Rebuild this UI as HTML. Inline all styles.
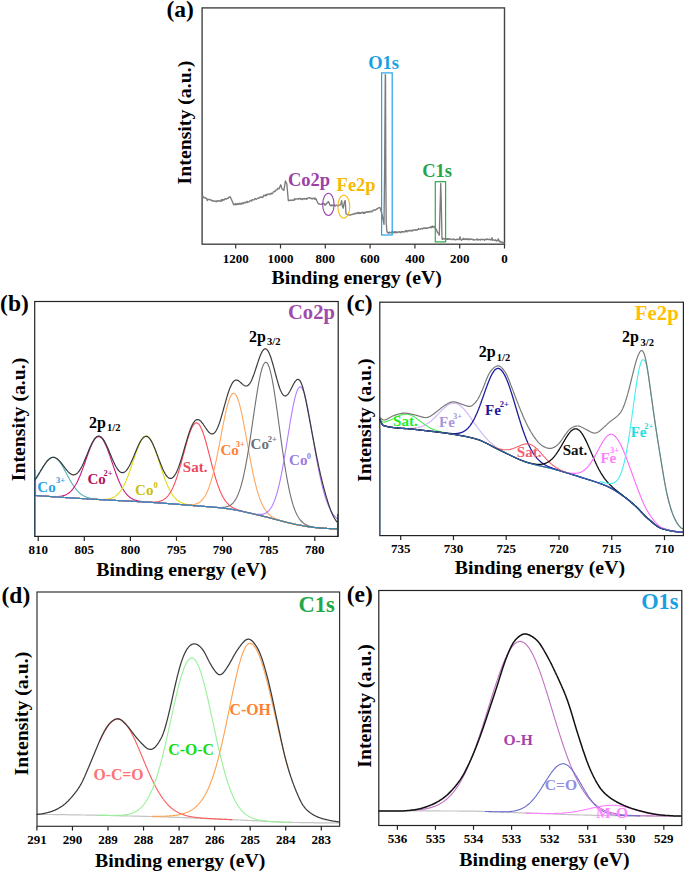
<!DOCTYPE html>
<html><head><meta charset="utf-8"><style>
html,body{margin:0;padding:0;background:#fff;}
body{width:685px;height:873px;overflow:hidden;}
svg{display:block;font-family:"Liberation Serif", serif;font-weight:bold;}
</style></head><body>
<svg width="685" height="873" viewBox="0 0 685 873">
<text x="166.4" y="16.8" font-size="23.5" fill="#000" >(a)</text>
<rect x="202.1" y="7.9" width="302.4" height="236.29999999999998" fill="none" stroke="#444" stroke-width="1.4"/>
<line x1="235.70" y1="244.2" x2="235.70" y2="248.5" stroke="#333" stroke-width="1.2"/>
<text x="235.70" y="262.6" font-size="13" text-anchor="middle">1200</text>
<line x1="280.50" y1="244.2" x2="280.50" y2="248.5" stroke="#333" stroke-width="1.2"/>
<text x="280.50" y="262.6" font-size="13" text-anchor="middle">1000</text>
<line x1="325.30" y1="244.2" x2="325.30" y2="248.5" stroke="#333" stroke-width="1.2"/>
<text x="325.30" y="262.6" font-size="13" text-anchor="middle">800</text>
<line x1="370.10" y1="244.2" x2="370.10" y2="248.5" stroke="#333" stroke-width="1.2"/>
<text x="370.10" y="262.6" font-size="13" text-anchor="middle">600</text>
<line x1="414.90" y1="244.2" x2="414.90" y2="248.5" stroke="#333" stroke-width="1.2"/>
<text x="414.90" y="262.6" font-size="13" text-anchor="middle">400</text>
<line x1="459.70" y1="244.2" x2="459.70" y2="248.5" stroke="#333" stroke-width="1.2"/>
<text x="459.70" y="262.6" font-size="13" text-anchor="middle">200</text>
<line x1="504.50" y1="244.2" x2="504.50" y2="248.5" stroke="#333" stroke-width="1.2"/>
<text x="504.50" y="262.6" font-size="13" text-anchor="middle">0</text>
<text transform="translate(191.4,184.4) rotate(-90)" font-size="19.8" fill="#000">Intensity (a.u.)</text>
<text x="271.5" y="283.5" font-size="19.8" fill="#000" >Binding energy (eV)</text>
<polyline fill="none" stroke="#7c7c7c" stroke-width="1.35" stroke-linejoin="round" stroke-linecap="round" points="202.5,197.8 203.0,196.2 203.6,197.7 204.1,197.5 204.6,197.8 205.2,198.1 205.7,197.7 206.2,198.6 206.8,198.6 207.3,200.5 207.8,199.4 208.3,199.3 208.9,199.5 209.4,199.5 209.9,199.5 210.4,199.9 210.9,200.3 211.5,200.2 212.0,200.8 212.5,200.5 213.0,200.7 213.6,201.4 214.1,201.2 214.6,200.9 215.1,201.0 215.6,201.3 216.2,201.8 216.7,200.9 217.2,200.9 217.7,201.3 218.2,200.5 218.8,200.8 219.3,201.2 219.8,201.0 220.3,200.8 220.9,201.0 221.4,199.6 221.9,201.1 222.4,200.1 223.0,199.5 223.5,200.1 224.0,200.0 224.5,199.3 225.1,198.8 225.6,199.0 226.1,198.7 226.6,199.1 227.2,198.5 227.7,198.1 228.2,198.2 228.8,197.5 229.3,197.0 229.9,197.4 230.4,197.0 230.9,198.3 231.5,199.6 232.0,200.8 232.5,202.1 233.1,203.4 233.6,204.9 234.1,204.6 234.6,204.3 235.2,204.6 235.7,203.5 236.2,204.7 236.7,204.6 237.2,203.6 237.8,204.3 238.3,203.8 238.8,204.4 239.3,203.3 239.9,203.6 240.4,204.2 240.9,204.4 241.4,202.9 241.9,203.4 242.4,203.6 242.9,203.0 243.4,203.7 244.0,202.5 244.5,202.9 245.0,202.2 245.5,203.0 246.0,202.3 246.5,202.0 247.0,201.3 247.5,202.5 248.0,202.0 248.6,201.8 249.1,201.8 249.6,201.3 250.1,200.8 250.6,200.5 251.1,200.4 251.6,201.1 252.1,199.7 252.6,199.9 253.1,199.8 253.7,199.9 254.2,199.8 254.7,198.9 255.2,198.5 255.7,199.0 256.2,199.3 256.7,199.0 257.2,198.6 257.7,198.2 258.2,198.2 258.8,197.8 259.3,198.1 259.8,197.2 260.3,197.4 260.8,197.1 261.3,197.2 261.8,196.9 262.3,197.6 262.8,197.0 263.3,196.8 263.8,195.2 264.4,195.7 264.9,195.4 265.4,195.7 265.9,194.4 266.4,195.6 266.9,195.3 267.4,194.2 267.9,194.1 268.4,194.0 268.9,194.1 269.4,194.2 269.9,194.6 270.5,193.5 271.0,193.7 271.5,193.2 272.0,193.7 272.5,193.1 273.0,193.1 273.5,191.8 274.0,191.7 274.5,191.1 275.0,191.6 275.5,190.9 276.0,190.1 276.6,189.7 277.1,189.7 277.6,188.8 278.1,188.3 278.6,188.5 279.1,188.9 279.6,187.4 280.1,186.2 280.7,184.8 281.2,186.2 281.8,188.4 282.3,189.1 282.9,189.3 283.4,190.0 283.9,190.4 284.4,187.3 284.9,184.1 285.4,181.0 285.9,182.3 286.4,182.8 286.9,184.6 287.6,192.6 288.3,200.5 288.8,200.7 289.3,200.2 289.8,200.3 290.3,200.1 290.9,200.2 291.4,200.6 291.9,200.0 292.4,200.0 292.9,200.3 293.4,200.2 293.9,200.4 294.5,198.7 295.0,199.6 295.5,198.9 296.0,199.0 296.6,199.0 297.1,198.9 297.6,198.9 298.2,198.6 298.7,199.2 299.2,198.5 299.7,198.5 300.3,198.9 300.8,198.4 301.3,199.5 301.8,199.1 302.4,199.6 302.9,198.7 303.4,198.6 303.9,198.8 304.5,199.1 305.0,198.6 305.5,198.9 306.0,198.6 306.5,199.2 307.0,198.2 307.5,198.8 308.0,198.1 308.5,197.9 309.0,197.9 309.5,197.6 310.0,198.1 310.5,198.5 311.0,198.2 311.6,198.5 312.1,199.0 312.6,198.5 313.1,198.6 313.6,198.5 314.1,198.0 314.6,199.1 315.2,198.1 315.7,199.2 316.2,199.0 316.8,201.0 317.4,202.0 318.0,203.3 318.6,203.9 319.1,203.7 319.7,204.1 320.2,204.3 320.8,204.4 321.3,204.3 321.9,203.9 322.4,204.1 323.0,203.2 323.5,203.8 324.1,203.6 324.6,204.8 325.2,205.1 325.8,204.0 326.3,204.2 326.8,203.5 327.3,202.5 327.8,202.5 328.3,201.5 328.9,202.3 329.6,204.2 330.2,205.5 330.8,205.6 331.3,205.0 331.9,205.7 332.4,205.7 332.9,204.9 333.5,205.0 334.1,205.3 334.6,205.2 335.2,206.1 335.8,205.6 336.3,205.1 336.9,205.3 337.4,205.4 338.0,206.3 338.5,205.1 339.1,205.1 339.6,205.1 340.2,204.8 340.9,203.8 341.6,200.7 342.4,206.2 343.2,208.2 344.1,203.3 344.6,201.4 345.2,200.6 345.7,209.3 346.0,213.6 346.7,214.2 347.4,214.3 348.0,214.4 348.5,214.9 349.1,215.0 349.6,214.9 350.2,215.0 350.7,214.8 351.3,214.5 351.8,214.7 352.3,214.4 352.9,214.0 353.4,214.2 353.9,214.2 354.4,213.7 355.0,213.3 355.5,213.5 356.0,213.9 356.5,213.0 357.0,213.0 357.5,213.0 358.0,213.5 358.5,212.3 359.0,213.2 359.5,213.5 360.0,212.7 360.5,213.5 361.0,213.1 361.5,212.6 362.0,212.9 362.5,212.1 363.0,212.5 363.5,213.4 364.0,212.2 364.5,213.3 365.0,212.5 365.5,212.8 366.0,212.4 366.5,211.5 367.0,212.1 367.5,212.3 368.0,211.7 368.5,211.6 369.0,212.2 369.5,211.8 370.0,211.3 370.5,211.5 371.0,211.9 371.5,211.2 372.0,211.5 372.5,211.5 373.0,210.7 373.5,210.0 374.0,209.8 374.5,210.1 375.1,210.2 375.6,209.7 376.1,209.6 376.6,209.0 377.1,209.1 377.6,208.6 378.1,208.4 378.6,207.8 379.1,207.5 379.6,207.7 380.1,207.7 380.7,210.0 381.4,212.2 382.0,214.5 382.5,216.9 383.0,219.4 383.5,221.9 384.0,224.3 384.6,172.0 385.3,74.6 385.5,75.0 385.8,172.0 386.2,223.0 386.9,231.6 387.4,232.4 387.9,232.1 388.4,233.4 389.0,232.7 389.5,232.2 390.0,232.8 390.5,232.6 391.0,232.2 391.5,232.9 392.0,232.1 392.5,231.1 393.0,232.6 393.5,232.0 394.0,232.9 394.5,232.0 395.0,231.7 395.5,232.8 396.0,231.7 396.5,232.2 397.0,232.7 397.5,232.1 398.0,232.0 398.5,232.0 399.0,232.3 399.5,231.6 400.0,232.1 400.5,232.1 401.0,232.8 401.5,231.7 402.0,231.4 402.5,232.0 403.0,231.6 403.5,231.8 404.0,231.7 404.5,232.1 405.0,231.3 405.5,231.5 406.0,230.4 406.5,231.0 407.0,231.9 407.5,230.9 408.0,230.8 408.5,230.5 409.0,231.1 409.5,230.9 410.0,230.3 410.5,230.9 411.0,230.7 411.5,230.8 412.0,230.1 412.5,231.0 413.0,230.4 413.5,230.1 414.0,229.8 414.5,229.9 415.0,230.2 415.5,229.7 416.0,230.1 416.5,229.8 417.0,230.1 417.5,229.8 418.0,229.3 418.5,228.5 419.0,229.3 419.5,229.4 420.0,229.1 420.5,229.1 421.0,228.6 421.5,228.6 422.1,228.3 422.6,229.1 423.1,228.5 423.6,228.2 424.1,227.7 424.6,228.1 425.1,228.6 425.7,228.2 426.2,227.6 426.7,228.4 427.2,228.3 427.7,228.0 428.2,227.8 428.7,227.9 429.3,227.5 429.8,227.5 430.3,226.8 430.8,227.6 431.3,227.0 431.8,227.7 432.3,226.0 432.9,227.0 433.4,227.0 433.9,226.4 434.4,226.6 434.9,227.6 435.4,228.5 436.0,228.9 436.5,230.0 437.0,231.4 437.6,232.6 438.1,233.1 438.7,234.2 439.3,235.2 439.8,217.6 440.3,200.0 440.7,183.4 441.2,200.0 442.0,239.0 442.5,239.3 443.0,238.5 443.5,238.4 444.0,239.0 444.5,238.6 445.0,238.8 445.5,239.1 446.0,239.3 446.5,238.7 447.0,239.5 447.5,238.5 448.0,239.4 448.5,238.6 449.0,238.7 449.5,239.5 450.0,239.1 450.5,239.0 451.0,239.1 451.5,239.5 452.0,239.3 452.5,239.3 453.0,239.7 453.5,239.0 454.0,239.1 454.5,239.1 455.0,239.8 455.5,239.7 456.0,239.8 456.5,239.3 457.0,239.2 457.5,239.6 458.0,239.1 458.5,239.6 459.0,239.6 459.5,239.0 460.1,236.8 460.7,239.3 461.2,240.0 461.7,240.3 462.2,239.3 462.7,239.3 463.2,238.4 463.7,239.4 464.2,239.3 464.7,238.9 465.2,239.6 465.7,238.7 466.3,239.3 466.8,239.4 467.3,238.8 467.8,239.7 468.3,239.8 468.8,238.8 469.3,238.8 469.8,239.6 470.3,239.4 470.8,238.9 471.3,239.3 471.8,239.3 472.3,239.3 472.8,239.7 473.3,239.5 473.8,240.1 474.3,239.9 474.8,239.7 475.3,239.8 475.8,239.9 476.4,239.7 476.9,238.9 477.4,239.8 477.9,239.4 478.4,240.1 478.9,239.5 479.4,239.6 479.9,239.6 480.4,240.1 480.9,239.5 481.4,239.3 481.9,239.6 482.4,239.3 482.9,239.5 483.4,239.4 483.9,239.6 484.4,240.2 484.9,239.3 485.4,239.5 485.9,239.4 486.5,239.7 487.0,239.0 487.5,239.2 488.0,239.5 488.5,239.7 489.0,239.5 489.5,239.3 490.0,239.1 490.5,239.7 491.0,240.1 491.5,239.6 492.0,237.6 492.5,240.2 493.0,239.7 493.5,240.0 494.0,240.0 494.5,240.3 495.0,240.2 495.5,239.8 496.0,240.8 496.5,241.0 497.0,240.3 497.5,240.6 498.0,240.6 498.2,238.8 499.0,240.4 499.5,241.8 500.0,241.2 500.5,242.1 501.0,241.8 501.5,241.8 502.0,242.1 502.5,242.8 503.0,242.3 503.5,242.6 504.0,243.0" />
<rect x="381.6" y="72.9" width="10.6" height="162.1" fill="none" stroke="#1fa4e6" stroke-width="1.2"/>
<rect x="435.3" y="181.7" width="10.3" height="60.2" fill="none" stroke="#2eaa4c" stroke-width="1.2"/>
<ellipse cx="328.4" cy="204.4" rx="5.7" ry="11.1" fill="none" stroke="#9b3fb0" stroke-width="1.1"/>
<ellipse cx="343.8" cy="206.6" rx="6.0" ry="11.4" fill="none" stroke="#f5bc10" stroke-width="1.1"/>
<text x="288.0" y="186" font-size="18.5" fill="#9d3fa9" >Co2p</text>
<text x="336.6" y="190.5" font-size="18.5" fill="#f8b800" >Fe2p</text>
<text x="368.2" y="68.8" font-size="18.5" fill="#1a9fe3" >O1s</text>
<text x="422.2" y="176.5" font-size="18.5" fill="#23a548" >C1s</text>
<text x="0.1" y="311.1" font-size="23.5" fill="#000" >(b)</text>
<polyline fill="none" stroke="#4fb3b8" stroke-width="1.1" stroke-linejoin="round" stroke-linecap="round" points="34.7,481.0 35.2,480.3 35.7,479.5 36.2,478.7 36.7,477.9 37.2,477.1 37.7,476.3 38.2,475.4 38.7,474.6 39.2,473.7 39.7,472.8 40.2,472.0 40.7,471.1 41.2,470.2 41.7,469.4 42.2,468.5 42.7,467.7 43.2,466.8 43.7,466.0 44.2,465.2 44.7,464.5 45.2,463.7 45.7,463.0 46.2,462.3 46.7,461.7 47.2,461.1 47.7,460.5 48.2,459.9 48.7,459.5 49.2,459.0 49.7,458.6 50.2,458.3 50.7,458.0 51.2,457.7 51.7,457.6 52.2,457.4 52.7,457.4 53.2,457.3 53.7,457.4 54.2,457.5 54.7,457.6 55.2,457.8 55.7,458.1 56.2,458.4 56.7,458.8 57.2,459.2 57.7,459.7 58.2,460.2 58.7,460.8 59.2,461.4 59.7,462.0 60.2,462.7 60.7,463.5 61.2,464.2 61.7,465.0 62.2,465.8 62.7,466.7 63.2,467.5 63.7,468.4 64.2,469.3 64.7,470.2 65.2,471.2 65.7,472.1 66.2,473.0 66.7,474.0 67.2,474.9 67.7,475.9 68.2,476.8 68.7,477.7 69.2,478.6 69.7,479.5 70.2,480.4 70.7,481.3 71.2,482.1 71.7,482.9 72.2,483.8 72.7,484.6 73.2,485.3 73.7,486.1 74.2,486.8 74.7,487.5 75.2,488.2 75.7,488.8 76.2,489.4 76.7,490.0 77.2,490.6 77.7,491.1 78.2,491.7 78.7,492.1 79.2,492.6 79.7,493.1 80.2,493.5 80.7,493.9 81.2,494.3 81.7,494.6 82.2,495.0 82.7,495.3 83.2,495.6 83.7,495.9 84.2,496.1 84.7,496.4 85.2,496.6 85.7,496.8 86.2,497.0 86.7,497.2 87.2,497.4 87.7,497.6 88.2,497.7 88.7,497.9 89.2,498.0 89.7,498.1 90.2,498.2 90.7,498.4 91.2,498.5 91.7,498.6 92.2,498.6 92.7,498.7 93.2,498.8 93.7,498.9 94.2,498.9 94.7,499.0 95.2,499.1 95.7,499.1 96.2,499.2 96.7,499.2 97.2,499.3 97.7,499.3 98.2,499.4 98.7,499.4 99.2,499.5 99.7,499.5 100.2,499.5 100.7,499.6 101.2,499.6 101.7,499.6 102.2,499.7 102.7,499.7 103.2,499.7 103.7,499.8 104.2,499.8 104.7,499.8 105.2,499.9 105.7,499.9 106.2,499.9 106.7,500.0 107.2,500.0 107.7,500.0 108.2,500.0 108.7,500.1 109.2,500.1 109.7,500.1 110.2,500.2 110.7,500.2 111.2,500.2 111.7,500.2 112.2,500.3 112.7,500.3 113.2,500.3 113.7,500.3 114.2,500.4 114.7,500.4 115.2,500.4 115.7,500.4 116.2,500.5 116.7,500.5 117.2,500.5 117.7,500.5 118.2,500.6 118.7,500.6 119.2,500.6 119.7,500.6 120.2,500.7 120.7,500.7 121.2,500.7 121.7,500.7 122.2,500.8 122.7,500.8 123.2,500.8 123.7,500.8 124.2,500.9 124.7,500.9 125.2,500.9 125.7,500.9 126.2,501.0 126.7,501.0 127.2,501.0 127.7,501.0 128.2,501.1 128.7,501.1 129.2,501.1 129.7,501.2 130.2,501.2 130.7,501.2 131.2,501.2 131.7,501.3 132.2,501.3 132.7,501.3 133.2,501.3 133.7,501.4 134.2,501.4 134.7,501.4 135.2,501.4 135.7,501.5 136.2,501.5 136.7,501.5 137.2,501.6 137.7,501.6 138.2,501.6 138.7,501.6 139.2,501.7 139.7,501.7 140.2,501.7 140.7,501.7 141.2,501.8 141.7,501.8 142.2,501.8 142.7,501.9 143.2,501.9 143.7,501.9 144.2,501.9 144.7,502.0 145.2,502.0 145.7,502.0 146.2,502.1 146.7,502.1 147.2,502.1 147.7,502.2 148.2,502.2 148.7,502.2 149.2,502.2 149.7,502.3 150.2,502.3 150.7,502.3 151.2,502.4 151.7,502.4 152.2,502.4 152.7,502.5 153.2,502.5 153.7,502.5 154.2,502.6 154.7,502.6 155.2,502.6 155.7,502.7 156.2,502.7 156.7,502.7 157.2,502.8 157.7,502.8 158.2,502.8 158.7,502.9 159.2,502.9 159.7,502.9 160.2,503.0 160.7,503.0 161.2,503.1 161.7,503.1 162.2,503.1 162.7,503.2 163.2,503.2 163.7,503.2 164.2,503.3 164.7,503.3 165.2,503.3 165.7,503.4 166.2,503.4 166.7,503.5 167.2,503.5 167.7,503.5 168.2,503.6 168.7,503.6 169.2,503.6 169.7,503.7 170.2,503.7 170.7,503.8 171.2,503.8 171.7,503.8 172.2,503.9 172.7,503.9 173.2,504.0 173.7,504.0 174.2,504.0 174.7,504.1 175.2,504.1 175.7,504.1 176.2,504.2 176.7,504.2 177.2,504.3 177.7,504.3 178.2,504.3 178.7,504.4 179.2,504.4 179.7,504.5 180.2,504.5 180.7,504.5 181.2,504.6 181.7,504.6 182.2,504.7 182.7,504.7 183.2,504.7 183.7,504.8 184.2,504.8 184.7,504.9 185.2,504.9 185.7,504.9 186.2,505.0 186.7,505.0 187.2,505.1 187.7,505.1 188.2,505.2 188.7,505.2 189.2,505.2 189.7,505.3 190.2,505.3 190.7,505.4 191.2,505.4 191.7,505.4 192.2,505.5 192.7,505.5 193.2,505.6 193.7,505.6 194.2,505.6 194.7,505.7 195.2,505.7 195.7,505.8 196.2,505.8 196.7,505.8 197.2,505.9 197.7,505.9 198.2,505.9 198.7,506.0 199.2,506.0 199.7,506.1 200.2,506.1 200.7,506.1 201.2,506.2 201.7,506.2 202.2,506.3 202.7,506.3 203.2,506.3 203.7,506.4 204.2,506.4 204.7,506.5 205.2,506.5 205.7,506.5 206.2,506.6 206.7,506.6 207.2,506.7 207.7,506.7 208.2,506.7 208.7,506.8 209.2,506.8 209.7,506.9 210.2,506.9 210.7,506.9 211.2,507.0 211.7,507.0 212.2,507.1 212.7,507.1 213.2,507.2 213.7,507.2 214.2,507.3 214.7,507.3 215.2,507.4 215.7,507.4 216.2,507.4 216.7,507.5 217.2,507.5 217.7,507.6 218.2,507.6 218.7,507.7 219.2,507.7 219.7,507.8 220.2,507.8 220.7,507.9 221.2,508.0 221.7,508.0 222.2,508.1 222.7,508.1 223.2,508.2 223.7,508.2 224.2,508.3 224.7,508.4 225.2,508.4 225.7,508.5 226.2,508.5 226.7,508.6 227.2,508.7 227.7,508.7 228.2,508.8 228.7,508.9 229.2,508.9 229.7,509.0 230.2,509.1 230.7,509.2 231.2,509.2 231.7,509.3 232.2,509.4 232.7,509.5 233.2,509.6 233.7,509.7 234.2,509.8 234.7,509.8 235.2,509.9 235.7,510.0 236.2,510.1 236.7,510.2 237.2,510.3 237.7,510.4 238.2,510.5 238.7,510.6 239.2,510.7 239.7,510.8 240.2,510.9 240.7,511.0 241.2,511.1 241.7,511.2 242.2,511.4 242.7,511.5 243.2,511.6 243.7,511.7 244.2,511.8 244.7,511.9 245.2,512.0 245.7,512.1 246.2,512.3 246.7,512.4 247.2,512.5 247.7,512.6 248.2,512.7 248.7,512.8 249.2,512.9 249.7,513.1 250.2,513.2 250.7,513.3 251.2,513.4 251.7,513.5 252.2,513.7 252.7,513.8 253.2,513.9 253.7,514.0 254.2,514.1 254.7,514.2 255.2,514.4 255.7,514.5 256.2,514.6 256.7,514.7 257.2,514.8 257.7,515.0 258.2,515.1 258.7,515.2 259.2,515.3 259.7,515.4 260.2,515.5 260.7,515.6 261.2,515.8 261.7,515.9 262.2,516.0 262.7,516.1 263.2,516.2 263.7,516.3 264.2,516.5 264.7,516.6 265.2,516.7 265.7,516.8 266.2,516.9 266.7,517.1 267.2,517.2 267.7,517.3 268.2,517.5 268.7,517.6 269.2,517.7 269.7,517.8 270.2,518.0 270.7,518.1 271.2,518.2 271.7,518.4 272.2,518.5 272.7,518.6 273.2,518.8 273.7,518.9 274.2,519.0 274.7,519.2 275.2,519.3 275.7,519.4 276.2,519.6 276.7,519.7 277.2,519.8 277.7,520.0 278.2,520.1 278.7,520.2 279.2,520.4 279.7,520.5 280.2,520.6 280.7,520.8 281.2,520.9 281.7,521.0 282.2,521.2 282.7,521.3 283.2,521.4 283.7,521.6 284.2,521.7 284.7,521.8 285.2,522.0 285.7,522.1 286.2,522.2 286.7,522.3 287.2,522.5 287.7,522.6 288.2,522.7 288.7,522.8 289.2,523.0 289.7,523.1 290.2,523.2 290.7,523.3 291.2,523.4 291.7,523.5 292.2,523.6 292.7,523.8 293.2,523.9 293.7,524.0 294.2,524.1 294.7,524.2 295.2,524.3 295.7,524.4 296.2,524.5 296.7,524.6 297.2,524.7 297.7,524.8 298.2,524.9 298.7,525.0 299.2,525.1 299.7,525.2 300.2,525.3 300.7,525.4 301.2,525.4 301.7,525.5 302.2,525.6 302.7,525.7 303.2,525.8 303.7,525.9 304.2,526.0 304.7,526.1 305.2,526.2 305.7,526.3 306.2,526.4 306.7,526.4 307.2,526.5 307.7,526.6 308.2,526.7 308.7,526.8 309.2,526.8 309.7,526.9 310.2,527.0 310.7,527.1 311.2,527.1 311.7,527.2 312.2,527.3 312.7,527.3 313.2,527.4 313.7,527.4 314.2,527.5 314.7,527.5 315.2,527.6 315.7,527.6 316.2,527.7 316.7,527.7 317.2,527.7 317.7,527.8 318.2,527.8 318.7,527.9 319.2,527.9 319.7,527.9 320.2,528.0 320.7,528.0 321.2,528.1 321.7,528.1 322.2,528.1 322.7,528.2 323.2,528.2 323.7,528.2 324.2,528.3 324.7,528.3 325.2,528.3 325.7,528.4 326.2,528.4 326.7,528.4 327.2,528.5 327.7,528.5 328.2,528.5 328.7,528.5 329.2,528.6 329.7,528.6 330.2,528.6 330.7,528.6 331.2,528.7 331.7,528.7 332.2,528.7 332.7,528.7 333.2,528.7 333.7,528.7 334.2,528.8 334.7,528.8 335.2,528.8 335.7,528.8 336.2,528.8 336.7,528.8 337.2,528.8" />
<polyline fill="none" stroke="#c8157e" stroke-width="1.1" stroke-linejoin="round" stroke-linecap="round" points="34.7,495.4 35.2,495.4 35.7,495.5 36.2,495.5 36.7,495.5 37.2,495.6 37.7,495.6 38.2,495.7 38.7,495.7 39.2,495.7 39.7,495.8 40.2,495.8 40.7,495.8 41.2,495.9 41.7,495.9 42.2,496.0 42.7,496.0 43.2,496.0 43.7,496.1 44.2,496.1 44.7,496.1 45.2,496.2 45.7,496.2 46.2,496.2 46.7,496.3 47.2,496.3 47.7,496.3 48.2,496.4 48.7,496.4 49.2,496.4 49.7,496.4 50.2,496.5 50.7,496.5 51.2,496.5 51.7,496.5 52.2,496.6 52.7,496.6 53.2,496.6 53.7,496.6 54.2,496.6 54.7,496.6 55.2,496.6 55.7,496.6 56.2,496.6 56.7,496.6 57.2,496.6 57.7,496.6 58.2,496.5 58.7,496.5 59.2,496.5 59.7,496.4 60.2,496.4 60.7,496.3 61.2,496.2 61.7,496.1 62.2,496.0 62.7,495.9 63.2,495.8 63.7,495.6 64.2,495.5 64.7,495.3 65.2,495.1 65.7,494.9 66.2,494.7 66.7,494.4 67.2,494.1 67.7,493.8 68.2,493.5 68.7,493.1 69.2,492.8 69.7,492.3 70.2,491.9 70.7,491.4 71.2,490.9 71.7,490.4 72.2,489.8 72.7,489.2 73.2,488.5 73.7,487.8 74.2,487.1 74.7,486.3 75.2,485.5 75.7,484.7 76.2,483.8 76.7,482.9 77.2,481.9 77.7,480.9 78.2,479.8 78.7,478.7 79.2,477.6 79.7,476.4 80.2,475.2 80.7,474.0 81.2,472.7 81.7,471.4 82.2,470.1 82.7,468.8 83.2,467.4 83.7,466.0 84.2,464.6 84.7,463.2 85.2,461.8 85.7,460.4 86.2,459.0 86.7,457.5 87.2,456.1 87.7,454.7 88.2,453.4 88.7,452.0 89.2,450.7 89.7,449.4 90.2,448.1 90.7,446.9 91.2,445.8 91.7,444.7 92.2,443.6 92.7,442.6 93.2,441.7 93.7,440.8 94.2,440.0 94.7,439.3 95.2,438.6 95.7,438.1 96.2,437.6 96.7,437.2 97.2,436.9 97.7,436.7 98.2,436.6 98.7,436.5 99.2,436.6 99.7,436.7 100.2,437.0 100.7,437.3 101.2,437.7 101.7,438.2 102.2,438.8 102.7,439.5 103.2,440.2 103.7,441.0 104.2,441.9 104.7,442.9 105.2,443.9 105.7,445.0 106.2,446.1 106.7,447.4 107.2,448.6 107.7,449.9 108.2,451.2 108.7,452.6 109.2,454.0 109.7,455.4 110.2,456.9 110.7,458.3 111.2,459.8 111.7,461.3 112.2,462.7 112.7,464.2 113.2,465.7 113.7,467.1 114.2,468.6 114.7,470.0 115.2,471.4 115.7,472.8 116.2,474.2 116.7,475.5 117.2,476.8 117.7,478.1 118.2,479.3 118.7,480.5 119.2,481.7 119.7,482.8 120.2,483.9 120.7,484.9 121.2,485.9 121.7,486.9 122.2,487.8 122.7,488.7 123.2,489.5 123.7,490.3 124.2,491.1 124.7,491.8 125.2,492.5 125.7,493.1 126.2,493.8 126.7,494.3 127.2,494.9 127.7,495.4 128.2,495.9 128.7,496.3 129.2,496.7 129.7,497.1 130.2,497.5 130.7,497.9 131.2,498.2 131.7,498.5 132.2,498.8 132.7,499.0 133.2,499.3 133.7,499.5 134.2,499.7 134.7,499.9 135.2,500.1 135.7,500.2 136.2,500.4 136.7,500.5 137.2,500.7 137.7,500.8 138.2,500.9 138.7,501.0 139.2,501.1 139.7,501.2 140.2,501.3 140.7,501.3 141.2,501.4 141.7,501.5 142.2,501.6 142.7,501.6 143.2,501.7 143.7,501.7 144.2,501.8 144.7,501.8 145.2,501.9 145.7,501.9 146.2,502.0 146.7,502.0 147.2,502.1 147.7,502.1 148.2,502.1 148.7,502.2 149.2,502.2 149.7,502.2 150.2,502.3 150.7,502.3 151.2,502.4 151.7,502.4 152.2,502.4 152.7,502.5 153.2,502.5 153.7,502.5 154.2,502.6 154.7,502.6 155.2,502.6 155.7,502.7 156.2,502.7 156.7,502.7 157.2,502.8 157.7,502.8 158.2,502.8 158.7,502.9 159.2,502.9 159.7,502.9 160.2,503.0 160.7,503.0 161.2,503.1 161.7,503.1 162.2,503.1 162.7,503.2 163.2,503.2 163.7,503.2 164.2,503.3 164.7,503.3 165.2,503.3 165.7,503.4 166.2,503.4 166.7,503.5 167.2,503.5 167.7,503.5 168.2,503.6 168.7,503.6 169.2,503.6 169.7,503.7 170.2,503.7 170.7,503.8 171.2,503.8 171.7,503.8 172.2,503.9 172.7,503.9 173.2,504.0 173.7,504.0 174.2,504.0 174.7,504.1 175.2,504.1 175.7,504.1 176.2,504.2 176.7,504.2 177.2,504.3 177.7,504.3 178.2,504.3 178.7,504.4 179.2,504.4 179.7,504.5 180.2,504.5 180.7,504.5 181.2,504.6 181.7,504.6 182.2,504.7 182.7,504.7 183.2,504.7 183.7,504.8 184.2,504.8 184.7,504.9 185.2,504.9 185.7,504.9 186.2,505.0 186.7,505.0 187.2,505.1 187.7,505.1 188.2,505.2 188.7,505.2 189.2,505.2 189.7,505.3 190.2,505.3 190.7,505.4 191.2,505.4 191.7,505.4 192.2,505.5 192.7,505.5 193.2,505.6 193.7,505.6 194.2,505.6 194.7,505.7 195.2,505.7 195.7,505.8 196.2,505.8 196.7,505.8 197.2,505.9 197.7,505.9 198.2,505.9 198.7,506.0 199.2,506.0 199.7,506.1 200.2,506.1 200.7,506.1 201.2,506.2 201.7,506.2 202.2,506.3 202.7,506.3 203.2,506.3 203.7,506.4 204.2,506.4 204.7,506.5 205.2,506.5 205.7,506.5 206.2,506.6 206.7,506.6 207.2,506.7 207.7,506.7 208.2,506.7 208.7,506.8 209.2,506.8 209.7,506.9 210.2,506.9 210.7,506.9 211.2,507.0 211.7,507.0 212.2,507.1 212.7,507.1 213.2,507.2 213.7,507.2 214.2,507.3 214.7,507.3 215.2,507.4 215.7,507.4 216.2,507.4 216.7,507.5 217.2,507.5 217.7,507.6 218.2,507.6 218.7,507.7 219.2,507.7 219.7,507.8 220.2,507.8 220.7,507.9 221.2,508.0 221.7,508.0 222.2,508.1 222.7,508.1 223.2,508.2 223.7,508.2 224.2,508.3 224.7,508.4 225.2,508.4 225.7,508.5 226.2,508.5 226.7,508.6 227.2,508.7 227.7,508.7 228.2,508.8 228.7,508.9 229.2,508.9 229.7,509.0 230.2,509.1 230.7,509.2 231.2,509.2 231.7,509.3 232.2,509.4 232.7,509.5 233.2,509.6 233.7,509.7 234.2,509.8 234.7,509.8 235.2,509.9 235.7,510.0 236.2,510.1 236.7,510.2 237.2,510.3 237.7,510.4 238.2,510.5 238.7,510.6 239.2,510.7 239.7,510.8 240.2,510.9 240.7,511.0 241.2,511.1 241.7,511.2 242.2,511.4 242.7,511.5 243.2,511.6 243.7,511.7 244.2,511.8 244.7,511.9 245.2,512.0 245.7,512.1 246.2,512.3 246.7,512.4 247.2,512.5 247.7,512.6 248.2,512.7 248.7,512.8 249.2,512.9 249.7,513.1 250.2,513.2 250.7,513.3 251.2,513.4 251.7,513.5 252.2,513.7 252.7,513.8 253.2,513.9 253.7,514.0 254.2,514.1 254.7,514.2 255.2,514.4 255.7,514.5 256.2,514.6 256.7,514.7 257.2,514.8 257.7,515.0 258.2,515.1 258.7,515.2 259.2,515.3 259.7,515.4 260.2,515.5 260.7,515.6 261.2,515.8 261.7,515.9 262.2,516.0 262.7,516.1 263.2,516.2 263.7,516.3 264.2,516.5 264.7,516.6 265.2,516.7 265.7,516.8 266.2,516.9 266.7,517.1 267.2,517.2 267.7,517.3 268.2,517.5 268.7,517.6 269.2,517.7 269.7,517.8 270.2,518.0 270.7,518.1 271.2,518.2 271.7,518.4 272.2,518.5 272.7,518.6 273.2,518.8 273.7,518.9 274.2,519.0 274.7,519.2 275.2,519.3 275.7,519.4 276.2,519.6 276.7,519.7 277.2,519.8 277.7,520.0 278.2,520.1 278.7,520.2 279.2,520.4 279.7,520.5 280.2,520.6 280.7,520.8 281.2,520.9 281.7,521.0 282.2,521.2 282.7,521.3 283.2,521.4 283.7,521.6 284.2,521.7 284.7,521.8 285.2,522.0 285.7,522.1 286.2,522.2 286.7,522.3 287.2,522.5 287.7,522.6 288.2,522.7 288.7,522.8 289.2,523.0 289.7,523.1 290.2,523.2 290.7,523.3 291.2,523.4 291.7,523.5 292.2,523.6 292.7,523.8 293.2,523.9 293.7,524.0 294.2,524.1 294.7,524.2 295.2,524.3 295.7,524.4 296.2,524.5 296.7,524.6 297.2,524.7 297.7,524.8 298.2,524.9 298.7,525.0 299.2,525.1 299.7,525.2 300.2,525.3 300.7,525.4 301.2,525.4 301.7,525.5 302.2,525.6 302.7,525.7 303.2,525.8 303.7,525.9 304.2,526.0 304.7,526.1 305.2,526.2 305.7,526.3 306.2,526.4 306.7,526.4 307.2,526.5 307.7,526.6 308.2,526.7 308.7,526.8 309.2,526.8 309.7,526.9 310.2,527.0 310.7,527.1 311.2,527.1 311.7,527.2 312.2,527.3 312.7,527.3 313.2,527.4 313.7,527.4 314.2,527.5 314.7,527.5 315.2,527.6 315.7,527.6 316.2,527.7 316.7,527.7 317.2,527.7 317.7,527.8 318.2,527.8 318.7,527.9 319.2,527.9 319.7,527.9 320.2,528.0 320.7,528.0 321.2,528.1 321.7,528.1 322.2,528.1 322.7,528.2 323.2,528.2 323.7,528.2 324.2,528.3 324.7,528.3 325.2,528.3 325.7,528.4 326.2,528.4 326.7,528.4 327.2,528.5 327.7,528.5 328.2,528.5 328.7,528.5 329.2,528.6 329.7,528.6 330.2,528.6 330.7,528.6 331.2,528.7 331.7,528.7 332.2,528.7 332.7,528.7 333.2,528.7 333.7,528.7 334.2,528.8 334.7,528.8 335.2,528.8 335.7,528.8 336.2,528.8 336.7,528.8 337.2,528.8" />
<polyline fill="none" stroke="#dede10" stroke-width="1.1" stroke-linejoin="round" stroke-linecap="round" points="34.7,495.4 35.2,495.4 35.7,495.5 36.2,495.5 36.7,495.6 37.2,495.6 37.7,495.6 38.2,495.7 38.7,495.7 39.2,495.7 39.7,495.8 40.2,495.8 40.7,495.8 41.2,495.9 41.7,495.9 42.2,496.0 42.7,496.0 43.2,496.0 43.7,496.1 44.2,496.1 44.7,496.1 45.2,496.2 45.7,496.2 46.2,496.2 46.7,496.3 47.2,496.3 47.7,496.4 48.2,496.4 48.7,496.4 49.2,496.5 49.7,496.5 50.2,496.5 50.7,496.6 51.2,496.6 51.7,496.6 52.2,496.7 52.7,496.7 53.2,496.7 53.7,496.8 54.2,496.8 54.7,496.8 55.2,496.9 55.7,496.9 56.2,496.9 56.7,497.0 57.2,497.0 57.7,497.0 58.2,497.1 58.7,497.1 59.2,497.1 59.7,497.2 60.2,497.2 60.7,497.2 61.2,497.3 61.7,497.3 62.2,497.3 62.7,497.4 63.2,497.4 63.7,497.4 64.2,497.5 64.7,497.5 65.2,497.5 65.7,497.6 66.2,497.6 66.7,497.6 67.2,497.7 67.7,497.7 68.2,497.7 68.7,497.8 69.2,497.8 69.7,497.8 70.2,497.8 70.7,497.9 71.2,497.9 71.7,497.9 72.2,498.0 72.7,498.0 73.2,498.0 73.7,498.1 74.2,498.1 74.7,498.1 75.2,498.2 75.7,498.2 76.2,498.2 76.7,498.2 77.2,498.3 77.7,498.3 78.2,498.3 78.7,498.4 79.2,498.4 79.7,498.4 80.2,498.5 80.7,498.5 81.2,498.5 81.7,498.5 82.2,498.6 82.7,498.6 83.2,498.6 83.7,498.7 84.2,498.7 84.7,498.7 85.2,498.7 85.7,498.8 86.2,498.8 86.7,498.8 87.2,498.9 87.7,498.9 88.2,498.9 88.7,498.9 89.2,499.0 89.7,499.0 90.2,499.0 90.7,499.1 91.2,499.1 91.7,499.1 92.2,499.1 92.7,499.2 93.2,499.2 93.7,499.2 94.2,499.2 94.7,499.3 95.2,499.3 95.7,499.3 96.2,499.3 96.7,499.4 97.2,499.4 97.7,499.4 98.2,499.4 98.7,499.4 99.2,499.4 99.7,499.5 100.2,499.5 100.7,499.5 101.2,499.5 101.7,499.5 102.2,499.5 102.7,499.5 103.2,499.5 103.7,499.5 104.2,499.4 104.7,499.4 105.2,499.4 105.7,499.3 106.2,499.3 106.7,499.3 107.2,499.2 107.7,499.1 108.2,499.0 108.7,499.0 109.2,498.9 109.7,498.7 110.2,498.6 110.7,498.5 111.2,498.3 111.7,498.1 112.2,498.0 112.7,497.7 113.2,497.5 113.7,497.3 114.2,497.0 114.7,496.7 115.2,496.4 115.7,496.0 116.2,495.6 116.7,495.2 117.2,494.8 117.7,494.3 118.2,493.8 118.7,493.3 119.2,492.7 119.7,492.1 120.2,491.4 120.7,490.7 121.2,490.0 121.7,489.2 122.2,488.4 122.7,487.6 123.2,486.7 123.7,485.7 124.2,484.7 124.7,483.7 125.2,482.7 125.7,481.5 126.2,480.4 126.7,479.2 127.2,478.0 127.7,476.7 128.2,475.4 128.7,474.1 129.2,472.7 129.7,471.3 130.2,469.9 130.7,468.5 131.2,467.0 131.7,465.6 132.2,464.1 132.7,462.6 133.2,461.1 133.7,459.6 134.2,458.1 134.7,456.7 135.2,455.2 135.7,453.7 136.2,452.3 136.7,450.9 137.2,449.6 137.7,448.3 138.2,447.0 138.7,445.8 139.2,444.6 139.7,443.5 140.2,442.4 140.7,441.5 141.2,440.5 141.7,439.7 142.2,439.0 142.7,438.3 143.2,437.7 143.7,437.2 144.2,436.8 144.7,436.5 145.2,436.2 145.7,436.1 146.2,436.1 146.7,436.1 147.2,436.3 147.7,436.5 148.2,436.9 148.7,437.3 149.2,437.8 149.7,438.4 150.2,439.1 150.7,439.9 151.2,440.8 151.7,441.7 152.2,442.7 152.7,443.8 153.2,445.0 153.7,446.2 154.2,447.4 154.7,448.8 155.2,450.1 155.7,451.5 156.2,453.0 156.7,454.4 157.2,455.9 157.7,457.4 158.2,459.0 158.7,460.5 159.2,462.1 159.7,463.6 160.2,465.2 160.7,466.7 161.2,468.3 161.7,469.8 162.2,471.3 162.7,472.8 163.2,474.2 163.7,475.7 164.2,477.1 164.7,478.5 165.2,479.8 165.7,481.1 166.2,482.4 166.7,483.6 167.2,484.8 167.7,485.9 168.2,487.0 168.7,488.1 169.2,489.1 169.7,490.1 170.2,491.0 170.7,491.9 171.2,492.8 171.7,493.6 172.2,494.3 172.7,495.1 173.2,495.8 173.7,496.4 174.2,497.0 174.7,497.6 175.2,498.2 175.7,498.7 176.2,499.2 176.7,499.6 177.2,500.1 177.7,500.5 178.2,500.8 178.7,501.2 179.2,501.5 179.7,501.8 180.2,502.1 180.7,502.4 181.2,502.6 181.7,502.8 182.2,503.1 182.7,503.3 183.2,503.4 183.7,503.6 184.2,503.8 184.7,503.9 185.2,504.1 185.7,504.2 186.2,504.3 186.7,504.4 187.2,504.5 187.7,504.6 188.2,504.7 188.7,504.8 189.2,504.9 189.7,505.0 190.2,505.1 190.7,505.1 191.2,505.2 191.7,505.3 192.2,505.3 192.7,505.4 193.2,505.4 193.7,505.5 194.2,505.5 194.7,505.6 195.2,505.6 195.7,505.7 196.2,505.7 196.7,505.8 197.2,505.8 197.7,505.9 198.2,505.9 198.7,506.0 199.2,506.0 199.7,506.0 200.2,506.1 200.7,506.1 201.2,506.2 201.7,506.2 202.2,506.2 202.7,506.3 203.2,506.3 203.7,506.4 204.2,506.4 204.7,506.4 205.2,506.5 205.7,506.5 206.2,506.6 206.7,506.6 207.2,506.7 207.7,506.7 208.2,506.7 208.7,506.8 209.2,506.8 209.7,506.9 210.2,506.9 210.7,506.9 211.2,507.0 211.7,507.0 212.2,507.1 212.7,507.1 213.2,507.2 213.7,507.2 214.2,507.3 214.7,507.3 215.2,507.4 215.7,507.4 216.2,507.4 216.7,507.5 217.2,507.5 217.7,507.6 218.2,507.6 218.7,507.7 219.2,507.7 219.7,507.8 220.2,507.8 220.7,507.9 221.2,508.0 221.7,508.0 222.2,508.1 222.7,508.1 223.2,508.2 223.7,508.2 224.2,508.3 224.7,508.4 225.2,508.4 225.7,508.5 226.2,508.5 226.7,508.6 227.2,508.7 227.7,508.7 228.2,508.8 228.7,508.9 229.2,508.9 229.7,509.0 230.2,509.1 230.7,509.2 231.2,509.2 231.7,509.3 232.2,509.4 232.7,509.5 233.2,509.6 233.7,509.7 234.2,509.8 234.7,509.8 235.2,509.9 235.7,510.0 236.2,510.1 236.7,510.2 237.2,510.3 237.7,510.4 238.2,510.5 238.7,510.6 239.2,510.7 239.7,510.8 240.2,510.9 240.7,511.0 241.2,511.1 241.7,511.2 242.2,511.4 242.7,511.5 243.2,511.6 243.7,511.7 244.2,511.8 244.7,511.9 245.2,512.0 245.7,512.1 246.2,512.3 246.7,512.4 247.2,512.5 247.7,512.6 248.2,512.7 248.7,512.8 249.2,512.9 249.7,513.1 250.2,513.2 250.7,513.3 251.2,513.4 251.7,513.5 252.2,513.7 252.7,513.8 253.2,513.9 253.7,514.0 254.2,514.1 254.7,514.2 255.2,514.4 255.7,514.5 256.2,514.6 256.7,514.7 257.2,514.8 257.7,515.0 258.2,515.1 258.7,515.2 259.2,515.3 259.7,515.4 260.2,515.5 260.7,515.6 261.2,515.8 261.7,515.9 262.2,516.0 262.7,516.1 263.2,516.2 263.7,516.3 264.2,516.5 264.7,516.6 265.2,516.7 265.7,516.8 266.2,516.9 266.7,517.1 267.2,517.2 267.7,517.3 268.2,517.5 268.7,517.6 269.2,517.7 269.7,517.8 270.2,518.0 270.7,518.1 271.2,518.2 271.7,518.4 272.2,518.5 272.7,518.6 273.2,518.8 273.7,518.9 274.2,519.0 274.7,519.2 275.2,519.3 275.7,519.4 276.2,519.6 276.7,519.7 277.2,519.8 277.7,520.0 278.2,520.1 278.7,520.2 279.2,520.4 279.7,520.5 280.2,520.6 280.7,520.8 281.2,520.9 281.7,521.0 282.2,521.2 282.7,521.3 283.2,521.4 283.7,521.6 284.2,521.7 284.7,521.8 285.2,522.0 285.7,522.1 286.2,522.2 286.7,522.3 287.2,522.5 287.7,522.6 288.2,522.7 288.7,522.8 289.2,523.0 289.7,523.1 290.2,523.2 290.7,523.3 291.2,523.4 291.7,523.5 292.2,523.6 292.7,523.8 293.2,523.9 293.7,524.0 294.2,524.1 294.7,524.2 295.2,524.3 295.7,524.4 296.2,524.5 296.7,524.6 297.2,524.7 297.7,524.8 298.2,524.9 298.7,525.0 299.2,525.1 299.7,525.2 300.2,525.3 300.7,525.4 301.2,525.4 301.7,525.5 302.2,525.6 302.7,525.7 303.2,525.8 303.7,525.9 304.2,526.0 304.7,526.1 305.2,526.2 305.7,526.3 306.2,526.4 306.7,526.4 307.2,526.5 307.7,526.6 308.2,526.7 308.7,526.8 309.2,526.8 309.7,526.9 310.2,527.0 310.7,527.1 311.2,527.1 311.7,527.2 312.2,527.3 312.7,527.3 313.2,527.4 313.7,527.4 314.2,527.5 314.7,527.5 315.2,527.6 315.7,527.6 316.2,527.7 316.7,527.7 317.2,527.7 317.7,527.8 318.2,527.8 318.7,527.9 319.2,527.9 319.7,527.9 320.2,528.0 320.7,528.0 321.2,528.1 321.7,528.1 322.2,528.1 322.7,528.2 323.2,528.2 323.7,528.2 324.2,528.3 324.7,528.3 325.2,528.3 325.7,528.4 326.2,528.4 326.7,528.4 327.2,528.5 327.7,528.5 328.2,528.5 328.7,528.5 329.2,528.6 329.7,528.6 330.2,528.6 330.7,528.6 331.2,528.7 331.7,528.7 332.2,528.7 332.7,528.7 333.2,528.7 333.7,528.7 334.2,528.8 334.7,528.8 335.2,528.8 335.7,528.8 336.2,528.8 336.7,528.8 337.2,528.8" />
<polyline fill="none" stroke="#ff4a5a" stroke-width="1.1" stroke-linejoin="round" stroke-linecap="round" points="34.7,495.4 35.2,495.4 35.7,495.5 36.2,495.5 36.7,495.6 37.2,495.6 37.7,495.6 38.2,495.7 38.7,495.7 39.2,495.7 39.7,495.8 40.2,495.8 40.7,495.8 41.2,495.9 41.7,495.9 42.2,496.0 42.7,496.0 43.2,496.0 43.7,496.1 44.2,496.1 44.7,496.1 45.2,496.2 45.7,496.2 46.2,496.2 46.7,496.3 47.2,496.3 47.7,496.4 48.2,496.4 48.7,496.4 49.2,496.5 49.7,496.5 50.2,496.5 50.7,496.6 51.2,496.6 51.7,496.6 52.2,496.7 52.7,496.7 53.2,496.7 53.7,496.8 54.2,496.8 54.7,496.8 55.2,496.9 55.7,496.9 56.2,496.9 56.7,497.0 57.2,497.0 57.7,497.0 58.2,497.1 58.7,497.1 59.2,497.1 59.7,497.2 60.2,497.2 60.7,497.2 61.2,497.3 61.7,497.3 62.2,497.3 62.7,497.4 63.2,497.4 63.7,497.4 64.2,497.5 64.7,497.5 65.2,497.5 65.7,497.6 66.2,497.6 66.7,497.6 67.2,497.7 67.7,497.7 68.2,497.7 68.7,497.8 69.2,497.8 69.7,497.8 70.2,497.8 70.7,497.9 71.2,497.9 71.7,497.9 72.2,498.0 72.7,498.0 73.2,498.0 73.7,498.1 74.2,498.1 74.7,498.1 75.2,498.2 75.7,498.2 76.2,498.2 76.7,498.2 77.2,498.3 77.7,498.3 78.2,498.3 78.7,498.4 79.2,498.4 79.7,498.4 80.2,498.5 80.7,498.5 81.2,498.5 81.7,498.5 82.2,498.6 82.7,498.6 83.2,498.6 83.7,498.7 84.2,498.7 84.7,498.7 85.2,498.7 85.7,498.8 86.2,498.8 86.7,498.8 87.2,498.9 87.7,498.9 88.2,498.9 88.7,499.0 89.2,499.0 89.7,499.0 90.2,499.0 90.7,499.1 91.2,499.1 91.7,499.1 92.2,499.2 92.7,499.2 93.2,499.2 93.7,499.2 94.2,499.3 94.7,499.3 95.2,499.3 95.7,499.4 96.2,499.4 96.7,499.4 97.2,499.4 97.7,499.5 98.2,499.5 98.7,499.5 99.2,499.6 99.7,499.6 100.2,499.6 100.7,499.6 101.2,499.7 101.7,499.7 102.2,499.7 102.7,499.8 103.2,499.8 103.7,499.8 104.2,499.8 104.7,499.9 105.2,499.9 105.7,499.9 106.2,499.9 106.7,500.0 107.2,500.0 107.7,500.0 108.2,500.0 108.7,500.1 109.2,500.1 109.7,500.1 110.2,500.2 110.7,500.2 111.2,500.2 111.7,500.2 112.2,500.3 112.7,500.3 113.2,500.3 113.7,500.3 114.2,500.4 114.7,500.4 115.2,500.4 115.7,500.4 116.2,500.5 116.7,500.5 117.2,500.5 117.7,500.5 118.2,500.6 118.7,500.6 119.2,500.6 119.7,500.6 120.2,500.7 120.7,500.7 121.2,500.7 121.7,500.7 122.2,500.8 122.7,500.8 123.2,500.8 123.7,500.8 124.2,500.9 124.7,500.9 125.2,500.9 125.7,500.9 126.2,501.0 126.7,501.0 127.2,501.0 127.7,501.0 128.2,501.1 128.7,501.1 129.2,501.1 129.7,501.2 130.2,501.2 130.7,501.2 131.2,501.2 131.7,501.3 132.2,501.3 132.7,501.3 133.2,501.3 133.7,501.4 134.2,501.4 134.7,501.4 135.2,501.4 135.7,501.5 136.2,501.5 136.7,501.5 137.2,501.5 137.7,501.6 138.2,501.6 138.7,501.6 139.2,501.7 139.7,501.7 140.2,501.7 140.7,501.7 141.2,501.8 141.7,501.8 142.2,501.8 142.7,501.8 143.2,501.9 143.7,501.9 144.2,501.9 144.7,501.9 145.2,502.0 145.7,502.0 146.2,502.0 146.7,502.0 147.2,502.1 147.7,502.1 148.2,502.1 148.7,502.1 149.2,502.1 149.7,502.1 150.2,502.1 150.7,502.2 151.2,502.2 151.7,502.2 152.2,502.2 152.7,502.2 153.2,502.1 153.7,502.1 154.2,502.1 154.7,502.1 155.2,502.0 155.7,502.0 156.2,502.0 156.7,501.9 157.2,501.8 157.7,501.8 158.2,501.7 158.7,501.6 159.2,501.4 159.7,501.3 160.2,501.2 160.7,501.0 161.2,500.8 161.7,500.6 162.2,500.4 162.7,500.2 163.2,499.9 163.7,499.6 164.2,499.3 164.7,498.9 165.2,498.5 165.7,498.1 166.2,497.7 166.7,497.2 167.2,496.6 167.7,496.1 168.2,495.5 168.7,494.8 169.2,494.1 169.7,493.4 170.2,492.6 170.7,491.8 171.2,490.9 171.7,490.0 172.2,489.0 172.7,488.0 173.2,486.9 173.7,485.7 174.2,484.5 174.7,483.3 175.2,482.0 175.7,480.6 176.2,479.2 176.7,477.8 177.2,476.3 177.7,474.7 178.2,473.1 178.7,471.5 179.2,469.8 179.7,468.1 180.2,466.4 180.7,464.6 181.2,462.8 181.7,460.9 182.2,459.1 182.7,457.2 183.2,455.4 183.7,453.5 184.2,451.6 184.7,449.8 185.2,447.9 185.7,446.1 186.2,444.3 186.7,442.5 187.2,440.8 187.7,439.1 188.2,437.5 188.7,436.0 189.2,434.4 189.7,433.0 190.2,431.7 190.7,430.4 191.2,429.2 191.7,428.1 192.2,427.1 192.7,426.2 193.2,425.4 193.7,424.7 194.2,424.1 194.7,423.6 195.2,423.3 195.7,423.0 196.2,422.9 196.7,422.9 197.2,423.1 197.7,423.3 198.2,423.7 198.7,424.1 199.2,424.7 199.7,425.4 200.2,426.2 200.7,427.2 201.2,428.2 201.7,429.3 202.2,430.5 202.7,431.8 203.2,433.2 203.7,434.7 204.2,436.2 204.7,437.8 205.2,439.5 205.7,441.2 206.2,443.0 206.7,444.8 207.2,446.7 207.7,448.6 208.2,450.5 208.7,452.4 209.2,454.4 209.7,456.3 210.2,458.3 210.7,460.2 211.2,462.2 211.7,464.1 212.2,466.0 212.7,467.9 213.2,469.7 213.7,471.6 214.2,473.3 214.7,475.1 215.2,476.8 215.7,478.5 216.2,480.1 216.7,481.7 217.2,483.2 217.7,484.6 218.2,486.1 218.7,487.4 219.2,488.8 219.7,490.0 220.2,491.2 220.7,492.4 221.2,493.5 221.7,494.5 222.2,495.6 222.7,496.5 223.2,497.4 223.7,498.3 224.2,499.1 224.7,499.9 225.2,500.6 225.7,501.3 226.2,501.9 226.7,502.5 227.2,503.1 227.7,503.6 228.2,504.1 228.7,504.6 229.2,505.1 229.7,505.5 230.2,505.9 230.7,506.3 231.2,506.6 231.7,507.0 232.2,507.3 232.7,507.6 233.2,507.8 233.7,508.1 234.2,508.4 234.7,508.6 235.2,508.8 235.7,509.0 236.2,509.2 236.7,509.4 237.2,509.6 237.7,509.8 238.2,510.0 238.7,510.1 239.2,510.3 239.7,510.4 240.2,510.6 240.7,510.7 241.2,510.9 241.7,511.0 242.2,511.2 242.7,511.3 243.2,511.4 243.7,511.5 244.2,511.7 244.7,511.8 245.2,511.9 245.7,512.1 246.2,512.2 246.7,512.3 247.2,512.4 247.7,512.6 248.2,512.7 248.7,512.8 249.2,512.9 249.7,513.0 250.2,513.2 250.7,513.3 251.2,513.4 251.7,513.5 252.2,513.6 252.7,513.8 253.2,513.9 253.7,514.0 254.2,514.1 254.7,514.2 255.2,514.4 255.7,514.5 256.2,514.6 256.7,514.7 257.2,514.8 257.7,515.0 258.2,515.1 258.7,515.2 259.2,515.3 259.7,515.4 260.2,515.5 260.7,515.6 261.2,515.8 261.7,515.9 262.2,516.0 262.7,516.1 263.2,516.2 263.7,516.3 264.2,516.5 264.7,516.6 265.2,516.7 265.7,516.8 266.2,516.9 266.7,517.1 267.2,517.2 267.7,517.3 268.2,517.5 268.7,517.6 269.2,517.7 269.7,517.8 270.2,518.0 270.7,518.1 271.2,518.2 271.7,518.4 272.2,518.5 272.7,518.6 273.2,518.8 273.7,518.9 274.2,519.0 274.7,519.2 275.2,519.3 275.7,519.4 276.2,519.6 276.7,519.7 277.2,519.8 277.7,520.0 278.2,520.1 278.7,520.2 279.2,520.4 279.7,520.5 280.2,520.6 280.7,520.8 281.2,520.9 281.7,521.0 282.2,521.2 282.7,521.3 283.2,521.4 283.7,521.6 284.2,521.7 284.7,521.8 285.2,522.0 285.7,522.1 286.2,522.2 286.7,522.3 287.2,522.5 287.7,522.6 288.2,522.7 288.7,522.8 289.2,523.0 289.7,523.1 290.2,523.2 290.7,523.3 291.2,523.4 291.7,523.5 292.2,523.6 292.7,523.8 293.2,523.9 293.7,524.0 294.2,524.1 294.7,524.2 295.2,524.3 295.7,524.4 296.2,524.5 296.7,524.6 297.2,524.7 297.7,524.8 298.2,524.9 298.7,525.0 299.2,525.1 299.7,525.2 300.2,525.3 300.7,525.4 301.2,525.4 301.7,525.5 302.2,525.6 302.7,525.7 303.2,525.8 303.7,525.9 304.2,526.0 304.7,526.1 305.2,526.2 305.7,526.3 306.2,526.4 306.7,526.4 307.2,526.5 307.7,526.6 308.2,526.7 308.7,526.8 309.2,526.8 309.7,526.9 310.2,527.0 310.7,527.1 311.2,527.1 311.7,527.2 312.2,527.3 312.7,527.3 313.2,527.4 313.7,527.4 314.2,527.5 314.7,527.5 315.2,527.6 315.7,527.6 316.2,527.7 316.7,527.7 317.2,527.7 317.7,527.8 318.2,527.8 318.7,527.9 319.2,527.9 319.7,527.9 320.2,528.0 320.7,528.0 321.2,528.1 321.7,528.1 322.2,528.1 322.7,528.2 323.2,528.2 323.7,528.2 324.2,528.3 324.7,528.3 325.2,528.3 325.7,528.4 326.2,528.4 326.7,528.4 327.2,528.5 327.7,528.5 328.2,528.5 328.7,528.5 329.2,528.6 329.7,528.6 330.2,528.6 330.7,528.6 331.2,528.7 331.7,528.7 332.2,528.7 332.7,528.7 333.2,528.7 333.7,528.7 334.2,528.8 334.7,528.8 335.2,528.8 335.7,528.8 336.2,528.8 336.7,528.8 337.2,528.8" />
<polyline fill="none" stroke="#ffa55c" stroke-width="1.1" stroke-linejoin="round" stroke-linecap="round" points="34.7,495.4 35.2,495.4 35.7,495.5 36.2,495.5 36.7,495.6 37.2,495.6 37.7,495.6 38.2,495.7 38.7,495.7 39.2,495.7 39.7,495.8 40.2,495.8 40.7,495.8 41.2,495.9 41.7,495.9 42.2,496.0 42.7,496.0 43.2,496.0 43.7,496.1 44.2,496.1 44.7,496.1 45.2,496.2 45.7,496.2 46.2,496.2 46.7,496.3 47.2,496.3 47.7,496.4 48.2,496.4 48.7,496.4 49.2,496.5 49.7,496.5 50.2,496.5 50.7,496.6 51.2,496.6 51.7,496.6 52.2,496.7 52.7,496.7 53.2,496.7 53.7,496.8 54.2,496.8 54.7,496.8 55.2,496.9 55.7,496.9 56.2,496.9 56.7,497.0 57.2,497.0 57.7,497.0 58.2,497.1 58.7,497.1 59.2,497.1 59.7,497.2 60.2,497.2 60.7,497.2 61.2,497.3 61.7,497.3 62.2,497.3 62.7,497.4 63.2,497.4 63.7,497.4 64.2,497.5 64.7,497.5 65.2,497.5 65.7,497.6 66.2,497.6 66.7,497.6 67.2,497.7 67.7,497.7 68.2,497.7 68.7,497.8 69.2,497.8 69.7,497.8 70.2,497.8 70.7,497.9 71.2,497.9 71.7,497.9 72.2,498.0 72.7,498.0 73.2,498.0 73.7,498.1 74.2,498.1 74.7,498.1 75.2,498.2 75.7,498.2 76.2,498.2 76.7,498.2 77.2,498.3 77.7,498.3 78.2,498.3 78.7,498.4 79.2,498.4 79.7,498.4 80.2,498.5 80.7,498.5 81.2,498.5 81.7,498.5 82.2,498.6 82.7,498.6 83.2,498.6 83.7,498.7 84.2,498.7 84.7,498.7 85.2,498.7 85.7,498.8 86.2,498.8 86.7,498.8 87.2,498.9 87.7,498.9 88.2,498.9 88.7,499.0 89.2,499.0 89.7,499.0 90.2,499.0 90.7,499.1 91.2,499.1 91.7,499.1 92.2,499.2 92.7,499.2 93.2,499.2 93.7,499.2 94.2,499.3 94.7,499.3 95.2,499.3 95.7,499.4 96.2,499.4 96.7,499.4 97.2,499.4 97.7,499.5 98.2,499.5 98.7,499.5 99.2,499.6 99.7,499.6 100.2,499.6 100.7,499.6 101.2,499.7 101.7,499.7 102.2,499.7 102.7,499.8 103.2,499.8 103.7,499.8 104.2,499.8 104.7,499.9 105.2,499.9 105.7,499.9 106.2,499.9 106.7,500.0 107.2,500.0 107.7,500.0 108.2,500.0 108.7,500.1 109.2,500.1 109.7,500.1 110.2,500.2 110.7,500.2 111.2,500.2 111.7,500.2 112.2,500.3 112.7,500.3 113.2,500.3 113.7,500.3 114.2,500.4 114.7,500.4 115.2,500.4 115.7,500.4 116.2,500.5 116.7,500.5 117.2,500.5 117.7,500.5 118.2,500.6 118.7,500.6 119.2,500.6 119.7,500.6 120.2,500.7 120.7,500.7 121.2,500.7 121.7,500.7 122.2,500.8 122.7,500.8 123.2,500.8 123.7,500.8 124.2,500.9 124.7,500.9 125.2,500.9 125.7,500.9 126.2,501.0 126.7,501.0 127.2,501.0 127.7,501.0 128.2,501.1 128.7,501.1 129.2,501.1 129.7,501.2 130.2,501.2 130.7,501.2 131.2,501.2 131.7,501.3 132.2,501.3 132.7,501.3 133.2,501.3 133.7,501.4 134.2,501.4 134.7,501.4 135.2,501.4 135.7,501.5 136.2,501.5 136.7,501.5 137.2,501.6 137.7,501.6 138.2,501.6 138.7,501.6 139.2,501.7 139.7,501.7 140.2,501.7 140.7,501.7 141.2,501.8 141.7,501.8 142.2,501.8 142.7,501.9 143.2,501.9 143.7,501.9 144.2,501.9 144.7,502.0 145.2,502.0 145.7,502.0 146.2,502.1 146.7,502.1 147.2,502.1 147.7,502.2 148.2,502.2 148.7,502.2 149.2,502.2 149.7,502.3 150.2,502.3 150.7,502.3 151.2,502.4 151.7,502.4 152.2,502.4 152.7,502.5 153.2,502.5 153.7,502.5 154.2,502.6 154.7,502.6 155.2,502.6 155.7,502.7 156.2,502.7 156.7,502.7 157.2,502.8 157.7,502.8 158.2,502.8 158.7,502.9 159.2,502.9 159.7,502.9 160.2,503.0 160.7,503.0 161.2,503.1 161.7,503.1 162.2,503.1 162.7,503.2 163.2,503.2 163.7,503.2 164.2,503.3 164.7,503.3 165.2,503.3 165.7,503.4 166.2,503.4 166.7,503.5 167.2,503.5 167.7,503.5 168.2,503.6 168.7,503.6 169.2,503.6 169.7,503.7 170.2,503.7 170.7,503.8 171.2,503.8 171.7,503.8 172.2,503.9 172.7,503.9 173.2,503.9 173.7,504.0 174.2,504.0 174.7,504.1 175.2,504.1 175.7,504.1 176.2,504.2 176.7,504.2 177.2,504.3 177.7,504.3 178.2,504.3 178.7,504.4 179.2,504.4 179.7,504.4 180.2,504.5 180.7,504.5 181.2,504.5 181.7,504.6 182.2,504.6 182.7,504.6 183.2,504.7 183.7,504.7 184.2,504.7 184.7,504.8 185.2,504.8 185.7,504.8 186.2,504.8 186.7,504.8 187.2,504.9 187.7,504.9 188.2,504.9 188.7,504.9 189.2,504.9 189.7,504.9 190.2,504.8 190.7,504.8 191.2,504.8 191.7,504.8 192.2,504.7 192.7,504.6 193.2,504.6 193.7,504.5 194.2,504.4 194.7,504.3 195.2,504.2 195.7,504.0 196.2,503.9 196.7,503.7 197.2,503.5 197.7,503.3 198.2,503.0 198.7,502.7 199.2,502.4 199.7,502.1 200.2,501.7 200.7,501.3 201.2,500.9 201.7,500.4 202.2,499.8 202.7,499.3 203.2,498.7 203.7,498.0 204.2,497.3 204.7,496.5 205.2,495.7 205.7,494.8 206.2,493.9 206.7,492.8 207.2,491.8 207.7,490.6 208.2,489.4 208.7,488.1 209.2,486.8 209.7,485.4 210.2,483.9 210.7,482.3 211.2,480.7 211.7,479.0 212.2,477.2 212.7,475.3 213.2,473.4 213.7,471.3 214.2,469.3 214.7,467.1 215.2,464.9 215.7,462.6 216.2,460.3 216.7,457.9 217.2,455.5 217.7,453.0 218.2,450.5 218.7,447.9 219.2,445.3 219.7,442.7 220.2,440.1 220.7,437.5 221.2,434.9 221.7,432.2 222.2,429.6 222.7,427.1 223.2,424.5 223.7,422.0 224.2,419.6 224.7,417.2 225.2,414.8 225.7,412.6 226.2,410.4 226.7,408.4 227.2,406.4 227.7,404.5 228.2,402.8 228.7,401.2 229.2,399.7 229.7,398.4 230.2,397.2 230.7,396.2 231.2,395.3 231.7,394.5 232.2,394.0 232.7,393.6 233.2,393.3 233.7,393.3 234.2,393.4 234.7,393.7 235.2,394.1 235.7,394.7 236.2,395.5 236.7,396.4 237.2,397.5 237.7,398.8 238.2,400.2 238.7,401.7 239.2,403.4 239.7,405.2 240.2,407.1 240.7,409.2 241.2,411.3 241.7,413.6 242.2,415.9 242.7,418.4 243.2,420.9 243.7,423.5 244.2,426.1 244.7,428.8 245.2,431.5 245.7,434.2 246.2,437.0 246.7,439.8 247.2,442.6 247.7,445.4 248.2,448.2 248.7,451.0 249.2,453.7 249.7,456.4 250.2,459.1 250.7,461.7 251.2,464.3 251.7,466.9 252.2,469.4 252.7,471.8 253.2,474.2 253.7,476.4 254.2,478.7 254.7,480.8 255.2,482.9 255.7,484.9 256.2,486.9 256.7,488.7 257.2,490.5 257.7,492.2 258.2,493.9 258.7,495.4 259.2,496.9 259.7,498.4 260.2,499.7 260.7,501.0 261.2,502.2 261.7,503.4 262.2,504.4 262.7,505.5 263.2,506.4 263.7,507.4 264.2,508.2 264.7,509.0 265.2,509.8 265.7,510.5 266.2,511.2 266.7,511.8 267.2,512.4 267.7,513.0 268.2,513.5 268.7,514.0 269.2,514.5 269.7,515.0 270.2,515.4 270.7,515.8 271.2,516.1 271.7,516.5 272.2,516.8 272.7,517.1 273.2,517.4 273.7,517.7 274.2,518.0 274.7,518.2 275.2,518.5 275.7,518.7 276.2,518.9 276.7,519.1 277.2,519.3 277.7,519.5 278.2,519.7 278.7,519.9 279.2,520.1 279.7,520.2 280.2,520.4 280.7,520.6 281.2,520.7 281.7,520.9 282.2,521.0 282.7,521.2 283.2,521.3 283.7,521.5 284.2,521.6 284.7,521.8 285.2,521.9 285.7,522.0 286.2,522.2 286.7,522.3 287.2,522.4 287.7,522.6 288.2,522.7 288.7,522.8 289.2,522.9 289.7,523.1 290.2,523.2 290.7,523.3 291.2,523.4 291.7,523.5 292.2,523.6 292.7,523.8 293.2,523.9 293.7,524.0 294.2,524.1 294.7,524.2 295.2,524.3 295.7,524.4 296.2,524.5 296.7,524.6 297.2,524.7 297.7,524.8 298.2,524.9 298.7,525.0 299.2,525.1 299.7,525.2 300.2,525.3 300.7,525.3 301.2,525.4 301.7,525.5 302.2,525.6 302.7,525.7 303.2,525.8 303.7,525.9 304.2,526.0 304.7,526.1 305.2,526.2 305.7,526.3 306.2,526.4 306.7,526.4 307.2,526.5 307.7,526.6 308.2,526.7 308.7,526.8 309.2,526.8 309.7,526.9 310.2,527.0 310.7,527.1 311.2,527.1 311.7,527.2 312.2,527.3 312.7,527.3 313.2,527.4 313.7,527.4 314.2,527.5 314.7,527.5 315.2,527.6 315.7,527.6 316.2,527.7 316.7,527.7 317.2,527.7 317.7,527.8 318.2,527.8 318.7,527.9 319.2,527.9 319.7,527.9 320.2,528.0 320.7,528.0 321.2,528.1 321.7,528.1 322.2,528.1 322.7,528.2 323.2,528.2 323.7,528.2 324.2,528.3 324.7,528.3 325.2,528.3 325.7,528.4 326.2,528.4 326.7,528.4 327.2,528.5 327.7,528.5 328.2,528.5 328.7,528.5 329.2,528.6 329.7,528.6 330.2,528.6 330.7,528.6 331.2,528.7 331.7,528.7 332.2,528.7 332.7,528.7 333.2,528.7 333.7,528.7 334.2,528.8 334.7,528.8 335.2,528.8 335.7,528.8 336.2,528.8 336.7,528.8 337.2,528.8" />
<polyline fill="none" stroke="#707070" stroke-width="1.1" stroke-linejoin="round" stroke-linecap="round" points="34.7,495.4 35.2,495.4 35.7,495.5 36.2,495.5 36.7,495.6 37.2,495.6 37.7,495.6 38.2,495.7 38.7,495.7 39.2,495.7 39.7,495.8 40.2,495.8 40.7,495.8 41.2,495.9 41.7,495.9 42.2,496.0 42.7,496.0 43.2,496.0 43.7,496.1 44.2,496.1 44.7,496.1 45.2,496.2 45.7,496.2 46.2,496.2 46.7,496.3 47.2,496.3 47.7,496.4 48.2,496.4 48.7,496.4 49.2,496.5 49.7,496.5 50.2,496.5 50.7,496.6 51.2,496.6 51.7,496.6 52.2,496.7 52.7,496.7 53.2,496.7 53.7,496.8 54.2,496.8 54.7,496.8 55.2,496.9 55.7,496.9 56.2,496.9 56.7,497.0 57.2,497.0 57.7,497.0 58.2,497.1 58.7,497.1 59.2,497.1 59.7,497.2 60.2,497.2 60.7,497.2 61.2,497.3 61.7,497.3 62.2,497.3 62.7,497.4 63.2,497.4 63.7,497.4 64.2,497.5 64.7,497.5 65.2,497.5 65.7,497.6 66.2,497.6 66.7,497.6 67.2,497.7 67.7,497.7 68.2,497.7 68.7,497.8 69.2,497.8 69.7,497.8 70.2,497.8 70.7,497.9 71.2,497.9 71.7,497.9 72.2,498.0 72.7,498.0 73.2,498.0 73.7,498.1 74.2,498.1 74.7,498.1 75.2,498.2 75.7,498.2 76.2,498.2 76.7,498.2 77.2,498.3 77.7,498.3 78.2,498.3 78.7,498.4 79.2,498.4 79.7,498.4 80.2,498.5 80.7,498.5 81.2,498.5 81.7,498.5 82.2,498.6 82.7,498.6 83.2,498.6 83.7,498.7 84.2,498.7 84.7,498.7 85.2,498.7 85.7,498.8 86.2,498.8 86.7,498.8 87.2,498.9 87.7,498.9 88.2,498.9 88.7,499.0 89.2,499.0 89.7,499.0 90.2,499.0 90.7,499.1 91.2,499.1 91.7,499.1 92.2,499.2 92.7,499.2 93.2,499.2 93.7,499.2 94.2,499.3 94.7,499.3 95.2,499.3 95.7,499.4 96.2,499.4 96.7,499.4 97.2,499.4 97.7,499.5 98.2,499.5 98.7,499.5 99.2,499.6 99.7,499.6 100.2,499.6 100.7,499.6 101.2,499.7 101.7,499.7 102.2,499.7 102.7,499.8 103.2,499.8 103.7,499.8 104.2,499.8 104.7,499.9 105.2,499.9 105.7,499.9 106.2,499.9 106.7,500.0 107.2,500.0 107.7,500.0 108.2,500.0 108.7,500.1 109.2,500.1 109.7,500.1 110.2,500.2 110.7,500.2 111.2,500.2 111.7,500.2 112.2,500.3 112.7,500.3 113.2,500.3 113.7,500.3 114.2,500.4 114.7,500.4 115.2,500.4 115.7,500.4 116.2,500.5 116.7,500.5 117.2,500.5 117.7,500.5 118.2,500.6 118.7,500.6 119.2,500.6 119.7,500.6 120.2,500.7 120.7,500.7 121.2,500.7 121.7,500.7 122.2,500.8 122.7,500.8 123.2,500.8 123.7,500.8 124.2,500.9 124.7,500.9 125.2,500.9 125.7,500.9 126.2,501.0 126.7,501.0 127.2,501.0 127.7,501.0 128.2,501.1 128.7,501.1 129.2,501.1 129.7,501.2 130.2,501.2 130.7,501.2 131.2,501.2 131.7,501.3 132.2,501.3 132.7,501.3 133.2,501.3 133.7,501.4 134.2,501.4 134.7,501.4 135.2,501.4 135.7,501.5 136.2,501.5 136.7,501.5 137.2,501.6 137.7,501.6 138.2,501.6 138.7,501.6 139.2,501.7 139.7,501.7 140.2,501.7 140.7,501.7 141.2,501.8 141.7,501.8 142.2,501.8 142.7,501.9 143.2,501.9 143.7,501.9 144.2,501.9 144.7,502.0 145.2,502.0 145.7,502.0 146.2,502.1 146.7,502.1 147.2,502.1 147.7,502.2 148.2,502.2 148.7,502.2 149.2,502.2 149.7,502.3 150.2,502.3 150.7,502.3 151.2,502.4 151.7,502.4 152.2,502.4 152.7,502.5 153.2,502.5 153.7,502.5 154.2,502.6 154.7,502.6 155.2,502.6 155.7,502.7 156.2,502.7 156.7,502.7 157.2,502.8 157.7,502.8 158.2,502.8 158.7,502.9 159.2,502.9 159.7,502.9 160.2,503.0 160.7,503.0 161.2,503.1 161.7,503.1 162.2,503.1 162.7,503.2 163.2,503.2 163.7,503.2 164.2,503.3 164.7,503.3 165.2,503.3 165.7,503.4 166.2,503.4 166.7,503.5 167.2,503.5 167.7,503.5 168.2,503.6 168.7,503.6 169.2,503.6 169.7,503.7 170.2,503.7 170.7,503.8 171.2,503.8 171.7,503.8 172.2,503.9 172.7,503.9 173.2,504.0 173.7,504.0 174.2,504.0 174.7,504.1 175.2,504.1 175.7,504.1 176.2,504.2 176.7,504.2 177.2,504.3 177.7,504.3 178.2,504.3 178.7,504.4 179.2,504.4 179.7,504.5 180.2,504.5 180.7,504.5 181.2,504.6 181.7,504.6 182.2,504.7 182.7,504.7 183.2,504.7 183.7,504.8 184.2,504.8 184.7,504.9 185.2,504.9 185.7,504.9 186.2,505.0 186.7,505.0 187.2,505.1 187.7,505.1 188.2,505.2 188.7,505.2 189.2,505.2 189.7,505.3 190.2,505.3 190.7,505.4 191.2,505.4 191.7,505.4 192.2,505.5 192.7,505.5 193.2,505.6 193.7,505.6 194.2,505.6 194.7,505.7 195.2,505.7 195.7,505.8 196.2,505.8 196.7,505.8 197.2,505.9 197.7,505.9 198.2,505.9 198.7,506.0 199.2,506.0 199.7,506.1 200.2,506.1 200.7,506.1 201.2,506.2 201.7,506.2 202.2,506.3 202.7,506.3 203.2,506.3 203.7,506.4 204.2,506.4 204.7,506.4 205.2,506.5 205.7,506.5 206.2,506.6 206.7,506.6 207.2,506.6 207.7,506.7 208.2,506.7 208.7,506.8 209.2,506.8 209.7,506.8 210.2,506.9 210.7,506.9 211.2,507.0 211.7,507.0 212.2,507.0 212.7,507.1 213.2,507.1 213.7,507.2 214.2,507.2 214.7,507.2 215.2,507.3 215.7,507.3 216.2,507.3 216.7,507.4 217.2,507.4 217.7,507.4 218.2,507.4 218.7,507.5 219.2,507.5 219.7,507.5 220.2,507.5 220.7,507.5 221.2,507.5 221.7,507.5 222.2,507.5 222.7,507.4 223.2,507.4 223.7,507.4 224.2,507.3 224.7,507.3 225.2,507.2 225.7,507.1 226.2,507.0 226.7,506.8 227.2,506.7 227.7,506.5 228.2,506.3 228.7,506.1 229.2,505.9 229.7,505.6 230.2,505.3 230.7,505.0 231.2,504.6 231.7,504.2 232.2,503.8 232.7,503.3 233.2,502.8 233.7,502.2 234.2,501.5 234.7,500.9 235.2,500.1 235.7,499.3 236.2,498.4 236.7,497.5 237.2,496.4 237.7,495.3 238.2,494.2 238.7,492.9 239.2,491.6 239.7,490.1 240.2,488.6 240.7,487.0 241.2,485.3 241.7,483.5 242.2,481.6 242.7,479.6 243.2,477.5 243.7,475.3 244.2,473.0 244.7,470.7 245.2,468.2 245.7,465.6 246.2,462.9 246.7,460.2 247.2,457.3 247.7,454.4 248.2,451.4 248.7,448.3 249.2,445.1 249.7,441.9 250.2,438.6 250.7,435.3 251.2,431.9 251.7,428.5 252.2,425.1 252.7,421.7 253.2,418.2 253.7,414.8 254.2,411.4 254.7,408.0 255.2,404.6 255.7,401.3 256.2,398.1 256.7,394.9 257.2,391.8 257.7,388.8 258.2,385.9 258.7,383.2 259.2,380.5 259.7,378.1 260.2,375.7 260.7,373.5 261.2,371.5 261.7,369.7 262.2,368.0 262.7,366.6 263.2,365.3 263.7,364.3 264.2,363.5 264.7,362.9 265.2,362.5 265.7,362.3 266.2,362.4 266.7,362.6 267.2,363.1 267.7,363.9 268.2,364.8 268.7,366.0 269.2,367.3 269.7,368.9 270.2,370.7 270.7,372.7 271.2,374.8 271.7,377.1 272.2,379.6 272.7,382.3 273.2,385.1 273.7,388.0 274.2,391.1 274.7,394.3 275.2,397.6 275.7,400.9 276.2,404.4 276.7,407.9 277.2,411.5 277.7,415.1 278.2,418.8 278.7,422.5 279.2,426.2 279.7,429.8 280.2,433.5 280.7,437.2 281.2,440.8 281.7,444.4 282.2,448.0 282.7,451.5 283.2,454.9 283.7,458.3 284.2,461.6 284.7,464.9 285.2,468.0 285.7,471.1 286.2,474.0 286.7,476.9 287.2,479.7 287.7,482.4 288.2,484.9 288.7,487.4 289.2,489.8 289.7,492.1 290.2,494.3 290.7,496.3 291.2,498.3 291.7,500.2 292.2,502.0 292.7,503.7 293.2,505.3 293.7,506.8 294.2,508.2 294.7,509.6 295.2,510.9 295.7,512.0 296.2,513.2 296.7,514.2 297.2,515.2 297.7,516.1 298.2,517.0 298.7,517.8 299.2,518.5 299.7,519.2 300.2,519.9 300.7,520.5 301.2,521.0 301.7,521.5 302.2,522.0 302.7,522.5 303.2,522.9 303.7,523.3 304.2,523.7 304.7,524.0 305.2,524.3 305.7,524.6 306.2,524.9 306.7,525.1 307.2,525.3 307.7,525.6 308.2,525.8 308.7,525.9 309.2,526.1 309.7,526.3 310.2,526.4 310.7,526.6 311.2,526.7 311.7,526.8 312.2,526.9 312.7,527.0 313.2,527.1 313.7,527.2 314.2,527.3 314.7,527.4 315.2,527.4 315.7,527.5 316.2,527.5 316.7,527.6 317.2,527.7 317.7,527.7 318.2,527.8 318.7,527.8 319.2,527.9 319.7,527.9 320.2,527.9 320.7,528.0 321.2,528.0 321.7,528.1 322.2,528.1 322.7,528.2 323.2,528.2 323.7,528.2 324.2,528.3 324.7,528.3 325.2,528.3 325.7,528.4 326.2,528.4 326.7,528.4 327.2,528.5 327.7,528.5 328.2,528.5 328.7,528.5 329.2,528.6 329.7,528.6 330.2,528.6 330.7,528.6 331.2,528.7 331.7,528.7 332.2,528.7 332.7,528.7 333.2,528.7 333.7,528.7 334.2,528.8 334.7,528.8 335.2,528.8 335.7,528.8 336.2,528.8 336.7,528.8 337.2,528.8" />
<polyline fill="none" stroke="#b27cff" stroke-width="1.1" stroke-linejoin="round" stroke-linecap="round" points="34.7,495.4 35.2,495.4 35.7,495.5 36.2,495.5 36.7,495.6 37.2,495.6 37.7,495.6 38.2,495.7 38.7,495.7 39.2,495.7 39.7,495.8 40.2,495.8 40.7,495.8 41.2,495.9 41.7,495.9 42.2,496.0 42.7,496.0 43.2,496.0 43.7,496.1 44.2,496.1 44.7,496.1 45.2,496.2 45.7,496.2 46.2,496.2 46.7,496.3 47.2,496.3 47.7,496.4 48.2,496.4 48.7,496.4 49.2,496.5 49.7,496.5 50.2,496.5 50.7,496.6 51.2,496.6 51.7,496.6 52.2,496.7 52.7,496.7 53.2,496.7 53.7,496.8 54.2,496.8 54.7,496.8 55.2,496.9 55.7,496.9 56.2,496.9 56.7,497.0 57.2,497.0 57.7,497.0 58.2,497.1 58.7,497.1 59.2,497.1 59.7,497.2 60.2,497.2 60.7,497.2 61.2,497.3 61.7,497.3 62.2,497.3 62.7,497.4 63.2,497.4 63.7,497.4 64.2,497.5 64.7,497.5 65.2,497.5 65.7,497.6 66.2,497.6 66.7,497.6 67.2,497.7 67.7,497.7 68.2,497.7 68.7,497.8 69.2,497.8 69.7,497.8 70.2,497.8 70.7,497.9 71.2,497.9 71.7,497.9 72.2,498.0 72.7,498.0 73.2,498.0 73.7,498.1 74.2,498.1 74.7,498.1 75.2,498.2 75.7,498.2 76.2,498.2 76.7,498.2 77.2,498.3 77.7,498.3 78.2,498.3 78.7,498.4 79.2,498.4 79.7,498.4 80.2,498.5 80.7,498.5 81.2,498.5 81.7,498.5 82.2,498.6 82.7,498.6 83.2,498.6 83.7,498.7 84.2,498.7 84.7,498.7 85.2,498.7 85.7,498.8 86.2,498.8 86.7,498.8 87.2,498.9 87.7,498.9 88.2,498.9 88.7,499.0 89.2,499.0 89.7,499.0 90.2,499.0 90.7,499.1 91.2,499.1 91.7,499.1 92.2,499.2 92.7,499.2 93.2,499.2 93.7,499.2 94.2,499.3 94.7,499.3 95.2,499.3 95.7,499.4 96.2,499.4 96.7,499.4 97.2,499.4 97.7,499.5 98.2,499.5 98.7,499.5 99.2,499.6 99.7,499.6 100.2,499.6 100.7,499.6 101.2,499.7 101.7,499.7 102.2,499.7 102.7,499.8 103.2,499.8 103.7,499.8 104.2,499.8 104.7,499.9 105.2,499.9 105.7,499.9 106.2,499.9 106.7,500.0 107.2,500.0 107.7,500.0 108.2,500.0 108.7,500.1 109.2,500.1 109.7,500.1 110.2,500.2 110.7,500.2 111.2,500.2 111.7,500.2 112.2,500.3 112.7,500.3 113.2,500.3 113.7,500.3 114.2,500.4 114.7,500.4 115.2,500.4 115.7,500.4 116.2,500.5 116.7,500.5 117.2,500.5 117.7,500.5 118.2,500.6 118.7,500.6 119.2,500.6 119.7,500.6 120.2,500.7 120.7,500.7 121.2,500.7 121.7,500.7 122.2,500.8 122.7,500.8 123.2,500.8 123.7,500.8 124.2,500.9 124.7,500.9 125.2,500.9 125.7,500.9 126.2,501.0 126.7,501.0 127.2,501.0 127.7,501.0 128.2,501.1 128.7,501.1 129.2,501.1 129.7,501.2 130.2,501.2 130.7,501.2 131.2,501.2 131.7,501.3 132.2,501.3 132.7,501.3 133.2,501.3 133.7,501.4 134.2,501.4 134.7,501.4 135.2,501.4 135.7,501.5 136.2,501.5 136.7,501.5 137.2,501.6 137.7,501.6 138.2,501.6 138.7,501.6 139.2,501.7 139.7,501.7 140.2,501.7 140.7,501.7 141.2,501.8 141.7,501.8 142.2,501.8 142.7,501.9 143.2,501.9 143.7,501.9 144.2,501.9 144.7,502.0 145.2,502.0 145.7,502.0 146.2,502.1 146.7,502.1 147.2,502.1 147.7,502.2 148.2,502.2 148.7,502.2 149.2,502.2 149.7,502.3 150.2,502.3 150.7,502.3 151.2,502.4 151.7,502.4 152.2,502.4 152.7,502.5 153.2,502.5 153.7,502.5 154.2,502.6 154.7,502.6 155.2,502.6 155.7,502.7 156.2,502.7 156.7,502.7 157.2,502.8 157.7,502.8 158.2,502.8 158.7,502.9 159.2,502.9 159.7,502.9 160.2,503.0 160.7,503.0 161.2,503.1 161.7,503.1 162.2,503.1 162.7,503.2 163.2,503.2 163.7,503.2 164.2,503.3 164.7,503.3 165.2,503.3 165.7,503.4 166.2,503.4 166.7,503.5 167.2,503.5 167.7,503.5 168.2,503.6 168.7,503.6 169.2,503.6 169.7,503.7 170.2,503.7 170.7,503.8 171.2,503.8 171.7,503.8 172.2,503.9 172.7,503.9 173.2,504.0 173.7,504.0 174.2,504.0 174.7,504.1 175.2,504.1 175.7,504.1 176.2,504.2 176.7,504.2 177.2,504.3 177.7,504.3 178.2,504.3 178.7,504.4 179.2,504.4 179.7,504.5 180.2,504.5 180.7,504.5 181.2,504.6 181.7,504.6 182.2,504.7 182.7,504.7 183.2,504.7 183.7,504.8 184.2,504.8 184.7,504.9 185.2,504.9 185.7,504.9 186.2,505.0 186.7,505.0 187.2,505.1 187.7,505.1 188.2,505.2 188.7,505.2 189.2,505.2 189.7,505.3 190.2,505.3 190.7,505.4 191.2,505.4 191.7,505.4 192.2,505.5 192.7,505.5 193.2,505.6 193.7,505.6 194.2,505.6 194.7,505.7 195.2,505.7 195.7,505.8 196.2,505.8 196.7,505.8 197.2,505.9 197.7,505.9 198.2,505.9 198.7,506.0 199.2,506.0 199.7,506.1 200.2,506.1 200.7,506.1 201.2,506.2 201.7,506.2 202.2,506.3 202.7,506.3 203.2,506.3 203.7,506.4 204.2,506.4 204.7,506.5 205.2,506.5 205.7,506.5 206.2,506.6 206.7,506.6 207.2,506.7 207.7,506.7 208.2,506.7 208.7,506.8 209.2,506.8 209.7,506.9 210.2,506.9 210.7,506.9 211.2,507.0 211.7,507.0 212.2,507.1 212.7,507.1 213.2,507.2 213.7,507.2 214.2,507.3 214.7,507.3 215.2,507.4 215.7,507.4 216.2,507.4 216.7,507.5 217.2,507.5 217.7,507.6 218.2,507.6 218.7,507.7 219.2,507.7 219.7,507.8 220.2,507.8 220.7,507.9 221.2,508.0 221.7,508.0 222.2,508.1 222.7,508.1 223.2,508.2 223.7,508.2 224.2,508.3 224.7,508.4 225.2,508.4 225.7,508.5 226.2,508.5 226.7,508.6 227.2,508.7 227.7,508.7 228.2,508.8 228.7,508.9 229.2,508.9 229.7,509.0 230.2,509.1 230.7,509.2 231.2,509.2 231.7,509.3 232.2,509.4 232.7,509.5 233.2,509.6 233.7,509.7 234.2,509.8 234.7,509.8 235.2,509.9 235.7,510.0 236.2,510.1 236.7,510.2 237.2,510.3 237.7,510.4 238.2,510.5 238.7,510.6 239.2,510.7 239.7,510.8 240.2,510.9 240.7,511.0 241.2,511.1 241.7,511.2 242.2,511.4 242.7,511.5 243.2,511.6 243.7,511.7 244.2,511.8 244.7,511.9 245.2,512.0 245.7,512.1 246.2,512.2 246.7,512.3 247.2,512.5 247.7,512.6 248.2,512.7 248.7,512.8 249.2,512.9 249.7,513.0 250.2,513.1 250.7,513.2 251.2,513.3 251.7,513.4 252.2,513.5 252.7,513.6 253.2,513.7 253.7,513.8 254.2,513.9 254.7,514.0 255.2,514.1 255.7,514.1 256.2,514.2 256.7,514.3 257.2,514.3 257.7,514.4 258.2,514.4 258.7,514.4 259.2,514.4 259.7,514.4 260.2,514.4 260.7,514.4 261.2,514.4 261.7,514.3 262.2,514.2 262.7,514.1 263.2,514.0 263.7,513.9 264.2,513.7 264.7,513.5 265.2,513.3 265.7,513.1 266.2,512.8 266.7,512.5 267.2,512.1 267.7,511.7 268.2,511.3 268.7,510.8 269.2,510.2 269.7,509.6 270.2,509.0 270.7,508.3 271.2,507.5 271.7,506.7 272.2,505.8 272.7,504.8 273.2,503.7 273.7,502.6 274.2,501.4 274.7,500.1 275.2,498.7 275.7,497.3 276.2,495.7 276.7,494.1 277.2,492.4 277.7,490.6 278.2,488.7 278.7,486.6 279.2,484.6 279.7,482.4 280.2,480.1 280.7,477.7 281.2,475.3 281.7,472.7 282.2,470.1 282.7,467.4 283.2,464.7 283.7,461.9 284.2,459.0 284.7,456.0 285.2,453.0 285.7,450.0 286.2,446.9 286.7,443.8 287.2,440.7 287.7,437.6 288.2,434.5 288.7,431.4 289.2,428.3 289.7,425.2 290.2,422.2 290.7,419.3 291.2,416.4 291.7,413.6 292.2,410.9 292.7,408.2 293.2,405.7 293.7,403.3 294.2,401.0 294.7,398.9 295.2,396.9 295.7,395.1 296.2,393.4 296.7,391.9 297.2,390.6 297.7,389.5 298.2,388.5 298.7,387.8 299.2,387.3 299.7,386.9 300.2,386.8 300.7,386.9 301.2,387.2 301.7,387.7 302.2,388.4 302.7,389.3 303.2,390.4 303.7,391.7 304.2,393.2 304.7,394.9 305.2,396.8 305.7,398.8 306.2,400.9 306.7,403.2 307.2,405.6 307.7,408.1 308.2,410.7 308.7,413.3 309.2,416.1 309.7,418.9 310.2,421.8 310.7,424.7 311.2,427.6 311.7,430.6 312.2,433.5 312.7,436.5 313.2,439.5 313.7,442.4 314.2,445.4 314.7,448.3 315.2,451.1 315.7,454.0 316.2,456.8 316.7,459.5 317.2,462.2 317.7,464.9 318.2,467.5 318.7,470.0 319.2,472.5 319.7,474.9 320.2,477.2 320.7,479.5 321.2,481.7 321.7,483.8 322.2,485.9 322.7,487.9 323.2,489.8 323.7,491.7 324.2,493.4 324.7,495.1 325.2,496.8 325.7,498.3 326.2,499.8 326.7,501.2 327.2,502.6 327.7,503.9 328.2,505.1 328.7,506.3 329.2,507.4 329.7,508.5 330.2,509.5 330.7,510.4 331.2,511.3 331.7,512.1 332.2,512.9 332.7,513.7 333.2,514.4 333.7,515.1 334.2,515.7 334.7,516.3 335.2,516.8 335.7,517.3 336.2,517.8 336.7,518.3 337.2,518.7" />
<polyline fill="none" stroke="#3a8ab0" stroke-width="1.2" stroke-linejoin="round" stroke-linecap="round" points="34.7,495.4 35.2,495.4 35.7,495.5 36.2,495.5 36.7,495.6 37.2,495.6 37.7,495.6 38.2,495.7 38.7,495.7 39.2,495.7 39.7,495.8 40.2,495.8 40.7,495.8 41.2,495.9 41.7,495.9 42.2,496.0 42.7,496.0 43.2,496.0 43.7,496.1 44.2,496.1 44.7,496.1 45.2,496.2 45.7,496.2 46.2,496.2 46.7,496.3 47.2,496.3 47.7,496.4 48.2,496.4 48.7,496.4 49.2,496.5 49.7,496.5 50.2,496.5 50.7,496.6 51.2,496.6 51.7,496.6 52.2,496.7 52.7,496.7 53.2,496.7 53.7,496.8 54.2,496.8 54.7,496.8 55.2,496.9 55.7,496.9 56.2,496.9 56.7,497.0 57.2,497.0 57.7,497.0 58.2,497.1 58.7,497.1 59.2,497.1 59.7,497.2 60.2,497.2 60.7,497.2 61.2,497.3 61.7,497.3 62.2,497.3 62.7,497.4 63.2,497.4 63.7,497.4 64.2,497.5 64.7,497.5 65.2,497.5 65.7,497.6 66.2,497.6 66.7,497.6 67.2,497.7 67.7,497.7 68.2,497.7 68.7,497.8 69.2,497.8 69.7,497.8 70.2,497.8 70.7,497.9 71.2,497.9 71.7,497.9 72.2,498.0 72.7,498.0 73.2,498.0 73.7,498.1 74.2,498.1 74.7,498.1 75.2,498.2 75.7,498.2 76.2,498.2 76.7,498.2 77.2,498.3 77.7,498.3 78.2,498.3 78.7,498.4 79.2,498.4 79.7,498.4 80.2,498.5 80.7,498.5 81.2,498.5 81.7,498.5 82.2,498.6 82.7,498.6 83.2,498.6 83.7,498.7 84.2,498.7 84.7,498.7 85.2,498.7 85.7,498.8 86.2,498.8 86.7,498.8 87.2,498.9 87.7,498.9 88.2,498.9 88.7,499.0 89.2,499.0 89.7,499.0 90.2,499.0 90.7,499.1 91.2,499.1 91.7,499.1 92.2,499.2 92.7,499.2 93.2,499.2 93.7,499.2 94.2,499.3 94.7,499.3 95.2,499.3 95.7,499.4 96.2,499.4 96.7,499.4 97.2,499.4 97.7,499.5 98.2,499.5 98.7,499.5 99.2,499.6 99.7,499.6 100.2,499.6 100.7,499.6 101.2,499.7 101.7,499.7 102.2,499.7 102.7,499.8 103.2,499.8 103.7,499.8 104.2,499.8 104.7,499.9 105.2,499.9 105.7,499.9 106.2,499.9 106.7,500.0 107.2,500.0 107.7,500.0 108.2,500.0 108.7,500.1 109.2,500.1 109.7,500.1 110.2,500.2 110.7,500.2 111.2,500.2 111.7,500.2 112.2,500.3 112.7,500.3 113.2,500.3 113.7,500.3 114.2,500.4 114.7,500.4 115.2,500.4 115.7,500.4 116.2,500.5 116.7,500.5 117.2,500.5 117.7,500.5 118.2,500.6 118.7,500.6 119.2,500.6 119.7,500.6 120.2,500.7 120.7,500.7 121.2,500.7 121.7,500.7 122.2,500.8 122.7,500.8 123.2,500.8 123.7,500.8 124.2,500.9 124.7,500.9 125.2,500.9 125.7,500.9 126.2,501.0 126.7,501.0 127.2,501.0 127.7,501.0 128.2,501.1 128.7,501.1 129.2,501.1 129.7,501.2 130.2,501.2 130.7,501.2 131.2,501.2 131.7,501.3 132.2,501.3 132.7,501.3 133.2,501.3 133.7,501.4 134.2,501.4 134.7,501.4 135.2,501.4 135.7,501.5 136.2,501.5 136.7,501.5 137.2,501.6 137.7,501.6 138.2,501.6 138.7,501.6 139.2,501.7 139.7,501.7 140.2,501.7 140.7,501.7 141.2,501.8 141.7,501.8 142.2,501.8 142.7,501.9 143.2,501.9 143.7,501.9 144.2,501.9 144.7,502.0 145.2,502.0 145.7,502.0 146.2,502.1 146.7,502.1 147.2,502.1 147.7,502.2 148.2,502.2 148.7,502.2 149.2,502.2 149.7,502.3 150.2,502.3 150.7,502.3 151.2,502.4 151.7,502.4 152.2,502.4 152.7,502.5 153.2,502.5 153.7,502.5 154.2,502.6 154.7,502.6 155.2,502.6 155.7,502.7 156.2,502.7 156.7,502.7 157.2,502.8 157.7,502.8 158.2,502.8 158.7,502.9 159.2,502.9 159.7,502.9 160.2,503.0 160.7,503.0 161.2,503.1 161.7,503.1 162.2,503.1 162.7,503.2 163.2,503.2 163.7,503.2 164.2,503.3 164.7,503.3 165.2,503.3 165.7,503.4 166.2,503.4 166.7,503.5 167.2,503.5 167.7,503.5 168.2,503.6 168.7,503.6 169.2,503.6 169.7,503.7 170.2,503.7 170.7,503.8 171.2,503.8 171.7,503.8 172.2,503.9 172.7,503.9 173.2,504.0 173.7,504.0 174.2,504.0 174.7,504.1 175.2,504.1 175.7,504.1 176.2,504.2 176.7,504.2 177.2,504.3 177.7,504.3 178.2,504.3 178.7,504.4 179.2,504.4 179.7,504.5 180.2,504.5 180.7,504.5 181.2,504.6 181.7,504.6 182.2,504.7 182.7,504.7 183.2,504.7 183.7,504.8 184.2,504.8 184.7,504.9 185.2,504.9 185.7,504.9 186.2,505.0 186.7,505.0 187.2,505.1 187.7,505.1 188.2,505.2 188.7,505.2 189.2,505.2 189.7,505.3 190.2,505.3 190.7,505.4 191.2,505.4 191.7,505.4 192.2,505.5 192.7,505.5 193.2,505.6 193.7,505.6 194.2,505.6 194.7,505.7 195.2,505.7 195.7,505.8 196.2,505.8 196.7,505.8 197.2,505.9 197.7,505.9 198.2,505.9 198.7,506.0 199.2,506.0 199.7,506.1 200.2,506.1 200.7,506.1 201.2,506.2 201.7,506.2 202.2,506.3 202.7,506.3 203.2,506.3 203.7,506.4 204.2,506.4 204.7,506.5 205.2,506.5 205.7,506.5 206.2,506.6 206.7,506.6 207.2,506.7 207.7,506.7 208.2,506.7 208.7,506.8 209.2,506.8 209.7,506.9 210.2,506.9 210.7,506.9 211.2,507.0 211.7,507.0 212.2,507.1 212.7,507.1 213.2,507.2 213.7,507.2 214.2,507.3 214.7,507.3 215.2,507.4 215.7,507.4 216.2,507.4 216.7,507.5 217.2,507.5 217.7,507.6 218.2,507.6 218.7,507.7 219.2,507.7 219.7,507.8 220.2,507.8 220.7,507.9 221.2,508.0 221.7,508.0 222.2,508.1 222.7,508.1 223.2,508.2 223.7,508.2 224.2,508.3 224.7,508.4 225.2,508.4 225.7,508.5 226.2,508.5 226.7,508.6 227.2,508.7 227.7,508.7 228.2,508.8 228.7,508.9 229.2,508.9 229.7,509.0 230.2,509.1 230.7,509.2 231.2,509.2 231.7,509.3 232.2,509.4 232.7,509.5 233.2,509.6 233.7,509.7 234.2,509.8 234.7,509.8 235.2,509.9 235.7,510.0 236.2,510.1 236.7,510.2 237.2,510.3 237.7,510.4 238.2,510.5 238.7,510.6 239.2,510.7 239.7,510.8 240.2,510.9 240.7,511.0 241.2,511.1 241.7,511.2 242.2,511.4 242.7,511.5 243.2,511.6 243.7,511.7 244.2,511.8 244.7,511.9 245.2,512.0 245.7,512.1 246.2,512.3 246.7,512.4 247.2,512.5 247.7,512.6 248.2,512.7 248.7,512.8 249.2,512.9 249.7,513.1 250.2,513.2 250.7,513.3 251.2,513.4 251.7,513.5 252.2,513.7 252.7,513.8 253.2,513.9 253.7,514.0 254.2,514.1 254.7,514.2 255.2,514.4 255.7,514.5 256.2,514.6 256.7,514.7 257.2,514.8 257.7,515.0 258.2,515.1 258.7,515.2 259.2,515.3 259.7,515.4 260.2,515.5 260.7,515.6 261.2,515.8 261.7,515.9 262.2,516.0 262.7,516.1 263.2,516.2 263.7,516.3 264.2,516.5 264.7,516.6 265.2,516.7 265.7,516.8 266.2,516.9 266.7,517.1 267.2,517.2 267.7,517.3 268.2,517.5 268.7,517.6 269.2,517.7 269.7,517.8 270.2,518.0 270.7,518.1 271.2,518.2 271.7,518.4 272.2,518.5 272.7,518.6 273.2,518.8 273.7,518.9 274.2,519.0 274.7,519.2 275.2,519.3 275.7,519.4 276.2,519.6 276.7,519.7 277.2,519.8 277.7,520.0 278.2,520.1 278.7,520.2 279.2,520.4 279.7,520.5 280.2,520.6 280.7,520.8 281.2,520.9 281.7,521.0 282.2,521.2 282.7,521.3 283.2,521.4 283.7,521.6 284.2,521.7 284.7,521.8 285.2,522.0 285.7,522.1 286.2,522.2 286.7,522.3 287.2,522.5 287.7,522.6 288.2,522.7 288.7,522.8 289.2,523.0 289.7,523.1 290.2,523.2 290.7,523.3 291.2,523.4 291.7,523.5 292.2,523.6 292.7,523.8 293.2,523.9 293.7,524.0 294.2,524.1 294.7,524.2 295.2,524.3 295.7,524.4 296.2,524.5 296.7,524.6 297.2,524.7 297.7,524.8 298.2,524.9 298.7,525.0 299.2,525.1 299.7,525.2 300.2,525.3 300.7,525.4 301.2,525.4 301.7,525.5 302.2,525.6 302.7,525.7 303.2,525.8 303.7,525.9 304.2,526.0 304.7,526.1 305.2,526.2 305.7,526.3 306.2,526.4 306.7,526.4 307.2,526.5 307.7,526.6 308.2,526.7 308.7,526.8 309.2,526.8 309.7,526.9 310.2,527.0 310.7,527.1 311.2,527.1 311.7,527.2 312.2,527.3 312.7,527.3 313.2,527.4 313.7,527.4 314.2,527.5 314.7,527.5 315.2,527.6 315.7,527.6 316.2,527.7 316.7,527.7 317.2,527.7 317.7,527.8 318.2,527.8 318.7,527.9 319.2,527.9 319.7,527.9 320.2,528.0 320.7,528.0 321.2,528.1 321.7,528.1 322.2,528.1 322.7,528.2 323.2,528.2 323.7,528.2 324.2,528.3 324.7,528.3 325.2,528.3 325.7,528.4 326.2,528.4 326.7,528.4 327.2,528.5 327.7,528.5 328.2,528.5 328.7,528.5 329.2,528.6 329.7,528.6 330.2,528.6 330.7,528.6 331.2,528.7 331.7,528.7 332.2,528.7 332.7,528.7 333.2,528.7 333.7,528.7 334.2,528.8 334.7,528.8 335.2,528.8 335.7,528.8 336.2,528.8 336.7,528.8 337.2,528.8" />
<polyline fill="none" stroke="#3a3a3a" stroke-width="1.2" stroke-linejoin="round" stroke-linecap="round" points="34.7,480.1 35.2,479.3 35.7,478.6 36.2,477.9 36.7,477.1 37.2,476.3 37.7,475.5 38.2,474.7 38.7,473.9 39.2,473.1 39.7,472.3 40.2,471.5 40.7,470.6 41.2,469.8 41.7,469.0 42.2,468.2 42.7,467.4 43.2,466.6 43.7,465.8 44.2,465.1 44.7,464.3 45.2,463.6 45.7,462.9 46.2,462.3 46.7,461.6 47.2,461.0 47.7,460.5 48.2,460.0 48.7,459.5 49.2,459.1 49.7,458.7 50.2,458.3 50.7,458.0 51.2,457.8 51.7,457.6 52.2,457.5 52.7,457.4 53.2,457.3 53.7,457.4 54.2,457.4 54.7,457.5 55.2,457.7 55.7,457.9 56.2,458.2 56.7,458.5 57.2,458.8 57.7,459.2 58.2,459.7 58.7,460.1 59.2,460.6 59.7,461.2 60.2,461.7 60.7,462.3 61.2,462.9 61.7,463.6 62.2,464.2 62.7,464.9 63.2,465.5 63.7,466.2 64.2,466.9 64.7,467.5 65.2,468.2 65.7,468.8 66.2,469.5 66.7,470.1 67.2,470.7 67.7,471.2 68.2,471.8 68.7,472.3 69.2,472.8 69.7,473.2 70.2,473.6 70.7,473.9 71.2,474.2 71.7,474.4 72.2,474.6 72.7,474.8 73.2,474.8 73.7,474.9 74.2,474.8 74.7,474.7 75.2,474.6 75.7,474.3 76.2,474.0 76.7,473.7 77.2,473.3 77.7,472.8 78.2,472.2 78.7,471.6 79.2,471.0 79.7,470.2 80.2,469.4 80.7,468.6 81.2,467.7 81.7,466.8 82.2,465.8 82.7,464.7 83.2,463.7 83.7,462.6 84.2,461.4 84.7,460.2 85.2,459.1 85.7,457.8 86.2,456.6 86.7,455.4 87.2,454.2 87.7,452.9 88.2,451.7 88.7,450.5 89.2,449.3 89.7,448.1 90.2,447.0 90.7,445.9 91.2,444.8 91.7,443.8 92.2,442.8 92.7,441.8 93.2,441.0 93.7,440.2 94.2,439.4 94.7,438.7 95.2,438.1 95.7,437.6 96.2,437.2 96.7,436.8 97.2,436.5 97.7,436.3 98.2,436.2 98.7,436.1 99.2,436.2 99.7,436.3 100.2,436.5 100.7,436.8 101.2,437.2 101.7,437.6 102.2,438.1 102.7,438.7 103.2,439.4 103.7,440.1 104.2,440.9 104.7,441.8 105.2,442.7 105.7,443.7 106.2,444.7 106.7,445.7 107.2,446.8 107.7,447.9 108.2,449.1 108.7,450.3 109.2,451.5 109.7,452.7 110.2,453.9 110.7,455.1 111.2,456.3 111.7,457.5 112.2,458.7 112.7,459.8 113.2,460.9 113.7,462.1 114.2,463.1 114.7,464.2 115.2,465.1 115.7,466.1 116.2,467.0 116.7,467.8 117.2,468.6 117.7,469.3 118.2,470.0 118.7,470.5 119.2,471.1 119.7,471.5 120.2,471.9 120.7,472.2 121.2,472.4 121.7,472.6 122.2,472.6 122.7,472.6 123.2,472.6 123.7,472.4 124.2,472.2 124.7,471.9 125.2,471.5 125.7,471.1 126.2,470.6 126.7,470.0 127.2,469.3 127.7,468.6 128.2,467.9 128.7,467.0 129.2,466.2 129.7,465.2 130.2,464.2 130.7,463.2 131.2,462.1 131.7,461.0 132.2,459.9 132.7,458.8 133.2,457.6 133.7,456.4 134.2,455.2 134.7,454.0 135.2,452.8 135.7,451.6 136.2,450.4 136.7,449.2 137.2,448.0 137.7,446.9 138.2,445.8 138.7,444.8 139.2,443.8 139.7,442.8 140.2,441.9 140.7,441.0 141.2,440.2 141.7,439.5 142.2,438.8 142.7,438.3 143.2,437.7 143.7,437.3 144.2,437.0 144.7,436.7 145.2,436.5 145.7,436.4 146.2,436.4 146.7,436.4 147.2,436.6 147.7,436.8 148.2,437.2 148.7,437.6 149.2,438.1 149.7,438.7 150.2,439.3 150.7,440.1 151.2,440.9 151.7,441.7 152.2,442.7 152.7,443.7 153.2,444.7 153.7,445.9 154.2,447.0 154.7,448.2 155.2,449.5 155.7,450.7 156.2,452.0 156.7,453.4 157.2,454.7 157.7,456.1 158.2,457.4 158.7,458.8 159.2,460.1 159.7,461.4 160.2,462.7 160.7,464.0 161.2,465.3 161.7,466.5 162.2,467.7 162.7,468.9 163.2,470.0 163.7,471.0 164.2,472.0 164.7,472.9 165.2,473.8 165.7,474.6 166.2,475.3 166.7,476.0 167.2,476.6 167.7,477.1 168.2,477.5 168.7,477.9 169.2,478.2 169.7,478.3 170.2,478.4 170.7,478.4 171.2,478.4 171.7,478.2 172.2,477.9 172.7,477.6 173.2,477.2 173.7,476.6 174.2,476.0 174.7,475.3 175.2,474.5 175.7,473.7 176.2,472.7 176.7,471.7 177.2,470.6 177.7,469.4 178.2,468.1 178.7,466.8 179.2,465.4 179.7,464.0 180.2,462.5 180.7,461.0 181.2,459.4 181.7,457.7 182.2,456.1 182.7,454.4 183.2,452.7 183.7,450.9 184.2,449.2 184.7,447.5 185.2,445.7 185.7,444.0 186.2,442.3 186.7,440.6 187.2,438.9 187.7,437.3 188.2,435.7 188.7,434.1 189.2,432.6 189.7,431.2 190.2,429.8 190.7,428.5 191.2,427.3 191.7,426.2 192.2,425.1 192.7,424.1 193.2,423.2 193.7,422.5 194.2,421.8 194.7,421.2 195.2,420.7 195.7,420.2 196.2,419.9 196.7,419.7 197.2,419.6 197.7,419.6 198.2,419.7 198.7,419.8 199.2,420.0 199.7,420.3 200.2,420.7 200.7,421.2 201.2,421.7 201.7,422.3 202.2,422.9 202.7,423.5 203.2,424.2 203.7,425.0 204.2,425.7 204.7,426.5 205.2,427.2 205.7,428.0 206.2,428.7 206.7,429.4 207.2,430.1 207.7,430.8 208.2,431.4 208.7,432.0 209.2,432.5 209.7,432.9 210.2,433.3 210.7,433.6 211.2,433.8 211.7,433.9 212.2,433.9 212.7,433.9 213.2,433.7 213.7,433.4 214.2,433.1 214.7,432.6 215.2,432.0 215.7,431.3 216.2,430.5 216.7,429.6 217.2,428.6 217.7,427.5 218.2,426.3 218.7,425.0 219.2,423.6 219.7,422.2 220.2,420.6 220.7,419.0 221.2,417.4 221.7,415.7 222.2,413.9 222.7,412.2 223.2,410.4 223.7,408.5 224.2,406.7 224.7,404.9 225.2,403.1 225.7,401.3 226.2,399.5 226.7,397.8 227.2,396.1 227.7,394.5 228.2,392.9 228.7,391.4 229.2,390.0 229.7,388.6 230.2,387.4 230.7,386.2 231.2,385.2 231.7,384.2 232.2,383.3 232.7,382.6 233.2,381.9 233.7,381.3 234.2,380.9 234.7,380.5 235.2,380.3 235.7,380.1 236.2,380.0 236.7,380.1 237.2,380.2 237.7,380.3 238.2,380.6 238.7,380.9 239.2,381.2 239.7,381.6 240.2,382.1 240.7,382.5 241.2,383.0 241.7,383.5 242.2,383.9 242.7,384.4 243.2,384.8 243.7,385.1 244.2,385.5 244.7,385.7 245.2,385.9 245.7,386.0 246.2,386.0 246.7,386.0 247.2,385.8 247.7,385.6 248.2,385.2 248.7,384.8 249.2,384.2 249.7,383.6 250.2,382.8 250.7,382.0 251.2,381.0 251.7,380.0 252.2,378.8 252.7,377.6 253.2,376.3 253.7,375.0 254.2,373.6 254.7,372.1 255.2,370.6 255.7,369.1 256.2,367.5 256.7,366.0 257.2,364.4 257.7,362.9 258.2,361.4 258.7,359.9 259.2,358.5 259.7,357.1 260.2,355.8 260.7,354.6 261.2,353.5 261.7,352.4 262.2,351.5 262.7,350.7 263.2,350.1 263.7,349.5 264.2,349.1 264.7,348.9 265.2,348.8 265.7,348.8 266.2,349.0 266.7,349.4 267.2,349.9 267.7,350.5 268.2,351.3 268.7,352.2 269.2,353.2 269.7,354.4 270.2,355.7 270.7,357.0 271.2,358.5 271.7,360.1 272.2,361.8 272.7,363.5 273.2,365.3 273.7,367.1 274.2,369.0 274.7,370.9 275.2,372.8 275.7,374.7 276.2,376.5 276.7,378.4 277.2,380.2 277.7,381.9 278.2,383.6 278.7,385.2 279.2,386.7 279.7,388.2 280.2,389.5 280.7,390.7 281.2,391.8 281.7,392.8 282.2,393.6 282.7,394.3 283.2,394.9 283.7,395.4 284.2,395.7 284.7,395.9 285.2,395.9 285.7,395.9 286.2,395.7 286.7,395.4 287.2,394.9 287.7,394.4 288.2,393.8 288.7,393.1 289.2,392.3 289.7,391.5 290.2,390.6 290.7,389.6 291.2,388.7 291.7,387.7 292.2,386.7 292.7,385.7 293.2,384.7 293.7,383.8 294.2,383.0 294.7,382.2 295.2,381.4 295.7,380.8 296.2,380.3 296.7,379.8 297.2,379.5 297.7,379.4 298.2,379.4 298.7,379.6 299.2,379.9 299.7,380.4 300.2,381.1 300.7,381.9 301.2,383.0 301.7,384.2 302.2,385.6 302.7,387.2 303.2,389.0 303.7,390.9 304.2,392.9 304.7,395.0 305.2,397.3 305.7,399.7 306.2,402.1 306.7,404.6 307.2,407.1 307.7,409.7 308.2,412.3 308.7,415.0 309.2,417.6 309.7,420.3 310.2,423.0 310.7,425.6 311.2,428.3 311.7,431.0 312.2,433.6 312.7,436.3 313.2,438.9 313.7,441.5 314.2,444.2 314.7,446.7 315.2,449.3 315.7,451.8 316.2,454.4 316.7,456.8 317.2,459.3 317.7,461.7 318.2,464.1 318.7,466.5 319.2,468.8 319.7,471.0 320.2,473.3 320.7,475.4 321.2,477.6 321.7,479.6 322.2,481.7 322.7,483.7 323.2,485.6 323.7,487.5 324.2,489.4 324.7,491.2 325.2,493.0 325.7,494.8 326.2,496.5 326.7,498.2 327.2,499.8 327.7,501.5 328.2,503.0 328.7,504.6 329.2,506.0 329.7,507.5 330.2,508.9 330.7,510.2 331.2,511.4 331.7,512.7 332.2,513.8 332.7,514.9 333.2,515.9 333.7,516.9 334.2,517.8 334.7,518.7 335.2,519.5 335.7,520.3 336.2,520.9 336.7,521.6 337.2,522.2" />
<line x1="337.6" y1="514" x2="337.6" y2="536" stroke="#2a6d86" stroke-width="1.3"/>
<rect x="34.7" y="301.5" width="303.5" height="234.89999999999998" fill="none" stroke="#222" stroke-width="1.2"/>
<line x1="34.8" y1="470" x2="34.8" y2="536" stroke="#2c5070" stroke-width="1.2"/>
<line x1="35.6" y1="480" x2="35.6" y2="496" stroke="#c0408a" stroke-width="0.8"/>
<line x1="38.20" y1="536.4" x2="38.20" y2="540.9" stroke="#222" stroke-width="1.2"/>
<text x="38.20" y="554.2" font-size="13" text-anchor="middle">810</text>
<line x1="84.30" y1="536.4" x2="84.30" y2="540.9" stroke="#222" stroke-width="1.2"/>
<text x="84.30" y="554.2" font-size="13" text-anchor="middle">805</text>
<line x1="130.40" y1="536.4" x2="130.40" y2="540.9" stroke="#222" stroke-width="1.2"/>
<text x="130.40" y="554.2" font-size="13" text-anchor="middle">800</text>
<line x1="176.50" y1="536.4" x2="176.50" y2="540.9" stroke="#222" stroke-width="1.2"/>
<text x="176.50" y="554.2" font-size="13" text-anchor="middle">795</text>
<line x1="222.60" y1="536.4" x2="222.60" y2="540.9" stroke="#222" stroke-width="1.2"/>
<text x="222.60" y="554.2" font-size="13" text-anchor="middle">790</text>
<line x1="268.70" y1="536.4" x2="268.70" y2="540.9" stroke="#222" stroke-width="1.2"/>
<text x="268.70" y="554.2" font-size="13" text-anchor="middle">785</text>
<line x1="314.80" y1="536.4" x2="314.80" y2="540.9" stroke="#222" stroke-width="1.2"/>
<text x="314.80" y="554.2" font-size="13" text-anchor="middle">780</text>
<text transform="translate(25.3,481.3) rotate(-90)" font-size="19.8" fill="#000">Intensity (a.u.)</text>
<text x="96.3" y="575.7" font-size="19.8" fill="#000" >Binding energy (eV)</text>
<text x="288.0" y="318.8" font-size="20.6" fill="#a04aae" >Co2p</text>
<text x="89.1" y="427.7" font-size="16">2p</text><text x="107" y="431.2" font-size="10.5">1/2</text>
<text x="249.1" y="341.7" font-size="16">2p</text><text x="267" y="345.2" font-size="10.5">3/2</text>
<text x="37.3" y="491.7" font-size="15" fill="#1ca4e8">Co</text>
<text x="56" y="483.3" font-size="8.5" fill="#1ca4e8">3+</text>
<text x="87.4" y="484.2" font-size="15" fill="#b2135e">Co</text>
<text x="103.4" y="476.0" font-size="8.5" fill="#b2135e">2+</text>
<text x="135.1" y="494.9" font-size="15" fill="#c8c010">Co</text>
<text x="153.4" y="488.3" font-size="8.5" fill="#c8c010">0</text>
<text x="182.8" y="471.5" font-size="15" fill="#ea4a5e" >Sat.</text>
<text x="220.4" y="455.0" font-size="15" fill="#ff8235">Co</text>
<text x="235.7" y="447.2" font-size="8.5" fill="#ff8235">3+</text>
<text x="250.6" y="449.4" font-size="15" fill="#6a7078">Co</text>
<text x="267.8" y="442.0" font-size="8.5" fill="#6a7078">2+</text>
<text x="289.1" y="465.2" font-size="15" fill="#9a7ae6">Co</text>
<text x="306.8" y="459.4" font-size="8.5" fill="#9a7ae6">0</text>
<text x="346.4" y="311.1" font-size="23.5" fill="#000" >(c)</text>
<polyline fill="none" stroke="#44ee44" stroke-width="1.1" stroke-linejoin="round" stroke-linecap="round" points="379.8,417.8 380.3,418.5 380.8,419.3 381.3,420.2 381.8,420.9 382.3,421.6 382.8,422.0 383.3,422.2 383.8,422.2 384.3,422.1 384.8,422.0 385.3,421.9 385.8,421.8 386.3,421.6 386.8,421.5 387.3,421.3 387.8,421.1 388.3,421.0 388.8,420.8 389.3,420.6 389.8,420.3 390.3,420.1 390.8,419.9 391.3,419.7 391.8,419.4 392.3,419.2 392.8,418.9 393.3,418.6 393.8,418.4 394.3,418.1 394.8,417.9 395.3,417.6 395.8,417.3 396.3,417.1 396.8,416.8 397.3,416.6 397.8,416.3 398.3,416.1 398.8,415.9 399.3,415.7 399.8,415.5 400.3,415.3 400.8,415.1 401.3,414.9 401.8,414.8 402.3,414.6 402.8,414.5 403.3,414.4 403.8,414.3 404.3,414.2 404.8,414.2 405.3,414.1 405.8,414.1 406.3,414.1 406.8,414.2 407.3,414.2 407.8,414.3 408.3,414.4 408.8,414.5 409.3,414.6 409.8,414.8 410.3,414.9 410.8,415.1 411.3,415.3 411.8,415.5 412.3,415.8 412.8,416.0 413.3,416.3 413.8,416.6 414.3,416.9 414.8,417.2 415.3,417.6 415.8,417.9 416.3,418.3 416.8,418.6 417.3,419.0 417.8,419.4 418.3,419.7 418.8,420.1 419.3,420.5 419.8,420.9 420.3,421.2 420.8,421.6 421.3,422.0 421.8,422.4 422.3,422.8 422.8,423.1 423.3,423.5 423.8,423.9 424.3,424.2 424.8,424.6 425.3,424.9 425.8,425.3 426.3,425.6 426.8,425.9 427.3,426.2 427.8,426.6 428.3,426.9 428.8,427.2 429.3,427.4 429.8,427.7 430.3,428.0 430.8,428.2 431.3,428.5 431.8,428.7 432.3,429.0 432.8,429.2 433.3,429.4 433.8,429.6 434.3,429.8 434.8,430.0 435.3,430.2 435.8,430.4 436.3,430.6 436.8,430.7 437.3,430.9 437.8,431.0 438.3,431.2 438.8,431.3 439.3,431.5 439.8,431.6 440.3,431.7 440.8,431.9 441.3,432.0 441.8,432.1 442.3,432.2 442.8,432.3 443.3,432.4 443.8,432.5 444.3,432.6 444.8,432.7 445.3,432.8 445.8,432.9 446.3,433.0 446.8,433.1 447.3,433.2 447.8,433.3 448.3,433.4 448.8,433.5 449.3,433.6 449.8,433.7 450.3,433.7 450.8,433.8 451.3,433.9 451.8,434.0 452.3,434.1 452.8,434.2 453.3,434.3 453.8,434.3 454.3,434.4 454.8,434.5 455.3,434.6 455.8,434.7 456.3,434.8 456.8,434.9 457.3,434.9 457.8,435.0 458.3,435.1 458.8,435.2 459.3,435.3 459.8,435.4 460.3,435.5 460.8,435.6 461.3,435.7 461.8,435.7 462.3,435.8 462.8,435.9 463.3,436.0 463.8,436.1 464.3,436.2 464.8,436.3 465.3,436.4 465.8,436.5 466.3,436.6 466.8,436.7 467.3,436.8 467.8,437.0 468.3,437.1 468.8,437.2 469.3,437.3 469.8,437.4 470.3,437.5 470.8,437.6 471.3,437.8 471.8,437.9 472.3,438.0 472.8,438.1 473.3,438.3 473.8,438.4 474.3,438.5 474.8,438.7 475.3,438.8 475.8,438.9 476.3,439.1 476.8,439.2 477.3,439.4 477.8,439.5 478.3,439.7 478.8,439.9 479.3,440.1 479.8,440.2 480.3,440.4 480.8,440.6 481.3,440.9 481.8,441.1 482.3,441.3 482.8,441.5 483.3,441.7 483.8,442.0 484.3,442.2 484.8,442.5 485.3,442.7 485.8,442.9 486.3,443.2 486.8,443.5 487.3,443.7 487.8,444.0 488.3,444.2 488.8,444.5 489.3,444.8 489.8,445.0 490.3,445.3 490.8,445.6 491.3,445.8 491.8,446.1 492.3,446.4 492.8,446.6 493.3,446.9 493.8,447.2 494.3,447.4 494.8,447.7 495.3,448.0 495.8,448.2 496.3,448.5 496.8,448.7 497.3,449.0 497.8,449.2 498.3,449.5 498.8,449.7 499.3,450.0 499.8,450.2 500.3,450.4 500.8,450.7 501.3,450.9 501.8,451.1 502.3,451.4 502.8,451.6 503.3,451.9 503.8,452.1 504.3,452.3 504.8,452.6 505.3,452.8 505.8,453.1 506.3,453.3 506.8,453.6 507.3,453.8 507.8,454.0 508.3,454.3 508.8,454.5 509.3,454.8 509.8,455.0 510.3,455.3 510.8,455.5 511.3,455.8 511.8,456.0 512.3,456.2 512.8,456.5 513.3,456.7 513.8,457.0 514.3,457.2 514.8,457.4 515.3,457.7 515.8,457.9 516.3,458.1 516.8,458.4 517.3,458.6 517.8,458.8 518.3,459.0 518.8,459.2 519.3,459.5 519.8,459.7 520.3,459.9 520.8,460.1 521.3,460.3 521.8,460.5 522.3,460.7 522.8,460.9 523.3,461.1 523.8,461.3 524.3,461.5 524.8,461.6 525.3,461.8 525.8,462.0 526.3,462.2 526.8,462.3 527.3,462.5 527.8,462.7 528.3,462.8 528.8,463.0 529.3,463.1 529.8,463.3 530.3,463.4 530.8,463.5 531.3,463.7 531.8,463.8 532.3,464.0 532.8,464.1 533.3,464.2 533.8,464.4 534.3,464.5 534.8,464.6 535.3,464.7 535.8,464.9 536.3,465.0 536.8,465.1 537.3,465.2 537.8,465.3 538.3,465.5 538.8,465.6 539.3,465.7 539.8,465.8 540.3,465.9 540.8,466.0 541.3,466.1 541.8,466.3 542.3,466.4 542.8,466.5 543.3,466.6 543.8,466.7 544.3,466.8 544.8,466.9 545.3,467.1 545.8,467.2 546.3,467.3 546.8,467.4 547.3,467.5 547.8,467.6 548.3,467.8 548.8,467.9 549.3,468.0 549.8,468.1 550.3,468.2 550.8,468.4 551.3,468.5 551.8,468.6 552.3,468.7 552.8,468.9 553.3,469.0 553.8,469.1 554.3,469.3 554.8,469.4 555.3,469.6 555.8,469.7 556.3,469.8 556.8,470.0 557.3,470.1 557.8,470.3 558.3,470.4 558.8,470.5 559.3,470.7 559.8,470.8 560.3,471.0 560.8,471.1 561.3,471.3 561.8,471.4 562.3,471.5 562.8,471.7 563.3,471.8 563.8,472.0 564.3,472.1 564.8,472.3 565.3,472.4 565.8,472.6 566.3,472.7 566.8,472.9 567.3,473.0 567.8,473.2 568.3,473.3 568.8,473.5 569.3,473.6 569.8,473.8 570.3,473.9 570.8,474.1 571.3,474.2 571.8,474.4 572.3,474.6 572.8,474.7 573.3,474.9 573.8,475.0 574.3,475.2 574.8,475.3 575.3,475.5 575.8,475.6 576.3,475.8 576.8,476.0 577.3,476.1 577.8,476.3 578.3,476.4 578.8,476.6 579.3,476.8 579.8,476.9 580.3,477.1 580.8,477.2 581.3,477.4 581.8,477.6 582.3,477.7 582.8,477.9 583.3,478.0 583.8,478.2 584.3,478.3 584.8,478.5 585.3,478.7 585.8,478.8 586.3,479.0 586.8,479.1 587.3,479.3 587.8,479.4 588.3,479.6 588.8,479.7 589.3,479.9 589.8,480.1 590.3,480.2 590.8,480.4 591.3,480.5 591.8,480.7 592.3,480.8 592.8,481.0 593.3,481.2 593.8,481.3 594.3,481.5 594.8,481.7 595.3,481.8 595.8,482.0 596.3,482.2 596.8,482.3 597.3,482.5 597.8,482.7 598.3,482.8 598.8,483.0 599.3,483.2 599.8,483.4 600.3,483.6 600.8,483.7 601.3,483.9 601.8,484.1 602.3,484.3 602.8,484.5 603.3,484.7 603.8,484.9 604.3,485.1 604.8,485.3 605.3,485.5 605.8,485.7 606.3,485.9 606.8,486.2 607.3,486.4 607.8,486.6 608.3,486.8 608.8,487.1 609.3,487.3 609.8,487.6 610.3,487.8 610.8,488.1 611.3,488.4 611.8,488.6 612.3,488.9 612.8,489.2 613.3,489.5 613.8,489.8 614.3,490.1 614.8,490.4 615.3,490.7 615.8,491.0 616.3,491.3 616.8,491.7 617.3,492.0 617.8,492.3 618.3,492.6 618.8,493.0 619.3,493.3 619.8,493.6 620.3,494.0 620.8,494.3 621.3,494.7 621.8,495.0 622.3,495.4 622.8,495.7 623.3,496.1 623.8,496.4 624.3,496.8 624.8,497.2 625.3,497.5 625.8,497.9 626.3,498.3 626.8,498.7 627.3,499.1 627.8,499.5 628.3,499.9 628.8,500.3 629.3,500.7 629.8,501.1 630.3,501.5 630.8,502.0 631.3,502.4 631.8,502.8 632.3,503.2 632.8,503.7 633.3,504.1 633.8,504.5 634.3,505.0 634.8,505.4 635.3,505.9 635.8,506.3 636.3,506.8 636.8,507.3 637.3,507.8 637.8,508.3 638.3,508.8 638.8,509.3 639.3,509.8 639.8,510.4 640.3,510.9 640.8,511.4 641.3,512.0 641.8,512.5 642.3,513.0 642.8,513.6 643.3,514.1 643.8,514.6 644.3,515.1 644.8,515.7 645.3,516.2 645.8,516.7 646.3,517.1 646.8,517.6 647.3,518.1 647.8,518.5 648.3,518.9 648.8,519.3 649.3,519.8 649.8,520.2 650.3,520.6 650.8,521.0 651.3,521.5 651.8,521.9 652.3,522.3 652.8,522.8 653.3,523.2 653.8,523.6 654.3,524.0 654.8,524.4 655.3,524.8 655.8,525.2 656.3,525.6 656.8,525.9 657.3,526.3 657.8,526.6 658.3,526.9 658.8,527.2 659.3,527.5 659.8,527.7 660.3,528.0 660.8,528.2 661.3,528.4 661.8,528.5 662.3,528.7 662.8,528.8 663.3,529.0 663.8,529.1 664.3,529.2 664.8,529.4 665.3,529.5 665.8,529.6 666.3,529.7 666.8,529.9 667.3,530.0 667.8,530.1 668.3,530.2 668.8,530.3 669.3,530.5 669.8,530.6 670.3,530.7 670.8,530.8 671.3,530.9 671.8,531.0 672.3,531.1 672.8,531.1 673.3,531.2 673.8,531.3 674.3,531.4 674.8,531.5 675.3,531.5 675.8,531.6 676.3,531.7 676.8,531.7 677.3,531.8 677.8,531.8 678.3,531.9 678.8,531.9 679.3,532.0 679.8,532.0 680.3,532.0 680.8,532.1 681.3,532.1 681.8,532.1 682.3,532.1 682.8,532.1" />
<polyline fill="none" stroke="#cdb4f4" stroke-width="1.1" stroke-linejoin="round" stroke-linecap="round" points="379.8,419.8 380.3,420.7 380.8,421.7 381.3,422.7 381.8,423.6 382.3,424.5 382.8,425.1 383.3,425.5 383.8,425.7 384.3,425.8 384.8,426.0 385.3,426.1 385.8,426.2 386.3,426.3 386.8,426.4 387.3,426.5 387.8,426.7 388.3,426.8 388.8,426.8 389.3,426.9 389.8,427.0 390.3,427.1 390.8,427.2 391.3,427.3 391.8,427.3 392.3,427.4 392.8,427.5 393.3,427.5 393.8,427.6 394.3,427.7 394.8,427.7 395.3,427.8 395.8,427.8 396.3,427.9 396.8,427.9 397.3,427.9 397.8,428.0 398.3,428.0 398.8,428.0 399.3,428.1 399.8,428.1 400.3,428.1 400.8,428.2 401.3,428.2 401.8,428.2 402.3,428.2 402.8,428.2 403.3,428.3 403.8,428.3 404.3,428.3 404.8,428.3 405.3,428.3 405.8,428.3 406.3,428.3 406.8,428.3 407.3,428.3 407.8,428.3 408.3,428.3 408.8,428.3 409.3,428.3 409.8,428.3 410.3,428.3 410.8,428.2 411.3,428.2 411.8,428.2 412.3,428.2 412.8,428.1 413.3,428.1 413.8,428.1 414.3,428.0 414.8,428.0 415.3,427.9 415.8,427.9 416.3,427.8 416.8,427.7 417.3,427.7 417.8,427.6 418.3,427.5 418.8,427.4 419.3,427.2 419.8,427.1 420.3,427.0 420.8,426.8 421.3,426.6 421.8,426.5 422.3,426.3 422.8,426.1 423.3,425.9 423.8,425.7 424.3,425.4 424.8,425.2 425.3,424.9 425.8,424.6 426.3,424.3 426.8,424.0 427.3,423.7 427.8,423.4 428.3,423.1 428.8,422.7 429.3,422.3 429.8,421.9 430.3,421.5 430.8,421.1 431.3,420.7 431.8,420.3 432.3,419.9 432.8,419.4 433.3,418.9 433.8,418.5 434.3,418.0 434.8,417.5 435.3,417.0 435.8,416.5 436.3,416.0 436.8,415.5 437.3,414.9 437.8,414.4 438.3,413.9 438.8,413.4 439.3,412.8 439.8,412.3 440.3,411.8 440.8,411.3 441.3,410.8 441.8,410.2 442.3,409.7 442.8,409.3 443.3,408.8 443.8,408.3 444.3,407.8 444.8,407.4 445.3,407.0 445.8,406.6 446.3,406.2 446.8,405.8 447.3,405.4 447.8,405.1 448.3,404.8 448.8,404.5 449.3,404.2 449.8,404.0 450.3,403.8 450.8,403.6 451.3,403.4 451.8,403.3 452.3,403.2 452.8,403.1 453.3,403.1 453.8,403.1 454.3,403.1 454.8,403.2 455.3,403.2 455.8,403.3 456.3,403.5 456.8,403.6 457.3,403.9 457.8,404.1 458.3,404.3 458.8,404.6 459.3,404.9 459.8,405.3 460.3,405.7 460.8,406.1 461.3,406.5 461.8,406.9 462.3,407.4 462.8,407.9 463.3,408.4 463.8,409.0 464.3,409.5 464.8,410.1 465.3,410.7 465.8,411.3 466.3,412.0 466.8,412.6 467.3,413.3 467.8,413.9 468.3,414.6 468.8,415.3 469.3,416.0 469.8,416.7 470.3,417.4 470.8,418.1 471.3,418.8 471.8,419.5 472.3,420.2 472.8,420.9 473.3,421.6 473.8,422.3 474.3,423.1 474.8,423.8 475.3,424.4 475.8,425.1 476.3,425.8 476.8,426.5 477.3,427.2 477.8,427.9 478.3,428.5 478.8,429.2 479.3,429.9 479.8,430.5 480.3,431.2 480.8,431.8 481.3,432.4 481.8,433.1 482.3,433.7 482.8,434.3 483.3,434.9 483.8,435.5 484.3,436.1 484.8,436.7 485.3,437.2 485.8,437.8 486.3,438.4 486.8,438.9 487.3,439.4 487.8,439.9 488.3,440.4 488.8,440.9 489.3,441.4 489.8,441.9 490.3,442.4 490.8,442.8 491.3,443.3 491.8,443.7 492.3,444.2 492.8,444.6 493.3,445.0 493.8,445.4 494.3,445.8 494.8,446.2 495.3,446.6 495.8,446.9 496.3,447.3 496.8,447.6 497.3,448.0 497.8,448.3 498.3,448.6 498.8,448.9 499.3,449.2 499.8,449.5 500.3,449.8 500.8,450.1 501.3,450.4 501.8,450.7 502.3,450.9 502.8,451.2 503.3,451.5 503.8,451.8 504.3,452.0 504.8,452.3 505.3,452.6 505.8,452.8 506.3,453.1 506.8,453.4 507.3,453.6 507.8,453.9 508.3,454.2 508.8,454.4 509.3,454.7 509.8,454.9 510.3,455.2 510.8,455.4 511.3,455.7 511.8,455.9 512.3,456.2 512.8,456.4 513.3,456.7 513.8,456.9 514.3,457.2 514.8,457.4 515.3,457.6 515.8,457.9 516.3,458.1 516.8,458.3 517.3,458.6 517.8,458.8 518.3,459.0 518.8,459.2 519.3,459.5 519.8,459.7 520.3,459.9 520.8,460.1 521.3,460.3 521.8,460.5 522.3,460.7 522.8,460.9 523.3,461.1 523.8,461.3 524.3,461.5 524.8,461.6 525.3,461.8 525.8,462.0 526.3,462.2 526.8,462.3 527.3,462.5 527.8,462.7 528.3,462.8 528.8,463.0 529.3,463.1 529.8,463.3 530.3,463.4 530.8,463.5 531.3,463.7 531.8,463.8 532.3,464.0 532.8,464.1 533.3,464.2 533.8,464.4 534.3,464.5 534.8,464.6 535.3,464.7 535.8,464.9 536.3,465.0 536.8,465.1 537.3,465.2 537.8,465.3 538.3,465.5 538.8,465.6 539.3,465.7 539.8,465.8 540.3,465.9 540.8,466.0 541.3,466.1 541.8,466.3 542.3,466.4 542.8,466.5 543.3,466.6 543.8,466.7 544.3,466.8 544.8,466.9 545.3,467.1 545.8,467.2 546.3,467.3 546.8,467.4 547.3,467.5 547.8,467.6 548.3,467.8 548.8,467.9 549.3,468.0 549.8,468.1 550.3,468.2 550.8,468.4 551.3,468.5 551.8,468.6 552.3,468.7 552.8,468.9 553.3,469.0 553.8,469.1 554.3,469.3 554.8,469.4 555.3,469.6 555.8,469.7 556.3,469.8 556.8,470.0 557.3,470.1 557.8,470.3 558.3,470.4 558.8,470.5 559.3,470.7 559.8,470.8 560.3,471.0 560.8,471.1 561.3,471.3 561.8,471.4 562.3,471.5 562.8,471.7 563.3,471.8 563.8,472.0 564.3,472.1 564.8,472.3 565.3,472.4 565.8,472.6 566.3,472.7 566.8,472.9 567.3,473.0 567.8,473.2 568.3,473.3 568.8,473.5 569.3,473.6 569.8,473.8 570.3,473.9 570.8,474.1 571.3,474.2 571.8,474.4 572.3,474.6 572.8,474.7 573.3,474.9 573.8,475.0 574.3,475.2 574.8,475.3 575.3,475.5 575.8,475.6 576.3,475.8 576.8,476.0 577.3,476.1 577.8,476.3 578.3,476.4 578.8,476.6 579.3,476.8 579.8,476.9 580.3,477.1 580.8,477.2 581.3,477.4 581.8,477.6 582.3,477.7 582.8,477.9 583.3,478.0 583.8,478.2 584.3,478.3 584.8,478.5 585.3,478.7 585.8,478.8 586.3,479.0 586.8,479.1 587.3,479.3 587.8,479.4 588.3,479.6 588.8,479.7 589.3,479.9 589.8,480.1 590.3,480.2 590.8,480.4 591.3,480.5 591.8,480.7 592.3,480.8 592.8,481.0 593.3,481.2 593.8,481.3 594.3,481.5 594.8,481.7 595.3,481.8 595.8,482.0 596.3,482.2 596.8,482.3 597.3,482.5 597.8,482.7 598.3,482.8 598.8,483.0 599.3,483.2 599.8,483.4 600.3,483.6 600.8,483.7 601.3,483.9 601.8,484.1 602.3,484.3 602.8,484.5 603.3,484.7 603.8,484.9 604.3,485.1 604.8,485.3 605.3,485.5 605.8,485.7 606.3,485.9 606.8,486.2 607.3,486.4 607.8,486.6 608.3,486.8 608.8,487.1 609.3,487.3 609.8,487.6 610.3,487.8 610.8,488.1 611.3,488.4 611.8,488.6 612.3,488.9 612.8,489.2 613.3,489.5 613.8,489.8 614.3,490.1 614.8,490.4 615.3,490.7 615.8,491.0 616.3,491.3 616.8,491.7 617.3,492.0 617.8,492.3 618.3,492.6 618.8,493.0 619.3,493.3 619.8,493.6 620.3,494.0 620.8,494.3 621.3,494.7 621.8,495.0 622.3,495.4 622.8,495.7 623.3,496.1 623.8,496.4 624.3,496.8 624.8,497.2 625.3,497.5 625.8,497.9 626.3,498.3 626.8,498.7 627.3,499.1 627.8,499.5 628.3,499.9 628.8,500.3 629.3,500.7 629.8,501.1 630.3,501.5 630.8,502.0 631.3,502.4 631.8,502.8 632.3,503.2 632.8,503.7 633.3,504.1 633.8,504.5 634.3,505.0 634.8,505.4 635.3,505.9 635.8,506.3 636.3,506.8 636.8,507.3 637.3,507.8 637.8,508.3 638.3,508.8 638.8,509.3 639.3,509.8 639.8,510.4 640.3,510.9 640.8,511.4 641.3,512.0 641.8,512.5 642.3,513.0 642.8,513.6 643.3,514.1 643.8,514.6 644.3,515.1 644.8,515.7 645.3,516.2 645.8,516.7 646.3,517.1 646.8,517.6 647.3,518.1 647.8,518.5 648.3,518.9 648.8,519.3 649.3,519.8 649.8,520.2 650.3,520.6 650.8,521.0 651.3,521.5 651.8,521.9 652.3,522.3 652.8,522.8 653.3,523.2 653.8,523.6 654.3,524.0 654.8,524.4 655.3,524.8 655.8,525.2 656.3,525.6 656.8,525.9 657.3,526.3 657.8,526.6 658.3,526.9 658.8,527.2 659.3,527.5 659.8,527.7 660.3,528.0 660.8,528.2 661.3,528.4 661.8,528.5 662.3,528.7 662.8,528.8 663.3,529.0 663.8,529.1 664.3,529.2 664.8,529.4 665.3,529.5 665.8,529.6 666.3,529.7 666.8,529.9 667.3,530.0 667.8,530.1 668.3,530.2 668.8,530.3 669.3,530.5 669.8,530.6 670.3,530.7 670.8,530.8 671.3,530.9 671.8,531.0 672.3,531.1 672.8,531.1 673.3,531.2 673.8,531.3 674.3,531.4 674.8,531.5 675.3,531.5 675.8,531.6 676.3,531.7 676.8,531.7 677.3,531.8 677.8,531.8 678.3,531.9 678.8,531.9 679.3,532.0 679.8,532.0 680.3,532.0 680.8,532.1 681.3,532.1 681.8,532.1 682.3,532.1 682.8,532.1" />
<polyline fill="none" stroke="#1c1c9c" stroke-width="1.3" stroke-linejoin="round" stroke-linecap="round" points="379.8,419.8 380.3,420.7 380.8,421.7 381.3,422.7 381.8,423.6 382.3,424.5 382.8,425.1 383.3,425.5 383.8,425.7 384.3,425.8 384.8,426.0 385.3,426.1 385.8,426.2 386.3,426.3 386.8,426.4 387.3,426.6 387.8,426.7 388.3,426.8 388.8,426.9 389.3,426.9 389.8,427.0 390.3,427.1 390.8,427.2 391.3,427.3 391.8,427.4 392.3,427.4 392.8,427.5 393.3,427.6 393.8,427.6 394.3,427.7 394.8,427.7 395.3,427.8 395.8,427.8 396.3,427.9 396.8,427.9 397.3,428.0 397.8,428.0 398.3,428.1 398.8,428.1 399.3,428.2 399.8,428.2 400.3,428.2 400.8,428.3 401.3,428.3 401.8,428.3 402.3,428.4 402.8,428.4 403.3,428.4 403.8,428.5 404.3,428.5 404.8,428.5 405.3,428.6 405.8,428.6 406.3,428.6 406.8,428.7 407.3,428.7 407.8,428.7 408.3,428.8 408.8,428.8 409.3,428.8 409.8,428.9 410.3,428.9 410.8,429.0 411.3,429.0 411.8,429.1 412.3,429.1 412.8,429.2 413.3,429.2 413.8,429.3 414.3,429.3 414.8,429.4 415.3,429.4 415.8,429.5 416.3,429.6 416.8,429.6 417.3,429.7 417.8,429.7 418.3,429.8 418.8,429.9 419.3,429.9 419.8,430.0 420.3,430.0 420.8,430.1 421.3,430.2 421.8,430.2 422.3,430.3 422.8,430.3 423.3,430.4 423.8,430.4 424.3,430.5 424.8,430.6 425.3,430.6 425.8,430.7 426.3,430.7 426.8,430.8 427.3,430.8 427.8,430.9 428.3,431.0 428.8,431.0 429.3,431.1 429.8,431.1 430.3,431.2 430.8,431.2 431.3,431.3 431.8,431.4 432.3,431.4 432.8,431.5 433.3,431.5 433.8,431.6 434.3,431.7 434.8,431.7 435.3,431.8 435.8,431.8 436.3,431.9 436.8,432.0 437.3,432.0 437.8,432.1 438.3,432.1 438.8,432.2 439.3,432.3 439.8,432.3 440.3,432.4 440.8,432.4 441.3,432.5 441.8,432.6 442.3,432.6 442.8,432.7 443.3,432.7 443.8,432.8 444.3,432.9 444.8,432.9 445.3,433.0 445.8,433.0 446.3,433.1 446.8,433.1 447.3,433.2 447.8,433.2 448.3,433.3 448.8,433.3 449.3,433.4 449.8,433.4 450.3,433.5 450.8,433.5 451.3,433.5 451.8,433.6 452.3,433.6 452.8,433.6 453.3,433.6 453.8,433.6 454.3,433.6 454.8,433.6 455.3,433.6 455.8,433.6 456.3,433.6 456.8,433.5 457.3,433.5 457.8,433.4 458.3,433.3 458.8,433.2 459.3,433.1 459.8,433.0 460.3,432.9 460.8,432.7 461.3,432.6 461.8,432.4 462.3,432.2 462.8,432.0 463.3,431.7 463.8,431.4 464.3,431.2 464.8,430.8 465.3,430.5 465.8,430.1 466.3,429.7 466.8,429.3 467.3,428.8 467.8,428.4 468.3,427.8 468.8,427.3 469.3,426.7 469.8,426.1 470.3,425.4 470.8,424.7 471.3,424.0 471.8,423.2 472.3,422.4 472.8,421.5 473.3,420.7 473.8,419.7 474.3,418.8 474.8,417.8 475.3,416.7 475.8,415.6 476.3,414.5 476.8,413.4 477.3,412.2 477.8,411.0 478.3,409.7 478.8,408.5 479.3,407.2 479.8,405.9 480.3,404.5 480.8,403.2 481.3,401.8 481.8,400.4 482.3,399.0 482.8,397.6 483.3,396.2 483.8,394.8 484.3,393.4 484.8,391.9 485.3,390.5 485.8,389.1 486.3,387.7 486.8,386.4 487.3,385.0 487.8,383.7 488.3,382.4 488.8,381.2 489.3,379.9 489.8,378.7 490.3,377.6 490.8,376.5 491.3,375.5 491.8,374.5 492.3,373.6 492.8,372.8 493.3,372.0 493.8,371.3 494.3,370.6 494.8,370.0 495.3,369.6 495.8,369.2 496.3,368.8 496.8,368.6 497.3,368.4 497.8,368.4 498.3,368.4 498.8,368.5 499.3,368.7 499.8,368.9 500.3,369.3 500.8,369.7 501.3,370.2 501.8,370.7 502.3,371.3 502.8,372.0 503.3,372.8 503.8,373.6 504.3,374.5 504.8,375.4 505.3,376.4 505.8,377.5 506.3,378.6 506.8,379.8 507.3,381.0 507.8,382.3 508.3,383.6 508.8,385.0 509.3,386.4 509.8,387.9 510.3,389.4 510.8,390.9 511.3,392.4 511.8,394.0 512.3,395.6 512.8,397.2 513.3,398.8 513.8,400.5 514.3,402.1 514.8,403.8 515.3,405.5 515.8,407.2 516.3,408.9 516.8,410.5 517.3,412.2 517.8,413.9 518.3,415.5 518.8,417.2 519.3,418.8 519.8,420.4 520.3,422.0 520.8,423.6 521.3,425.2 521.8,426.7 522.3,428.2 522.8,429.7 523.3,431.1 523.8,432.6 524.3,433.9 524.8,435.3 525.3,436.6 525.8,437.9 526.3,439.2 526.8,440.4 527.3,441.6 527.8,442.8 528.3,443.9 528.8,445.0 529.3,446.0 529.8,447.0 530.3,448.0 530.8,449.0 531.3,449.9 531.8,450.8 532.3,451.6 532.8,452.5 533.3,453.3 533.8,454.0 534.3,454.7 534.8,455.5 535.3,456.1 535.8,456.8 536.3,457.4 536.8,458.0 537.3,458.6 537.8,459.1 538.3,459.6 538.8,460.1 539.3,460.6 539.8,461.1 540.3,461.5 540.8,461.9 541.3,462.3 541.8,462.7 542.3,463.1 542.8,463.4 543.3,463.8 543.8,464.1 544.3,464.4 544.8,464.7 545.3,465.0 545.8,465.3 546.3,465.5 546.8,465.8 547.3,466.0 547.8,466.3 548.3,466.5 548.8,466.7 549.3,466.9 549.8,467.1 550.3,467.3 550.8,467.5 551.3,467.7 551.8,467.9 552.3,468.1 552.8,468.3 553.3,468.5 553.8,468.7 554.3,468.9 554.8,469.0 555.3,469.2 555.8,469.4 556.3,469.5 556.8,469.7 557.3,469.9 557.8,470.0 558.3,470.2 558.8,470.4 559.3,470.5 559.8,470.7 560.3,470.8 560.8,471.0 561.3,471.2 561.8,471.3 562.3,471.5 562.8,471.6 563.3,471.8 563.8,471.9 564.3,472.1 564.8,472.2 565.3,472.4 565.8,472.5 566.3,472.7 566.8,472.8 567.3,473.0 567.8,473.2 568.3,473.3 568.8,473.5 569.3,473.6 569.8,473.8 570.3,473.9 570.8,474.1 571.3,474.2 571.8,474.4 572.3,474.5 572.8,474.7 573.3,474.9 573.8,475.0 574.3,475.2 574.8,475.3 575.3,475.5 575.8,475.6 576.3,475.8 576.8,476.0 577.3,476.1 577.8,476.3 578.3,476.4 578.8,476.6 579.3,476.8 579.8,476.9 580.3,477.1 580.8,477.2 581.3,477.4 581.8,477.6 582.3,477.7 582.8,477.9 583.3,478.0 583.8,478.2 584.3,478.3 584.8,478.5 585.3,478.7 585.8,478.8 586.3,479.0 586.8,479.1 587.3,479.3 587.8,479.4 588.3,479.6 588.8,479.7 589.3,479.9 589.8,480.1 590.3,480.2 590.8,480.4 591.3,480.5 591.8,480.7 592.3,480.8 592.8,481.0 593.3,481.2 593.8,481.3 594.3,481.5 594.8,481.7 595.3,481.8 595.8,482.0 596.3,482.2 596.8,482.3 597.3,482.5 597.8,482.7 598.3,482.8 598.8,483.0 599.3,483.2 599.8,483.4 600.3,483.6 600.8,483.7 601.3,483.9 601.8,484.1 602.3,484.3 602.8,484.5 603.3,484.7 603.8,484.9 604.3,485.1 604.8,485.3 605.3,485.5 605.8,485.7 606.3,485.9 606.8,486.2 607.3,486.4 607.8,486.6 608.3,486.8 608.8,487.1 609.3,487.3 609.8,487.6 610.3,487.8 610.8,488.1 611.3,488.4 611.8,488.6 612.3,488.9 612.8,489.2 613.3,489.5 613.8,489.8 614.3,490.1 614.8,490.4 615.3,490.7 615.8,491.0 616.3,491.3 616.8,491.7 617.3,492.0 617.8,492.3 618.3,492.6 618.8,493.0 619.3,493.3 619.8,493.6 620.3,494.0 620.8,494.3 621.3,494.7 621.8,495.0 622.3,495.4 622.8,495.7 623.3,496.1 623.8,496.4 624.3,496.8 624.8,497.2 625.3,497.5 625.8,497.9 626.3,498.3 626.8,498.7 627.3,499.1 627.8,499.5 628.3,499.9 628.8,500.3 629.3,500.7 629.8,501.1 630.3,501.5 630.8,502.0 631.3,502.4 631.8,502.8 632.3,503.2 632.8,503.7 633.3,504.1 633.8,504.5 634.3,505.0 634.8,505.4 635.3,505.9 635.8,506.3 636.3,506.8 636.8,507.3 637.3,507.8 637.8,508.3 638.3,508.8 638.8,509.3 639.3,509.8 639.8,510.4 640.3,510.9 640.8,511.4 641.3,512.0 641.8,512.5 642.3,513.0 642.8,513.6 643.3,514.1 643.8,514.6 644.3,515.1 644.8,515.7 645.3,516.2 645.8,516.7 646.3,517.1 646.8,517.6 647.3,518.1 647.8,518.5 648.3,518.9 648.8,519.3 649.3,519.8 649.8,520.2 650.3,520.6 650.8,521.0 651.3,521.5 651.8,521.9 652.3,522.3 652.8,522.8 653.3,523.2 653.8,523.6 654.3,524.0 654.8,524.4 655.3,524.8 655.8,525.2 656.3,525.6 656.8,525.9 657.3,526.3 657.8,526.6 658.3,526.9 658.8,527.2 659.3,527.5 659.8,527.7 660.3,528.0 660.8,528.2 661.3,528.4 661.8,528.5 662.3,528.7 662.8,528.8 663.3,529.0 663.8,529.1 664.3,529.2 664.8,529.4 665.3,529.5 665.8,529.6 666.3,529.7 666.8,529.9 667.3,530.0 667.8,530.1 668.3,530.2 668.8,530.3 669.3,530.5 669.8,530.6 670.3,530.7 670.8,530.8 671.3,530.9 671.8,531.0 672.3,531.1 672.8,531.1 673.3,531.2 673.8,531.3 674.3,531.4 674.8,531.5 675.3,531.5 675.8,531.6 676.3,531.7 676.8,531.7 677.3,531.8 677.8,531.8 678.3,531.9 678.8,531.9 679.3,532.0 679.8,532.0 680.3,532.0 680.8,532.1 681.3,532.1 681.8,532.1 682.3,532.1 682.8,532.1" />
<polyline fill="none" stroke="#f06268" stroke-width="1.1" stroke-linejoin="round" stroke-linecap="round" points="379.8,419.8 380.3,420.7 380.8,421.7 381.3,422.7 381.8,423.6 382.3,424.5 382.8,425.1 383.3,425.5 383.8,425.7 384.3,425.8 384.8,426.0 385.3,426.1 385.8,426.2 386.3,426.3 386.8,426.4 387.3,426.6 387.8,426.7 388.3,426.8 388.8,426.9 389.3,426.9 389.8,427.0 390.3,427.1 390.8,427.2 391.3,427.3 391.8,427.4 392.3,427.4 392.8,427.5 393.3,427.6 393.8,427.6 394.3,427.7 394.8,427.7 395.3,427.8 395.8,427.8 396.3,427.9 396.8,427.9 397.3,428.0 397.8,428.0 398.3,428.1 398.8,428.1 399.3,428.2 399.8,428.2 400.3,428.2 400.8,428.3 401.3,428.3 401.8,428.3 402.3,428.4 402.8,428.4 403.3,428.4 403.8,428.5 404.3,428.5 404.8,428.5 405.3,428.6 405.8,428.6 406.3,428.6 406.8,428.7 407.3,428.7 407.8,428.7 408.3,428.8 408.8,428.8 409.3,428.8 409.8,428.9 410.3,428.9 410.8,429.0 411.3,429.0 411.8,429.1 412.3,429.1 412.8,429.2 413.3,429.2 413.8,429.3 414.3,429.3 414.8,429.4 415.3,429.4 415.8,429.5 416.3,429.6 416.8,429.6 417.3,429.7 417.8,429.7 418.3,429.8 418.8,429.9 419.3,429.9 419.8,430.0 420.3,430.0 420.8,430.1 421.3,430.2 421.8,430.2 422.3,430.3 422.8,430.3 423.3,430.4 423.8,430.4 424.3,430.5 424.8,430.6 425.3,430.6 425.8,430.7 426.3,430.7 426.8,430.8 427.3,430.8 427.8,430.9 428.3,431.0 428.8,431.0 429.3,431.1 429.8,431.1 430.3,431.2 430.8,431.2 431.3,431.3 431.8,431.4 432.3,431.4 432.8,431.5 433.3,431.5 433.8,431.6 434.3,431.7 434.8,431.7 435.3,431.8 435.8,431.8 436.3,431.9 436.8,432.0 437.3,432.0 437.8,432.1 438.3,432.2 438.8,432.2 439.3,432.3 439.8,432.3 440.3,432.4 440.8,432.5 441.3,432.5 441.8,432.6 442.3,432.7 442.8,432.7 443.3,432.8 443.8,432.9 444.3,432.9 444.8,433.0 445.3,433.1 445.8,433.2 446.3,433.2 446.8,433.3 447.3,433.4 447.8,433.4 448.3,433.5 448.8,433.6 449.3,433.7 449.8,433.8 450.3,433.8 450.8,433.9 451.3,434.0 451.8,434.1 452.3,434.1 452.8,434.2 453.3,434.3 453.8,434.4 454.3,434.5 454.8,434.5 455.3,434.6 455.8,434.7 456.3,434.8 456.8,434.9 457.3,435.0 457.8,435.0 458.3,435.1 458.8,435.2 459.3,435.3 459.8,435.4 460.3,435.5 460.8,435.6 461.3,435.7 461.8,435.8 462.3,435.8 462.8,435.9 463.3,436.0 463.8,436.1 464.3,436.2 464.8,436.3 465.3,436.4 465.8,436.5 466.3,436.6 466.8,436.7 467.3,436.8 467.8,437.0 468.3,437.1 468.8,437.2 469.3,437.3 469.8,437.4 470.3,437.5 470.8,437.6 471.3,437.8 471.8,437.9 472.3,438.0 472.8,438.1 473.3,438.3 473.8,438.4 474.3,438.5 474.8,438.7 475.3,438.8 475.8,438.9 476.3,439.1 476.8,439.2 477.3,439.4 477.8,439.5 478.3,439.7 478.8,439.9 479.3,440.1 479.8,440.2 480.3,440.4 480.8,440.6 481.3,440.8 481.8,441.1 482.3,441.3 482.8,441.5 483.3,441.7 483.8,441.9 484.3,442.2 484.8,442.4 485.3,442.7 485.8,442.9 486.3,443.1 486.8,443.4 487.3,443.6 487.8,443.9 488.3,444.1 488.8,444.4 489.3,444.6 489.8,444.9 490.3,445.1 490.8,445.4 491.3,445.6 491.8,445.9 492.3,446.1 492.8,446.4 493.3,446.6 493.8,446.8 494.3,447.0 494.8,447.3 495.3,447.5 495.8,447.7 496.3,447.9 496.8,448.1 497.3,448.3 497.8,448.4 498.3,448.6 498.8,448.7 499.3,448.9 499.8,449.0 500.3,449.1 500.8,449.2 501.3,449.3 501.8,449.4 502.3,449.5 502.8,449.6 503.3,449.7 503.8,449.7 504.3,449.8 504.8,449.8 505.3,449.8 505.8,449.8 506.3,449.8 506.8,449.8 507.3,449.8 507.8,449.8 508.3,449.7 508.8,449.7 509.3,449.6 509.8,449.5 510.3,449.4 510.8,449.3 511.3,449.1 511.8,449.0 512.3,448.8 512.8,448.7 513.3,448.5 513.8,448.3 514.3,448.1 514.8,447.9 515.3,447.7 515.8,447.5 516.3,447.3 516.8,447.1 517.3,446.8 517.8,446.6 518.3,446.4 518.8,446.2 519.3,445.9 519.8,445.7 520.3,445.5 520.8,445.3 521.3,445.1 521.8,444.9 522.3,444.7 522.8,444.6 523.3,444.4 523.8,444.3 524.3,444.2 524.8,444.1 525.3,444.0 525.8,443.9 526.3,443.9 526.8,443.9 527.3,443.9 527.8,443.9 528.3,443.9 528.8,444.0 529.3,444.1 529.8,444.3 530.3,444.4 530.8,444.6 531.3,444.8 531.8,445.1 532.3,445.3 532.8,445.6 533.3,445.9 533.8,446.3 534.3,446.6 534.8,447.0 535.3,447.4 535.8,447.9 536.3,448.3 536.8,448.8 537.3,449.2 537.8,449.7 538.3,450.2 538.8,450.8 539.3,451.3 539.8,451.8 540.3,452.4 540.8,452.9 541.3,453.5 541.8,454.1 542.3,454.6 542.8,455.2 543.3,455.8 543.8,456.3 544.3,456.9 544.8,457.4 545.3,458.0 545.8,458.5 546.3,459.1 546.8,459.6 547.3,460.1 547.8,460.6 548.3,461.1 548.8,461.6 549.3,462.1 549.8,462.6 550.3,463.0 550.8,463.5 551.3,463.9 551.8,464.3 552.3,464.8 552.8,465.2 553.3,465.5 553.8,465.9 554.3,466.3 554.8,466.6 555.3,467.0 555.8,467.3 556.3,467.7 556.8,468.0 557.3,468.3 557.8,468.6 558.3,468.8 558.8,469.1 559.3,469.4 559.8,469.6 560.3,469.9 560.8,470.1 561.3,470.4 561.8,470.6 562.3,470.8 562.8,471.0 563.3,471.2 563.8,471.4 564.3,471.6 564.8,471.8 565.3,472.0 565.8,472.2 566.3,472.4 566.8,472.6 567.3,472.8 567.8,473.0 568.3,473.1 568.8,473.3 569.3,473.5 569.8,473.6 570.3,473.8 570.8,474.0 571.3,474.1 571.8,474.3" />
<polyline fill="none" stroke="#111111" stroke-width="1.3" stroke-linejoin="round" stroke-linecap="round" points="379.8,419.8 380.3,420.7 380.8,421.7 381.3,422.7 381.8,423.6 382.3,424.5 382.8,425.1 383.3,425.5 383.8,425.7 384.3,425.8 384.8,426.0 385.3,426.1 385.8,426.2 386.3,426.3 386.8,426.4 387.3,426.6 387.8,426.7 388.3,426.8 388.8,426.9 389.3,426.9 389.8,427.0 390.3,427.1 390.8,427.2 391.3,427.3 391.8,427.4 392.3,427.4 392.8,427.5 393.3,427.6 393.8,427.6 394.3,427.7 394.8,427.7 395.3,427.8 395.8,427.8 396.3,427.9 396.8,427.9 397.3,428.0 397.8,428.0 398.3,428.1 398.8,428.1 399.3,428.2 399.8,428.2 400.3,428.2 400.8,428.3 401.3,428.3 401.8,428.3 402.3,428.4 402.8,428.4 403.3,428.4 403.8,428.5 404.3,428.5 404.8,428.5 405.3,428.6 405.8,428.6 406.3,428.6 406.8,428.7 407.3,428.7 407.8,428.7 408.3,428.8 408.8,428.8 409.3,428.8 409.8,428.9 410.3,428.9 410.8,429.0 411.3,429.0 411.8,429.1 412.3,429.1 412.8,429.2 413.3,429.2 413.8,429.3 414.3,429.3 414.8,429.4 415.3,429.4 415.8,429.5 416.3,429.6 416.8,429.6 417.3,429.7 417.8,429.7 418.3,429.8 418.8,429.9 419.3,429.9 419.8,430.0 420.3,430.0 420.8,430.1 421.3,430.2 421.8,430.2 422.3,430.3 422.8,430.3 423.3,430.4 423.8,430.4 424.3,430.5 424.8,430.6 425.3,430.6 425.8,430.7 426.3,430.7 426.8,430.8 427.3,430.8 427.8,430.9 428.3,431.0 428.8,431.0 429.3,431.1 429.8,431.1 430.3,431.2 430.8,431.2 431.3,431.3 431.8,431.4 432.3,431.4 432.8,431.5 433.3,431.5 433.8,431.6 434.3,431.7 434.8,431.7 435.3,431.8 435.8,431.8 436.3,431.9 436.8,432.0 437.3,432.0 437.8,432.1 438.3,432.2 438.8,432.2 439.3,432.3 439.8,432.3 440.3,432.4 440.8,432.5 441.3,432.5 441.8,432.6 442.3,432.7 442.8,432.7 443.3,432.8 443.8,432.9 444.3,432.9 444.8,433.0 445.3,433.1 445.8,433.2 446.3,433.2 446.8,433.3 447.3,433.4 447.8,433.4 448.3,433.5 448.8,433.6 449.3,433.7 449.8,433.8 450.3,433.8 450.8,433.9 451.3,434.0 451.8,434.1 452.3,434.1 452.8,434.2 453.3,434.3 453.8,434.4 454.3,434.5 454.8,434.5 455.3,434.6 455.8,434.7 456.3,434.8 456.8,434.9 457.3,435.0 457.8,435.0 458.3,435.1 458.8,435.2 459.3,435.3 459.8,435.4 460.3,435.5 460.8,435.6 461.3,435.7 461.8,435.8 462.3,435.8 462.8,435.9 463.3,436.0 463.8,436.1 464.3,436.2 464.8,436.3 465.3,436.4 465.8,436.5 466.3,436.6 466.8,436.7 467.3,436.8 467.8,437.0 468.3,437.1 468.8,437.2 469.3,437.3 469.8,437.4 470.3,437.5 470.8,437.6 471.3,437.8 471.8,437.9 472.3,438.0 472.8,438.1 473.3,438.3 473.8,438.4 474.3,438.5 474.8,438.7 475.3,438.8 475.8,438.9 476.3,439.1 476.8,439.2 477.3,439.4 477.8,439.5 478.3,439.7 478.8,439.9 479.3,440.1 479.8,440.2 480.3,440.4 480.8,440.6 481.3,440.9 481.8,441.1 482.3,441.3 482.8,441.5 483.3,441.7 483.8,442.0 484.3,442.2 484.8,442.5 485.3,442.7 485.8,442.9 486.3,443.2 486.8,443.5 487.3,443.7 487.8,444.0 488.3,444.2 488.8,444.5 489.3,444.8 489.8,445.0 490.3,445.3 490.8,445.6 491.3,445.8 491.8,446.1 492.3,446.4 492.8,446.6 493.3,446.9 493.8,447.2 494.3,447.4 494.8,447.7 495.3,448.0 495.8,448.2 496.3,448.5 496.8,448.7 497.3,449.0 497.8,449.2 498.3,449.5 498.8,449.7 499.3,450.0 499.8,450.2 500.3,450.4 500.8,450.7 501.3,450.9 501.8,451.1 502.3,451.4 502.8,451.6 503.3,451.9 503.8,452.1 504.3,452.3 504.8,452.6 505.3,452.8 505.8,453.1 506.3,453.3 506.8,453.6 507.3,453.8 507.8,454.0 508.3,454.3 508.8,454.5 509.3,454.8 509.8,455.0 510.3,455.3 510.8,455.5 511.3,455.8 511.8,456.0 512.3,456.2 512.8,456.5 513.3,456.7 513.8,457.0 514.3,457.2 514.8,457.4 515.3,457.7 515.8,457.9 516.3,458.1 516.8,458.4 517.3,458.6 517.8,458.8 518.3,459.0 518.8,459.2 519.3,459.5 519.8,459.7 520.3,459.9 520.8,460.1 521.3,460.3 521.8,460.5 522.3,460.7 522.8,460.9 523.3,461.1 523.8,461.2 524.3,461.4 524.8,461.6 525.3,461.8 525.8,461.9 526.3,462.1 526.8,462.3 527.3,462.4 527.8,462.6 528.3,462.7 528.8,462.8 529.3,463.0 529.8,463.1 530.3,463.2 530.8,463.3 531.3,463.4 531.8,463.6 532.3,463.7 532.8,463.8 533.3,463.9 533.8,463.9 534.3,464.0 534.8,464.1 535.3,464.2 535.8,464.2 536.3,464.3 536.8,464.3 537.3,464.4 537.8,464.4 538.3,464.4 538.8,464.4 539.3,464.4 539.8,464.4 540.3,464.4 540.8,464.3 541.3,464.3 541.8,464.2 542.3,464.1 542.8,464.1 543.3,463.9 543.8,463.8 544.3,463.7 544.8,463.5 545.3,463.4 545.8,463.2 546.3,463.0 546.8,462.7 547.3,462.5 547.8,462.2 548.3,461.9 548.8,461.6 549.3,461.2 549.8,460.9 550.3,460.5 550.8,460.1 551.3,459.6 551.8,459.2 552.3,458.7 552.8,458.2 553.3,457.6 553.8,457.1 554.3,456.5 554.8,455.9 555.3,455.2 555.8,454.6 556.3,453.9 556.8,453.2 557.3,452.4 557.8,451.7 558.3,450.9 558.8,450.1 559.3,449.3 559.8,448.5 560.3,447.7 560.8,446.8 561.3,446.0 561.8,445.1 562.3,444.2 562.8,443.4 563.3,442.5 563.8,441.6 564.3,440.8 564.8,439.9 565.3,439.1 565.8,438.2 566.3,437.4 566.8,436.6 567.3,435.9 567.8,435.1 568.3,434.4 568.8,433.7 569.3,433.1 569.8,432.4 570.3,431.9 570.8,431.3 571.3,430.8 571.8,430.4 572.3,430.0 572.8,429.7 573.3,429.4 573.8,429.2 574.3,429.0 574.8,428.9 575.3,428.8 575.8,428.8 576.3,428.8 576.8,429.0 577.3,429.1 577.8,429.4 578.3,429.7 578.8,430.0 579.3,430.4 579.8,430.9 580.3,431.4 580.8,432.0 581.3,432.7 581.8,433.3 582.3,434.1 582.8,434.9 583.3,435.7 583.8,436.6 584.3,437.5 584.8,438.4 585.3,439.4 585.8,440.4 586.3,441.4 586.8,442.5 587.3,443.6 587.8,444.7 588.3,445.8 588.8,447.0 589.3,448.1 589.8,449.3 590.3,450.5 590.8,451.6 591.3,452.8 591.8,454.0 592.3,455.1 592.8,456.3 593.3,457.5 593.8,458.6 594.3,459.7 594.8,460.9 595.3,462.0 595.8,463.1 596.3,464.1 596.8,465.2 597.3,466.2 597.8,467.2 598.3,468.2 598.8,469.2 599.3,470.1 599.8,471.0 600.3,471.9 600.8,472.8 601.3,473.6 601.8,474.4 602.3,475.2 602.8,476.0 603.3,476.7 603.8,477.5 604.3,478.2 604.8,478.8 605.3,479.5 605.8,480.1 606.3,480.7 606.8,481.3 607.3,481.9 607.8,482.5 608.3,483.0 608.8,483.5 609.3,484.1 609.8,484.6 610.3,485.1 610.8,485.6 611.3,486.0 611.8,486.5 612.3,487.0 612.8,487.4 613.3,487.9 613.8,488.3 614.3,488.7 614.8,489.2 615.3,489.6 615.8,490.0 616.3,490.4 616.8,490.8 617.3,491.2 617.8,491.6 618.3,492.0 618.8,492.4 619.3,492.8 619.8,493.2 620.3,493.6 620.8,494.0 621.3,494.4 621.8,494.7 622.3,495.1 622.8,495.5 623.3,495.9 623.8,496.3 624.3,496.6 624.8,497.0 625.3,497.4 625.8,497.8 626.3,498.2 626.8,498.6 627.3,499.0 627.8,499.4 628.3,499.8 628.8,500.3 629.3,500.7 629.8,501.1 630.3,501.5 630.8,501.9 631.3,502.4 631.8,502.8 632.3,503.2 632.8,503.7 633.3,504.1 633.8,504.5 634.3,505.0 634.8,505.4 635.3,505.9 635.8,506.3 636.3,506.8 636.8,507.3 637.3,507.8 637.8,508.3 638.3,508.8 638.8,509.3 639.3,509.8 639.8,510.4 640.3,510.9 640.8,511.4 641.3,512.0 641.8,512.5 642.3,513.0 642.8,513.6 643.3,514.1 643.8,514.6 644.3,515.1 644.8,515.7 645.3,516.2 645.8,516.7 646.3,517.1 646.8,517.6 647.3,518.1 647.8,518.5 648.3,518.9 648.8,519.3 649.3,519.8 649.8,520.2 650.3,520.6 650.8,521.0 651.3,521.5 651.8,521.9 652.3,522.3 652.8,522.8 653.3,523.2 653.8,523.6 654.3,524.0 654.8,524.4 655.3,524.8 655.8,525.2 656.3,525.6 656.8,525.9 657.3,526.3 657.8,526.6 658.3,526.9 658.8,527.2 659.3,527.5 659.8,527.7 660.3,528.0 660.8,528.2 661.3,528.4 661.8,528.5 662.3,528.7 662.8,528.8 663.3,529.0 663.8,529.1 664.3,529.2 664.8,529.4 665.3,529.5 665.8,529.6 666.3,529.7 666.8,529.9 667.3,530.0 667.8,530.1 668.3,530.2 668.8,530.3 669.3,530.5 669.8,530.6 670.3,530.7 670.8,530.8 671.3,530.9 671.8,531.0 672.3,531.1 672.8,531.1 673.3,531.2 673.8,531.3 674.3,531.4 674.8,531.5 675.3,531.5 675.8,531.6 676.3,531.7 676.8,531.7 677.3,531.8 677.8,531.8 678.3,531.9 678.8,531.9 679.3,532.0 679.8,532.0 680.3,532.0 680.8,532.1 681.3,532.1 681.8,532.1 682.3,532.1 682.8,532.1" />
<polyline fill="none" stroke="#ff66ff" stroke-width="1.1" stroke-linejoin="round" stroke-linecap="round" points="569.3,472.9 569.8,473.0 570.3,473.1 570.8,473.2 571.3,473.2 571.8,473.3 572.3,473.3 572.8,473.3 573.3,473.4 573.8,473.4 574.3,473.4 574.8,473.4 575.3,473.4 575.8,473.3 576.3,473.3 576.8,473.2 577.3,473.2 577.8,473.1 578.3,473.0 578.8,472.8 579.3,472.7 579.8,472.5 580.3,472.4 580.8,472.2 581.3,471.9 581.8,471.7 582.3,471.4 582.8,471.1 583.3,470.8 583.8,470.5 584.3,470.1 584.8,469.7 585.3,469.3 585.8,468.8 586.3,468.4 586.8,467.8 587.3,467.3 587.8,466.8 588.3,466.2 588.8,465.6 589.3,464.9 589.8,464.2 590.3,463.6 590.8,462.8 591.3,462.1 591.8,461.3 592.3,460.5 592.8,459.7 593.3,458.9 593.8,458.0 594.3,457.2 594.8,456.3 595.3,455.4 595.8,454.5 596.3,453.5 596.8,452.6 597.3,451.7 597.8,450.7 598.3,449.8 598.8,448.9 599.3,447.9 599.8,447.0 600.3,446.1 600.8,445.2 601.3,444.3 601.8,443.4 602.3,442.6 602.8,441.8 603.3,441.0 603.8,440.2 604.3,439.5 604.8,438.8 605.3,438.1 605.8,437.5 606.3,436.9 606.8,436.4 607.3,435.9 607.8,435.5 608.3,435.1 608.8,434.8 609.3,434.6 609.8,434.4 610.3,434.3 610.8,434.2 611.3,434.2 611.8,434.3 612.3,434.4 612.8,434.6 613.3,434.9 613.8,435.2 614.3,435.6 614.8,436.0 615.3,436.5 615.8,437.0 616.3,437.6 616.8,438.3 617.3,438.9 617.8,439.7 618.3,440.4 618.8,441.3 619.3,442.1 619.8,443.0 620.3,443.9 620.8,444.9 621.3,445.9 621.8,447.0 622.3,448.1 622.8,449.2 623.3,450.3 623.8,451.5 624.3,452.7 624.8,453.9 625.3,455.2 625.8,456.5 626.3,457.8 626.8,459.1 627.3,460.4 627.8,461.8 628.3,463.1 628.8,464.5 629.3,465.9 629.8,467.3 630.3,468.6 630.8,470.0 631.3,471.4 631.8,472.8 632.3,474.2 632.8,475.6 633.3,477.0 633.8,478.4 634.3,479.7 634.8,481.1 635.3,482.4 635.8,483.8 636.3,485.1 636.8,486.5 637.3,487.8 637.8,489.2 638.3,490.5 638.8,491.8 639.3,493.1 639.8,494.3 640.3,495.6 640.8,496.9 641.3,498.1 641.8,499.3 642.3,500.5 642.8,501.6 643.3,502.7 643.8,503.9 644.3,504.9 644.8,506.0 645.3,507.0 645.8,508.0 646.3,509.0 646.8,509.9 647.3,510.8 647.8,511.6 648.3,512.5 648.8,513.3 649.3,514.1 649.8,514.8 650.3,515.6 650.8,516.3 651.3,517.1 651.8,517.8 652.3,518.5 652.8,519.2 653.3,519.8 653.8,520.5 654.3,521.1 654.8,521.7 655.3,522.3 655.8,522.8 656.3,523.4 656.8,523.9 657.3,524.4 657.8,524.9 658.3,525.3 658.8,525.7 659.3,526.1 659.8,526.5 660.3,526.8 660.8,527.1 661.3,527.4 661.8,527.6 662.3,527.8 662.8,528.1 663.3,528.3 663.8,528.5 664.3,528.6 664.8,528.8 665.3,529.0 665.8,529.2 666.3,529.3 666.8,529.5 667.3,529.6 667.8,529.8 668.3,529.9 668.8,530.1 669.3,530.2 669.8,530.3 670.3,530.5 670.8,530.6 671.3,530.7 671.8,530.8 672.3,530.9 672.8,531.0 673.3,531.1 673.8,531.2 674.3,531.3 674.8,531.4 675.3,531.5 675.8,531.5 676.3,531.6 676.8,531.7 677.3,531.7 677.8,531.8 678.3,531.8 678.8,531.9 679.3,531.9 679.8,532.0 680.3,532.0 680.8,532.0 681.3,532.1 681.8,532.1 682.3,532.1 682.8,532.1" />
<polyline fill="none" stroke="#44eeee" stroke-width="1.1" stroke-linejoin="round" stroke-linecap="round" points="600.3,481.6 600.8,481.7 601.3,481.9 601.8,482.0 602.3,482.1 602.8,482.3 603.3,482.4 603.8,482.5 604.3,482.6 604.8,482.7 605.3,482.8 605.8,483.0 606.3,483.0 606.8,483.1 607.3,483.2 607.8,483.3 608.3,483.3 608.8,483.4 609.3,483.4 609.8,483.5 610.3,483.5 610.8,483.5 611.3,483.4 611.8,483.4 612.3,483.3 612.8,483.2 613.3,483.0 613.8,482.8 614.3,482.6 614.8,482.3 615.3,482.0 615.8,481.6 616.3,481.2 616.8,480.7 617.3,480.1 617.8,479.5 618.3,478.7 618.8,477.9 619.3,477.0 619.8,476.0 620.3,474.9 620.8,473.7 621.3,472.4 621.8,471.0 622.3,469.4 622.8,467.8 623.3,466.0 623.8,464.1 624.3,462.0 624.8,459.9 625.3,457.6 625.8,455.2 626.3,452.6 626.8,450.0 627.3,447.2 627.8,444.3 628.3,441.3 628.8,438.1 629.3,434.9 629.8,431.6 630.3,428.2 630.8,424.7 631.3,421.1 631.8,417.5 632.3,413.8 632.8,410.2 633.3,406.5 633.8,402.8 634.3,399.1 634.8,395.5 635.3,391.9 635.8,388.4 636.3,385.1 636.8,381.8 637.3,378.7 637.8,375.8 638.3,373.1 638.8,370.5 639.3,368.2 639.8,366.1 640.3,364.3 640.8,362.8 641.3,361.5 641.8,360.6 642.3,360.0 642.8,359.7 643.3,359.7 643.8,360.0 644.3,360.4 644.8,360.8 645.3,361.6 645.8,362.8 646.3,364.4 646.8,366.4 647.3,368.8 647.8,371.5 648.3,374.6 648.8,377.9 649.3,381.4 649.8,385.1 650.3,388.7 650.8,392.3 651.3,396.0 651.8,399.6 652.3,403.2 652.8,406.8 653.3,410.4 653.8,413.9 654.3,417.4 654.8,420.9 655.3,424.3 655.8,427.6 656.3,430.9 656.8,434.2 657.3,437.4 657.8,440.6 658.3,443.7 658.8,446.9 659.3,450.0 659.8,453.1 660.3,456.1 660.8,459.2 661.3,462.2 661.8,465.3 662.3,468.3 662.8,471.4 663.3,474.4 663.8,477.3 664.3,480.2 664.8,483.0 665.3,485.7 665.8,488.3 666.3,490.8 666.8,493.1 667.3,495.3 667.8,497.5 668.3,499.5 668.8,501.5 669.3,503.4 669.8,505.2 670.3,506.9 670.8,508.5 671.3,510.0 671.8,511.5 672.3,512.9 672.8,514.2 673.3,515.4 673.8,516.6 674.3,517.8 674.8,518.8 675.3,519.9 675.8,520.8 676.3,521.8 676.8,522.6 677.3,523.4 677.8,524.2 678.3,524.8 678.8,525.5 679.3,526.1 679.8,526.6 680.3,527.1 680.8,527.6 681.3,528.0 681.8,528.3 682.3,528.6 682.8,528.8" />
<polyline fill="none" stroke="#2f5fa8" stroke-width="1.2" stroke-linejoin="round" stroke-linecap="round" points="379.8,419.8 380.3,420.7 380.8,421.7 381.3,422.7 381.8,423.6 382.3,424.5 382.8,425.1 383.3,425.5 383.8,425.7 384.3,425.8 384.8,426.0 385.3,426.1 385.8,426.2 386.3,426.3 386.8,426.4 387.3,426.6 387.8,426.7 388.3,426.8 388.8,426.9 389.3,426.9 389.8,427.0 390.3,427.1 390.8,427.2 391.3,427.3 391.8,427.4 392.3,427.4 392.8,427.5 393.3,427.6 393.8,427.6 394.3,427.7 394.8,427.7 395.3,427.8 395.8,427.8 396.3,427.9 396.8,427.9 397.3,428.0 397.8,428.0 398.3,428.1 398.8,428.1 399.3,428.2 399.8,428.2 400.3,428.2 400.8,428.3 401.3,428.3 401.8,428.3 402.3,428.4 402.8,428.4 403.3,428.4 403.8,428.5 404.3,428.5 404.8,428.5 405.3,428.6 405.8,428.6 406.3,428.6 406.8,428.7 407.3,428.7 407.8,428.7 408.3,428.8 408.8,428.8 409.3,428.8 409.8,428.9 410.3,428.9 410.8,429.0 411.3,429.0 411.8,429.1 412.3,429.1 412.8,429.2 413.3,429.2 413.8,429.3 414.3,429.3 414.8,429.4 415.3,429.4 415.8,429.5 416.3,429.6 416.8,429.6 417.3,429.7 417.8,429.7 418.3,429.8 418.8,429.9 419.3,429.9 419.8,430.0 420.3,430.0 420.8,430.1 421.3,430.2 421.8,430.2 422.3,430.3 422.8,430.3 423.3,430.4 423.8,430.4 424.3,430.5 424.8,430.6 425.3,430.6 425.8,430.7 426.3,430.7 426.8,430.8 427.3,430.8 427.8,430.9 428.3,431.0 428.8,431.0 429.3,431.1 429.8,431.1 430.3,431.2 430.8,431.2 431.3,431.3 431.8,431.4 432.3,431.4 432.8,431.5 433.3,431.5 433.8,431.6 434.3,431.7 434.8,431.7 435.3,431.8 435.8,431.8 436.3,431.9 436.8,432.0 437.3,432.0 437.8,432.1 438.3,432.2 438.8,432.2 439.3,432.3 439.8,432.3 440.3,432.4 440.8,432.5 441.3,432.5 441.8,432.6 442.3,432.7 442.8,432.7 443.3,432.8 443.8,432.9 444.3,432.9 444.8,433.0 445.3,433.1 445.8,433.2 446.3,433.2 446.8,433.3 447.3,433.4 447.8,433.4 448.3,433.5 448.8,433.6 449.3,433.7 449.8,433.8 450.3,433.8 450.8,433.9 451.3,434.0 451.8,434.1 452.3,434.1 452.8,434.2 453.3,434.3 453.8,434.4 454.3,434.5 454.8,434.5 455.3,434.6 455.8,434.7 456.3,434.8 456.8,434.9 457.3,435.0 457.8,435.0 458.3,435.1 458.8,435.2 459.3,435.3 459.8,435.4 460.3,435.5 460.8,435.6 461.3,435.7 461.8,435.8 462.3,435.8 462.8,435.9 463.3,436.0 463.8,436.1 464.3,436.2 464.8,436.3 465.3,436.4 465.8,436.5 466.3,436.6 466.8,436.7 467.3,436.8 467.8,437.0 468.3,437.1 468.8,437.2 469.3,437.3 469.8,437.4 470.3,437.5 470.8,437.6 471.3,437.8 471.8,437.9 472.3,438.0 472.8,438.1 473.3,438.3 473.8,438.4 474.3,438.5 474.8,438.7 475.3,438.8 475.8,438.9 476.3,439.1 476.8,439.2 477.3,439.4 477.8,439.5 478.3,439.7 478.8,439.9 479.3,440.1 479.8,440.2 480.3,440.4 480.8,440.6 481.3,440.9 481.8,441.1 482.3,441.3 482.8,441.5 483.3,441.7 483.8,442.0 484.3,442.2 484.8,442.5 485.3,442.7 485.8,442.9 486.3,443.2 486.8,443.5 487.3,443.7 487.8,444.0 488.3,444.2 488.8,444.5 489.3,444.8 489.8,445.0 490.3,445.3 490.8,445.6 491.3,445.8 491.8,446.1 492.3,446.4 492.8,446.6 493.3,446.9 493.8,447.2 494.3,447.4 494.8,447.7 495.3,448.0 495.8,448.2 496.3,448.5 496.8,448.7 497.3,449.0 497.8,449.2 498.3,449.5 498.8,449.7 499.3,450.0 499.8,450.2 500.3,450.4 500.8,450.7 501.3,450.9 501.8,451.1 502.3,451.4 502.8,451.6 503.3,451.9 503.8,452.1 504.3,452.3 504.8,452.6 505.3,452.8 505.8,453.1 506.3,453.3 506.8,453.6 507.3,453.8 507.8,454.0 508.3,454.3 508.8,454.5 509.3,454.8 509.8,455.0 510.3,455.3 510.8,455.5 511.3,455.8 511.8,456.0 512.3,456.2 512.8,456.5 513.3,456.7 513.8,457.0 514.3,457.2 514.8,457.4 515.3,457.7 515.8,457.9 516.3,458.1 516.8,458.4 517.3,458.6 517.8,458.8 518.3,459.0 518.8,459.2 519.3,459.5 519.8,459.7 520.3,459.9 520.8,460.1 521.3,460.3 521.8,460.5 522.3,460.7 522.8,460.9 523.3,461.1 523.8,461.3 524.3,461.5 524.8,461.6 525.3,461.8 525.8,462.0 526.3,462.2 526.8,462.3 527.3,462.5 527.8,462.7 528.3,462.8 528.8,463.0 529.3,463.1 529.8,463.3 530.3,463.4 530.8,463.5 531.3,463.7 531.8,463.8 532.3,464.0 532.8,464.1 533.3,464.2 533.8,464.4 534.3,464.5 534.8,464.6 535.3,464.7 535.8,464.9 536.3,465.0 536.8,465.1 537.3,465.2 537.8,465.3 538.3,465.5 538.8,465.6 539.3,465.7 539.8,465.8 540.3,465.9 540.8,466.0 541.3,466.1 541.8,466.3 542.3,466.4 542.8,466.5 543.3,466.6 543.8,466.7 544.3,466.8 544.8,466.9 545.3,467.1 545.8,467.2 546.3,467.3 546.8,467.4 547.3,467.5 547.8,467.6 548.3,467.8 548.8,467.9 549.3,468.0 549.8,468.1 550.3,468.2 550.8,468.4 551.3,468.5 551.8,468.6 552.3,468.7 552.8,468.9 553.3,469.0 553.8,469.1 554.3,469.3 554.8,469.4 555.3,469.6 555.8,469.7 556.3,469.8 556.8,470.0 557.3,470.1 557.8,470.3 558.3,470.4 558.8,470.5 559.3,470.7 559.8,470.8 560.3,471.0 560.8,471.1 561.3,471.3 561.8,471.4 562.3,471.5 562.8,471.7 563.3,471.8 563.8,472.0 564.3,472.1 564.8,472.3 565.3,472.4 565.8,472.6 566.3,472.7 566.8,472.9 567.3,473.0 567.8,473.2 568.3,473.3 568.8,473.5 569.3,473.6 569.8,473.8 570.3,473.9 570.8,474.1 571.3,474.2 571.8,474.4 572.3,474.6 572.8,474.7 573.3,474.9 573.8,475.0 574.3,475.2 574.8,475.3 575.3,475.5 575.8,475.6 576.3,475.8 576.8,476.0 577.3,476.1 577.8,476.3 578.3,476.4 578.8,476.6 579.3,476.8 579.8,476.9 580.3,477.1 580.8,477.2 581.3,477.4 581.8,477.6 582.3,477.7 582.8,477.9 583.3,478.0 583.8,478.2 584.3,478.3 584.8,478.5 585.3,478.7 585.8,478.8 586.3,479.0 586.8,479.1 587.3,479.3 587.8,479.4 588.3,479.6 588.8,479.7 589.3,479.9 589.8,480.1 590.3,480.2 590.8,480.4 591.3,480.5 591.8,480.7 592.3,480.8 592.8,481.0 593.3,481.2 593.8,481.3 594.3,481.5 594.8,481.7 595.3,481.8 595.8,482.0 596.3,482.2 596.8,482.3 597.3,482.5 597.8,482.7 598.3,482.8 598.8,483.0 599.3,483.2 599.8,483.4 600.3,483.6 600.8,483.7 601.3,483.9 601.8,484.1 602.3,484.3 602.8,484.5 603.3,484.7 603.8,484.9 604.3,485.1 604.8,485.3 605.3,485.5 605.8,485.7 606.3,485.9 606.8,486.2 607.3,486.4 607.8,486.6 608.3,486.8 608.8,487.1 609.3,487.3 609.8,487.6 610.3,487.8 610.8,488.1 611.3,488.4 611.8,488.6 612.3,488.9 612.8,489.2 613.3,489.5 613.8,489.8 614.3,490.1 614.8,490.4 615.3,490.7 615.8,491.0 616.3,491.3 616.8,491.7 617.3,492.0 617.8,492.3 618.3,492.6 618.8,493.0 619.3,493.3 619.8,493.6 620.3,494.0 620.8,494.3 621.3,494.7 621.8,495.0 622.3,495.4 622.8,495.7 623.3,496.1 623.8,496.4 624.3,496.8 624.8,497.2 625.3,497.5 625.8,497.9 626.3,498.3 626.8,498.7 627.3,499.1 627.8,499.5 628.3,499.9 628.8,500.3 629.3,500.7 629.8,501.1 630.3,501.5 630.8,502.0 631.3,502.4 631.8,502.8 632.3,503.2 632.8,503.7 633.3,504.1 633.8,504.5 634.3,505.0 634.8,505.4 635.3,505.9 635.8,506.3 636.3,506.8 636.8,507.3 637.3,507.8 637.8,508.3 638.3,508.8 638.8,509.3 639.3,509.8 639.8,510.4 640.3,510.9 640.8,511.4 641.3,512.0 641.8,512.5 642.3,513.0 642.8,513.6 643.3,514.1 643.8,514.6 644.3,515.1 644.8,515.7 645.3,516.2 645.8,516.7 646.3,517.1 646.8,517.6 647.3,518.1 647.8,518.5 648.3,518.9 648.8,519.3 649.3,519.8 649.8,520.2 650.3,520.6 650.8,521.0 651.3,521.5 651.8,521.9 652.3,522.3 652.8,522.8 653.3,523.2 653.8,523.6 654.3,524.0 654.8,524.4 655.3,524.8 655.8,525.2 656.3,525.6 656.8,525.9 657.3,526.3 657.8,526.6 658.3,526.9 658.8,527.2 659.3,527.5 659.8,527.7 660.3,528.0 660.8,528.2 661.3,528.4 661.8,528.5 662.3,528.7 662.8,528.8 663.3,529.0 663.8,529.1 664.3,529.2 664.8,529.4 665.3,529.5 665.8,529.6 666.3,529.7 666.8,529.9 667.3,530.0 667.8,530.1 668.3,530.2 668.8,530.3 669.3,530.5 669.8,530.6 670.3,530.7 670.8,530.8 671.3,530.9 671.8,531.0 672.3,531.1 672.8,531.1 673.3,531.2 673.8,531.3 674.3,531.4 674.8,531.5 675.3,531.5 675.8,531.6 676.3,531.7 676.8,531.7 677.3,531.8 677.8,531.8 678.3,531.9 678.8,531.9 679.3,532.0 679.8,532.0 680.3,532.0 680.8,532.1 681.3,532.1 681.8,532.1 682.3,532.1 682.8,532.1" />
<polyline fill="none" stroke="#7a7a7a" stroke-width="1.2" stroke-linejoin="round" stroke-linecap="round" points="379.8,417.7 380.3,418.0 380.8,418.3 381.3,418.7 381.8,419.1 382.3,419.4 382.8,419.7 383.3,419.9 383.8,420.0 384.3,420.0 384.8,420.0 385.3,419.9 385.8,419.7 386.3,419.6 386.8,419.3 387.3,419.1 387.8,418.8 388.3,418.5 388.8,418.2 389.3,417.8 389.8,417.5 390.3,417.2 390.8,417.0 391.3,416.7 391.8,416.4 392.3,416.2 392.8,416.0 393.3,415.8 393.8,415.6 394.3,415.4 394.8,415.3 395.3,415.1 395.8,414.9 396.3,414.7 396.8,414.6 397.3,414.4 397.8,414.3 398.3,414.1 398.8,414.0 399.3,413.9 399.8,413.7 400.3,413.6 400.8,413.5 401.3,413.4 401.8,413.4 402.3,413.3 402.8,413.2 403.3,413.2 403.8,413.2 404.3,413.2 404.8,413.2 405.3,413.2 405.8,413.2 406.3,413.3 406.8,413.3 407.3,413.4 407.8,413.4 408.3,413.5 408.8,413.6 409.3,413.7 409.8,413.8 410.3,413.9 410.8,414.0 411.3,414.1 411.8,414.2 412.3,414.3 412.8,414.4 413.3,414.5 413.8,414.7 414.3,414.8 414.8,414.9 415.3,415.0 415.8,415.1 416.3,415.3 416.8,415.4 417.3,415.6 417.8,415.7 418.3,415.9 418.8,416.0 419.3,416.2 419.8,416.3 420.3,416.5 420.8,416.7 421.3,416.8 421.8,416.9 422.3,417.1 422.8,417.2 423.3,417.3 423.8,417.4 424.3,417.5 424.8,417.5 425.3,417.6 425.8,417.6 426.3,417.5 426.8,417.5 427.3,417.4 427.8,417.3 428.3,417.1 428.8,416.9 429.3,416.7 429.8,416.5 430.3,416.2 430.8,415.9 431.3,415.6 431.8,415.2 432.3,414.9 432.8,414.5 433.3,414.2 433.8,413.8 434.3,413.4 434.8,413.1 435.3,412.7 435.8,412.3 436.3,412.0 436.8,411.6 437.3,411.2 437.8,410.8 438.3,410.4 438.8,410.0 439.3,409.6 439.8,409.2 440.3,408.7 440.8,408.3 441.3,407.9 441.8,407.5 442.3,407.1 442.8,406.8 443.3,406.4 443.8,406.1 444.3,405.8 444.8,405.4 445.3,405.1 445.8,404.8 446.3,404.5 446.8,404.2 447.3,403.9 447.8,403.6 448.3,403.3 448.8,403.1 449.3,402.8 449.8,402.6 450.3,402.4 450.8,402.3 451.3,402.1 451.8,402.0 452.3,401.9 452.8,401.9 453.3,401.8 453.8,401.9 454.3,401.9 454.8,402.0 455.3,402.1 455.8,402.2 456.3,402.3 456.8,402.5 457.3,402.6 457.8,402.8 458.3,403.0 458.8,403.2 459.3,403.3 459.8,403.5 460.3,403.7 460.8,403.9 461.3,404.1 461.8,404.3 462.3,404.5 462.8,404.6 463.3,404.8 463.8,405.0 464.3,405.1 464.8,405.3 465.3,405.5 465.8,405.6 466.3,405.8 466.8,406.0 467.3,406.1 467.8,406.2 468.3,406.3 468.8,406.4 469.3,406.4 469.8,406.4 470.3,406.3 470.8,406.2 471.3,406.0 471.8,405.7 472.3,405.4 472.8,405.1 473.3,404.7 473.8,404.2 474.3,403.7 474.8,403.2 475.3,402.6 475.8,402.0 476.3,401.4 476.8,400.7 477.3,400.0 477.8,399.2 478.3,398.3 478.8,397.4 479.3,396.4 479.8,395.4 480.3,394.4 480.8,393.3 481.3,392.1 481.8,391.0 482.3,389.9 482.8,388.7 483.3,387.5 483.8,386.2 484.3,385.0 484.8,383.7 485.3,382.4 485.8,381.1 486.3,379.8 486.8,378.6 487.3,377.4 487.8,376.2 488.3,375.2 488.8,374.2 489.3,373.3 489.8,372.5 490.3,371.8 490.8,371.1 491.3,370.5 491.8,369.9 492.3,369.4 492.8,368.8 493.3,368.3 493.8,367.9 494.3,367.5 494.8,367.1 495.3,366.7 495.8,366.5 496.3,366.2 496.8,366.0 497.3,365.9 497.8,365.8 498.3,365.8 498.8,365.9 499.3,366.1 499.8,366.3 500.3,366.6 500.8,366.9 501.3,367.4 501.8,367.8 502.3,368.3 502.8,368.9 503.3,369.5 503.8,370.1 504.3,370.8 504.8,371.5 505.3,372.3 505.8,373.1 506.3,374.0 506.8,375.0 507.3,376.0 507.8,377.2 508.3,378.3 508.8,379.6 509.3,380.9 509.8,382.2 510.3,383.5 510.8,384.9 511.3,386.2 511.8,387.5 512.3,388.8 512.8,390.1 513.3,391.4 513.8,392.7 514.3,394.0 514.8,395.4 515.3,396.7 515.8,398.0 516.3,399.3 516.8,400.6 517.3,401.9 517.8,403.1 518.3,404.4 518.8,405.7 519.3,406.9 519.8,408.2 520.3,409.4 520.8,410.7 521.3,411.9 521.8,413.1 522.3,414.3 522.8,415.5 523.3,416.7 523.8,417.8 524.3,418.9 524.8,420.0 525.3,421.1 525.8,422.2 526.3,423.2 526.8,424.2 527.3,425.2 527.8,426.2 528.3,427.2 528.8,428.1 529.3,429.0 529.8,429.9 530.3,430.8 530.8,431.7 531.3,432.5 531.8,433.3 532.3,434.1 532.8,434.9 533.3,435.6 533.8,436.3 534.3,437.1 534.8,437.8 535.3,438.5 535.8,439.1 536.3,439.8 536.8,440.4 537.3,441.1 537.8,441.7 538.3,442.3 538.8,442.8 539.3,443.3 539.8,443.8 540.3,444.3 540.8,444.7 541.3,445.1 541.8,445.5 542.3,445.8 542.8,446.1 543.3,446.4 543.8,446.6 544.3,446.9 544.8,447.1 545.3,447.3 545.8,447.5 546.3,447.7 546.8,447.9 547.3,448.0 547.8,448.2 548.3,448.3 548.8,448.4 549.3,448.4 549.8,448.4 550.3,448.4 550.8,448.4 551.3,448.3 551.8,448.2 552.3,448.0 552.8,447.9 553.3,447.6 553.8,447.4 554.3,447.1 554.8,446.9 555.3,446.6 555.8,446.2 556.3,445.9 556.8,445.5 557.3,445.1 557.8,444.7 558.3,444.2 558.8,443.7 559.3,443.1 559.8,442.5 560.3,441.9 560.8,441.2 561.3,440.5 561.8,439.8 562.3,439.0 562.8,438.3 563.3,437.5 563.8,436.8 564.3,436.1 564.8,435.4 565.3,434.7 565.8,434.0 566.3,433.3 566.8,432.6 567.3,432.0 567.8,431.3 568.3,430.7 568.8,430.2 569.3,429.7 569.8,429.2 570.3,428.8 570.8,428.4 571.3,428.1 571.8,427.8 572.3,427.5 572.8,427.2 573.3,427.0 573.8,426.8 574.3,426.6 574.8,426.4 575.3,426.3 575.8,426.2 576.3,426.1 576.8,426.0 577.3,426.0 577.8,426.0 578.3,426.0 578.8,426.1 579.3,426.2 579.8,426.4 580.3,426.5 580.8,426.7 581.3,427.0 581.8,427.2 582.3,427.5 582.8,427.7 583.3,428.0 583.8,428.3 584.3,428.6 584.8,428.8 585.3,429.1 585.8,429.3 586.3,429.6 586.8,429.9 587.3,430.1 587.8,430.4 588.3,430.6 588.8,430.9 589.3,431.2 589.8,431.4 590.3,431.7 590.8,431.9 591.3,432.2 591.8,432.4 592.3,432.6 592.8,432.7 593.3,432.9 593.8,433.0 594.3,433.1 594.8,433.1 595.3,433.0 595.8,433.0 596.3,432.8 596.8,432.7 597.3,432.5 597.8,432.2 598.3,431.9 598.8,431.5 599.3,431.2 599.8,430.8 600.3,430.4 600.8,429.9 601.3,429.5 601.8,429.1 602.3,428.7 602.8,428.2 603.3,427.8 603.8,427.4 604.3,426.9 604.8,426.5 605.3,426.0 605.8,425.5 606.3,425.1 606.8,424.6 607.3,424.1 607.8,423.6 608.3,423.1 608.8,422.7 609.3,422.2 609.8,421.8 610.3,421.4 610.8,421.0 611.3,420.6 611.8,420.2 612.3,419.9 612.8,419.5 613.3,419.2 613.8,418.8 614.3,418.5 614.8,418.1 615.3,417.8 615.8,417.4 616.3,417.0 616.8,416.6 617.3,416.1 617.8,415.6 618.3,415.1 618.8,414.6 619.3,414.0 619.8,413.4 620.3,412.8 620.8,412.1 621.3,411.3 621.8,410.4 622.3,409.5 622.8,408.5 623.3,407.3 623.8,406.1 624.3,404.8 624.8,403.4 625.3,401.9 625.8,400.4 626.3,398.8 626.8,397.1 627.3,395.4 627.8,393.7 628.3,391.8 628.8,390.0 629.3,388.0 629.8,386.1 630.3,384.0 630.8,382.0 631.3,380.0 631.8,377.9 632.3,375.9 632.8,373.8 633.3,371.8 633.8,369.8 634.3,367.9 634.8,365.9 635.3,364.1 635.8,362.3 636.3,360.6 636.8,359.0 637.3,357.6 637.8,356.2 638.3,355.0 638.8,353.9 639.3,352.9 639.8,352.0 640.3,351.3 640.8,350.8 641.3,350.6 641.8,350.5 642.3,350.8 642.8,351.2 643.3,352.0 643.8,353.0 644.3,354.3 644.8,355.9 645.3,357.8 645.8,360.0 646.3,362.4 646.8,365.2 647.3,368.2 647.8,371.4 648.3,374.7 648.8,378.1 649.3,381.6 649.8,385.2 650.3,388.7 650.8,392.3 651.3,396.0 651.8,399.6 652.3,403.2 652.8,406.8 653.3,410.4 653.8,413.9 654.3,417.4 654.8,420.9 655.3,424.3 655.8,427.6 656.3,430.9 656.8,434.2 657.3,437.4 657.8,440.6 658.3,443.7 658.8,446.9 659.3,450.0 659.8,453.1 660.3,456.1 660.8,459.2 661.3,462.2 661.8,465.3 662.3,468.3 662.8,471.4 663.3,474.4 663.8,477.3 664.3,480.2 664.8,483.0 665.3,485.7 665.8,488.3 666.3,490.8 666.8,493.1 667.3,495.3 667.8,497.5 668.3,499.5 668.8,501.5 669.3,503.4 669.8,505.2 670.3,506.9 670.8,508.5 671.3,510.0 671.8,511.5 672.3,512.9 672.8,514.2 673.3,515.4 673.8,516.6 674.3,517.8 674.8,518.8 675.3,519.9 675.8,520.8 676.3,521.8 676.8,522.6 677.3,523.4 677.8,524.2 678.3,524.8 678.8,525.5 679.3,526.1 679.8,526.6 680.3,527.1 680.8,527.6 681.3,528.0 681.8,528.3 682.3,528.6 682.8,528.8" />
<rect x="379.8" y="302.2" width="303.59999999999997" height="233.40000000000003" fill="none" stroke="#222" stroke-width="1.2"/>
<line x1="379.8" y1="429" x2="379.8" y2="535.6" stroke="#3565a5" stroke-width="1.2"/>
<line x1="400.70" y1="535.6" x2="400.70" y2="540.1" stroke="#222" stroke-width="1.2"/>
<text x="400.70" y="553.0" font-size="13" text-anchor="middle">735</text>
<line x1="453.46" y1="535.6" x2="453.46" y2="540.1" stroke="#222" stroke-width="1.2"/>
<text x="453.46" y="553.0" font-size="13" text-anchor="middle">730</text>
<line x1="506.22" y1="535.6" x2="506.22" y2="540.1" stroke="#222" stroke-width="1.2"/>
<text x="506.22" y="553.0" font-size="13" text-anchor="middle">725</text>
<line x1="558.98" y1="535.6" x2="558.98" y2="540.1" stroke="#222" stroke-width="1.2"/>
<text x="558.98" y="553.0" font-size="13" text-anchor="middle">720</text>
<line x1="611.74" y1="535.6" x2="611.74" y2="540.1" stroke="#222" stroke-width="1.2"/>
<text x="611.74" y="553.0" font-size="13" text-anchor="middle">715</text>
<line x1="664.50" y1="535.6" x2="664.50" y2="540.1" stroke="#222" stroke-width="1.2"/>
<text x="664.50" y="553.0" font-size="13" text-anchor="middle">710</text>
<text transform="translate(371.4,482.0) rotate(-90)" font-size="19.8" fill="#000">Intensity (a.u.)</text>
<text x="454.7" y="573.9" font-size="19.8" fill="#000" >Binding energy (eV)</text>
<text x="634.8" y="320.4" font-size="20.8" fill="#ffbf00" >Fe2p</text>
<text x="478.8" y="357.1" font-size="16">2p</text><text x="496.8" y="360.7" font-size="10.5">1/2</text>
<text x="621.9" y="342.4" font-size="16">2p</text><text x="640.6" y="346.0" font-size="10.5">3/2</text>
<text x="393.1" y="426.0" font-size="15" fill="#22ee22" >Sat.</text>
<text x="439.0" y="427.0" font-size="15" fill="#a896dc">Fe</text>
<text x="453.0" y="418.5" font-size="8.5" fill="#a896dc">3+</text>
<text x="485.1" y="415.0" font-size="15" fill="#1a1a9a">Fe</text>
<text x="499.8" y="407.4" font-size="8.5" fill="#1a1a9a">2+</text>
<text x="516.8" y="457.4" font-size="15" fill="#f06070" >Sat.</text>
<text x="562.7" y="454.8" font-size="15" fill="#111" >Sat.</text>
<text x="600.4" y="462.7" font-size="15" fill="#ff80ff">Fe</text>
<text x="610.0" y="453.0" font-size="8.5" fill="#ff80ff">3+</text>
<text x="630.7" y="436.6" font-size="15" fill="#22dede">Fe</text>
<text x="644.2" y="429.0" font-size="8.5" fill="#22dede">2+</text>
<text x="1.5" y="603.1" font-size="23.5" fill="#000" >(d)</text>
<polyline fill="none" stroke="#c4c4c4" stroke-width="1.2" stroke-linejoin="round" stroke-linecap="round" points="37.0,814.4 37.5,814.4 38.0,814.4 38.5,814.4 39.0,814.4 39.5,814.4 40.0,814.4 40.5,814.4 41.0,814.4 41.5,814.4 42.0,814.4 42.5,814.4 43.0,814.4 43.5,814.5 44.0,814.5 44.5,814.5 45.0,814.5 45.5,814.5 46.0,814.5 46.5,814.5 47.0,814.5 47.5,814.5 48.0,814.5 48.5,814.5 49.0,814.5 49.5,814.5 50.0,814.5 50.5,814.5 51.0,814.5 51.5,814.5 52.0,814.5 52.5,814.5 53.0,814.5 53.5,814.6 54.0,814.6 54.5,814.6 55.0,814.6 55.5,814.6 56.0,814.6 56.5,814.6 57.0,814.6 57.5,814.6 58.0,814.6 58.5,814.6 59.0,814.6 59.5,814.6 60.0,814.6 60.5,814.6 61.0,814.6 61.5,814.7 62.0,814.7 62.5,814.7 63.0,814.7 63.5,814.7 64.0,814.7 64.5,814.7 65.0,814.7 65.5,814.7 66.0,814.7 66.5,814.7 67.0,814.7 67.5,814.7 68.0,814.7 68.5,814.8 69.0,814.8 69.5,814.8 70.0,814.8 70.5,814.8 71.0,814.8 71.5,814.8 72.0,814.8 72.5,814.8 73.0,814.8 73.5,814.8 74.0,814.8 74.5,814.8 75.0,814.9 75.5,814.9 76.0,814.9 76.5,814.9 77.0,814.9 77.5,814.9 78.0,814.9 78.5,814.9 79.0,814.9 79.5,814.9 80.0,814.9 80.5,814.9 81.0,815.0 81.5,815.0 82.0,815.0 82.5,815.0 83.0,815.0 83.5,815.0 84.0,815.0 84.5,815.0 85.0,815.0 85.5,815.0 86.0,815.0 86.5,815.1 87.0,815.1 87.5,815.1 88.0,815.1 88.5,815.1 89.0,815.1 89.5,815.1 90.0,815.1 90.5,815.1 91.0,815.1 91.5,815.2 92.0,815.2 92.5,815.2 93.0,815.2 93.5,815.2 94.0,815.2 94.5,815.2 95.0,815.2 95.5,815.2 96.0,815.2 96.5,815.3 97.0,815.3 97.5,815.3 98.0,815.3 98.5,815.3 99.0,815.3 99.5,815.3 100.0,815.3 100.5,815.3 101.0,815.3 101.5,815.4 102.0,815.4 102.5,815.4 103.0,815.4 103.5,815.4 104.0,815.4 104.5,815.4 105.0,815.4 105.5,815.4 106.0,815.4 106.5,815.5 107.0,815.5 107.5,815.5 108.0,815.5 108.5,815.5 109.0,815.5 109.5,815.5 110.0,815.5 110.5,815.5 111.0,815.6 111.5,815.6 112.0,815.6 112.5,815.6 113.0,815.6 113.5,815.6 114.0,815.6 114.5,815.6 115.0,815.6 115.5,815.7 116.0,815.7 116.5,815.7 117.0,815.7 117.5,815.7 118.0,815.7 118.5,815.7 119.0,815.7 119.5,815.8 120.0,815.8 120.5,815.8 121.0,815.8 121.5,815.8 122.0,815.8 122.5,815.8 123.0,815.8 123.5,815.8 124.0,815.9 124.5,815.9 125.0,815.9 125.5,815.9 126.0,815.9 126.5,815.9 127.0,815.9 127.5,815.9 128.0,816.0 128.5,816.0 129.0,816.0 129.5,816.0 130.0,816.0 130.5,816.0 131.0,816.0 131.5,816.0 132.0,816.0 132.5,816.1 133.0,816.1 133.5,816.1 134.0,816.1 134.5,816.1 135.0,816.1 135.5,816.1 136.0,816.1 136.5,816.2 137.0,816.2 137.5,816.2 138.0,816.2 138.5,816.2 139.0,816.2 139.5,816.2 140.0,816.2 140.5,816.3 141.0,816.3 141.5,816.3 142.0,816.3 142.5,816.3 143.0,816.3 143.5,816.3 144.0,816.3 144.5,816.4 145.0,816.4 145.5,816.4 146.0,816.4 146.5,816.4 147.0,816.4 147.5,816.4 148.0,816.4 148.5,816.5 149.0,816.5 149.5,816.5 150.0,816.5 150.5,816.5 151.0,816.5 151.5,816.5 152.0,816.6 152.5,816.6 153.0,816.6 153.5,816.6 154.0,816.6 154.5,816.6 155.0,816.6 155.5,816.6 156.0,816.7 156.5,816.7 157.0,816.7 157.5,816.7 158.0,816.7 158.5,816.7 159.0,816.7 159.5,816.8 160.0,816.8 160.5,816.8 161.0,816.8 161.5,816.8 162.0,816.8 162.5,816.9 163.0,816.9 163.5,816.9 164.0,816.9 164.5,816.9 165.0,816.9 165.5,817.0 166.0,817.0 166.5,817.0 167.0,817.0 167.5,817.0 168.0,817.0 168.5,817.1 169.0,817.1 169.5,817.1 170.0,817.1 170.5,817.1 171.0,817.1 171.5,817.2 172.0,817.2 172.5,817.2 173.0,817.2 173.5,817.2 174.0,817.2 174.5,817.3 175.0,817.3 175.5,817.3 176.0,817.3 176.5,817.3 177.0,817.4 177.5,817.4 178.0,817.4 178.5,817.4 179.0,817.4 179.5,817.4 180.0,817.5 180.5,817.5 181.0,817.5 181.5,817.5 182.0,817.5 182.5,817.6 183.0,817.6 183.5,817.6 184.0,817.6 184.5,817.6 185.0,817.7 185.5,817.7 186.0,817.7 186.5,817.7 187.0,817.7 187.5,817.8 188.0,817.8 188.5,817.8 189.0,817.8 189.5,817.8 190.0,817.9 190.5,817.9 191.0,817.9 191.5,817.9 192.0,817.9 192.5,818.0 193.0,818.0 193.5,818.0 194.0,818.0 194.5,818.0 195.0,818.1 195.5,818.1 196.0,818.1 196.5,818.1 197.0,818.1 197.5,818.2 198.0,818.2 198.5,818.2 199.0,818.2 199.5,818.2 200.0,818.3 200.5,818.3 201.0,818.3 201.5,818.3 202.0,818.4 202.5,818.4 203.0,818.4 203.5,818.4 204.0,818.4 204.5,818.5 205.0,818.5 205.5,818.5 206.0,818.5 206.5,818.6 207.0,818.6 207.5,818.6 208.0,818.6 208.5,818.6 209.0,818.7 209.5,818.7 210.0,818.7 210.5,818.7 211.0,818.7 211.5,818.8 212.0,818.8 212.5,818.8 213.0,818.8 213.5,818.9 214.0,818.9 214.5,818.9 215.0,818.9 215.5,818.9 216.0,819.0 216.5,819.0 217.0,819.0 217.5,819.0 218.0,819.1 218.5,819.1 219.0,819.1 219.5,819.1 220.0,819.2 220.5,819.2 221.0,819.2 221.5,819.2 222.0,819.2 222.5,819.3 223.0,819.3 223.5,819.3 224.0,819.3 224.5,819.4 225.0,819.4 225.5,819.4 226.0,819.4 226.5,819.4 227.0,819.5 227.5,819.5 228.0,819.5 228.5,819.5 229.0,819.6 229.5,819.6 230.0,819.6 230.5,819.6 231.0,819.6 231.5,819.7 232.0,819.7 232.5,819.7 233.0,819.7 233.5,819.8 234.0,819.8 234.5,819.8 235.0,819.8 235.5,819.9 236.0,819.9 236.5,819.9 237.0,819.9 237.5,819.9 238.0,820.0 238.5,820.0 239.0,820.0 239.5,820.0 240.0,820.1 240.5,820.1 241.0,820.1 241.5,820.1 242.0,820.1 242.5,820.2 243.0,820.2 243.5,820.2 244.0,820.2 244.5,820.3 245.0,820.3 245.5,820.3 246.0,820.3 246.5,820.3 247.0,820.4 247.5,820.4 248.0,820.4 248.5,820.4 249.0,820.5 249.5,820.5 250.0,820.5 250.5,820.5 251.0,820.5 251.5,820.6 252.0,820.6 252.5,820.6 253.0,820.6 253.5,820.7 254.0,820.7 254.5,820.7 255.0,820.7 255.5,820.8 256.0,820.8 256.5,820.8 257.0,820.8 257.5,820.9 258.0,820.9 258.5,820.9 259.0,821.0 259.5,821.0 260.0,821.0 260.5,821.0 261.0,821.1 261.5,821.1 262.0,821.1 262.5,821.2 263.0,821.2 263.5,821.2 264.0,821.2 264.5,821.3 265.0,821.3 265.5,821.3 266.0,821.4 266.5,821.4 267.0,821.4 267.5,821.4 268.0,821.5 268.5,821.5 269.0,821.5 269.5,821.6 270.0,821.6 270.5,821.6 271.0,821.6 271.5,821.7 272.0,821.7 272.5,821.7 273.0,821.7 273.5,821.8 274.0,821.8 274.5,821.8 275.0,821.9 275.5,821.9 276.0,821.9 276.5,821.9 277.0,822.0 277.5,822.0 278.0,822.0 278.5,822.0 279.0,822.0 279.5,822.1 280.0,822.1 280.5,822.1 281.0,822.1 281.5,822.2 282.0,822.2 282.5,822.2 283.0,822.2 283.5,822.2 284.0,822.2 284.5,822.3 285.0,822.3 285.5,822.3 286.0,822.3 286.5,822.3 287.0,822.3 287.5,822.3 288.0,822.4 288.5,822.4 289.0,822.4 289.5,822.4 290.0,822.4 290.5,822.4 291.0,822.4 291.5,822.4 292.0,822.4 292.5,822.4 293.0,822.5 293.5,822.5 294.0,822.5 294.5,822.5 295.0,822.5 295.5,822.5 296.0,822.5 296.5,822.5 297.0,822.5 297.5,822.5 298.0,822.5 298.5,822.5 299.0,822.5 299.5,822.6 300.0,822.6 300.5,822.6 301.0,822.6 301.5,822.6 302.0,822.6 302.5,822.6 303.0,822.6 303.5,822.6 304.0,822.6 304.5,822.6 305.0,822.6 305.5,822.6 306.0,822.6 306.5,822.7 307.0,822.7 307.5,822.7 308.0,822.7 308.5,822.7 309.0,822.7 309.5,822.7 310.0,822.7 310.5,822.7 311.0,822.7 311.5,822.7 312.0,822.7 312.5,822.7 313.0,822.7 313.5,822.7 314.0,822.7 314.5,822.8 315.0,822.8 315.5,822.8 316.0,822.8 316.5,822.8 317.0,822.8 317.5,822.8 318.0,822.8 318.5,822.8 319.0,822.8 319.5,822.8 320.0,822.8 320.5,822.8 321.0,822.8 321.5,822.8 322.0,822.8 322.5,822.8 323.0,822.8 323.5,822.8 324.0,822.8 324.5,822.8 325.0,822.8 325.5,822.9 326.0,822.9 326.5,822.9 327.0,822.9 327.5,822.9 328.0,822.9 328.5,822.9 329.0,822.9 329.5,822.9 330.0,822.9 330.5,822.9 331.0,822.9 331.5,822.9 332.0,822.9 332.5,822.9 333.0,822.9 333.5,822.9 334.0,822.9 334.5,822.9 335.0,822.9 335.5,822.9 336.0,822.9 336.5,822.9 337.0,822.9 337.5,822.9 338.0,822.9 338.5,822.9 339.0,822.9" />
<polyline fill="none" stroke="#ff5a5a" stroke-width="1.1" stroke-linejoin="round" stroke-linecap="round" points="100.0,740.4 100.5,739.4 101.0,738.3 101.5,737.3 102.0,736.3 102.5,735.3 103.0,734.4 103.5,733.4 104.0,732.5 104.5,731.6 105.0,730.7 105.5,729.9 106.0,729.1 106.5,728.3 107.0,727.5 107.5,726.8 108.0,726.1 108.5,725.4 109.0,724.7 109.5,724.1 110.0,723.5 110.5,723.0 111.0,722.5 111.5,722.0 112.0,721.5 112.5,721.1 113.0,720.7 113.5,720.4 114.0,720.1 114.5,719.8 115.0,719.6 115.5,719.4 116.0,719.2 116.5,719.1 117.0,719.1 117.5,719.0 118.0,719.0 118.5,719.1 119.0,719.1 119.5,719.3 120.0,719.4 120.5,719.6 121.0,719.8 121.5,720.1 122.0,720.4 122.5,720.8 123.0,721.2 123.5,721.6 124.0,722.1 124.5,722.6 125.0,723.1 125.5,723.7 126.0,724.3 126.5,724.9 127.0,725.6 127.5,726.3 128.0,727.1 128.5,727.8 129.0,728.6 129.5,729.4 130.0,730.3 130.5,731.2 131.0,732.1 131.5,733.0 132.0,734.0 132.5,734.9 133.0,735.9 133.5,737.0 134.0,738.0 134.5,739.1 135.0,740.1 135.5,741.2 136.0,742.3 136.5,743.5 137.0,744.6 137.5,745.7 138.0,746.9 138.5,748.0 139.0,749.2 139.5,750.4 140.0,751.6 140.5,752.8 141.0,754.0 141.5,755.2 142.0,756.4 142.5,757.6 143.0,758.8 143.5,760.0 144.0,761.2 144.5,762.4 145.0,763.6 145.5,764.8 146.0,766.0 146.5,767.1 147.0,768.3 147.5,769.5 148.0,770.6 148.5,771.8 149.0,772.9 149.5,774.0 150.0,775.1 150.5,776.2 151.0,777.3 151.5,778.4 152.0,779.5 152.5,780.5 153.0,781.5 153.5,782.6 154.0,783.6 154.5,784.6 155.0,785.5 155.5,786.5 156.0,787.4 156.5,788.4 157.0,789.3 157.5,790.2 158.0,791.0 158.5,791.9 159.0,792.7 159.5,793.5 160.0,794.3 160.5,795.1 161.0,795.9 161.5,796.6 162.0,797.4 162.5,798.1 163.0,798.8 163.5,799.5 164.0,800.1 164.5,800.8 165.0,801.4 165.5,802.0 166.0,802.6 166.5,803.2 167.0,803.7 167.5,804.3 168.0,804.8 168.5,805.3 169.0,805.8 169.5,806.3 170.0,806.8 170.5,807.2 171.0,807.7 171.5,808.1 172.0,808.5 172.5,808.9 173.0,809.3 173.5,809.7 174.0,810.0 174.5,810.4 175.0,810.7 175.5,811.0 176.0,811.3 176.5,811.6 177.0,811.9 177.5,812.2 178.0,812.5 178.5,812.7 179.0,813.0 179.5,813.2 180.0,813.4 180.5,813.7 181.0,813.9 181.5,814.1 182.0,814.3 182.5,814.5 183.0,814.6 183.5,814.8 184.0,815.0 184.5,815.1 185.0,815.3 185.5,815.4 186.0,815.6 186.5,815.7 187.0,815.8 187.5,816.0 188.0,816.1 188.5,816.2 189.0,816.3 189.5,816.4 190.0,816.5 190.5,816.6 191.0,816.7 191.5,816.8 192.0,816.9 192.5,817.0 193.0,817.1 193.5,817.1 194.0,817.2 194.5,817.3 195.0,817.3 195.5,817.4 196.0,817.5 196.5,817.5 197.0,817.6 197.5,817.6 198.0,817.7 198.5,817.7 199.0,817.8 199.5,817.8 200.0,817.9 200.5,817.9 201.0,818.0 201.5,818.0 202.0,818.1 202.5,818.1 203.0,818.2 203.5,818.2 204.0,818.2 204.5,818.3 205.0,818.3 205.5,818.3 206.0,818.4 206.5,818.4 207.0,818.4 207.5,818.5 208.0,818.5 208.5,818.5 209.0,818.6 209.5,818.6 210.0,818.6 210.5,818.6 211.0,818.7 211.5,818.7 212.0,818.7 212.5,818.8 213.0,818.8 213.5,818.8 214.0,818.8 214.5,818.9 215.0,818.9 215.5,818.9 216.0,818.9 216.5,819.0 217.0,819.0 217.5,819.0 218.0,819.0 218.5,819.1 219.0,819.1 219.5,819.1 220.0,819.1 220.5,819.2 221.0,819.2 221.5,819.2 222.0,819.2 222.5,819.3 223.0,819.3 223.5,819.3 224.0,819.3 224.5,819.3 225.0,819.4 225.5,819.4 226.0,819.4 226.5,819.4 227.0,819.5 227.5,819.5 228.0,819.5 228.5,819.5 229.0,819.6 229.5,819.6 230.0,819.6 230.5,819.6 231.0,819.6 231.5,819.7 232.0,819.7" />
<polyline fill="none" stroke="#98f098" stroke-width="1.1" stroke-linejoin="round" stroke-linecap="round" points="98.0,815.3 98.5,815.3 99.0,815.3 99.5,815.3 100.0,815.3 100.5,815.3 101.0,815.3 101.5,815.3 102.0,815.3 102.5,815.4 103.0,815.4 103.5,815.4 104.0,815.4 104.5,815.4 105.0,815.4 105.5,815.4 106.0,815.4 106.5,815.4 107.0,815.4 107.5,815.4 108.0,815.4 108.5,815.4 109.0,815.4 109.5,815.5 110.0,815.5 110.5,815.5 111.0,815.5 111.5,815.5 112.0,815.5 112.5,815.5 113.0,815.5 113.5,815.5 114.0,815.5 114.5,815.5 115.0,815.4 115.5,815.4 116.0,815.4 116.5,815.4 117.0,815.4 117.5,815.4 118.0,815.4 118.5,815.4 119.0,815.3 119.5,815.3 120.0,815.3 120.5,815.3 121.0,815.2 121.5,815.2 122.0,815.2 122.5,815.1 123.0,815.1 123.5,815.0 124.0,815.0 124.5,814.9 125.0,814.9 125.5,814.8 126.0,814.7 126.5,814.6 127.0,814.5 127.5,814.5 128.0,814.4 128.5,814.2 129.0,814.1 129.5,814.0 130.0,813.9 130.5,813.7 131.0,813.6 131.5,813.4 132.0,813.3 132.5,813.1 133.0,812.9 133.5,812.7 134.0,812.4 134.5,812.2 135.0,812.0 135.5,811.7 136.0,811.4 136.5,811.1 137.0,810.8 137.5,810.5 138.0,810.1 138.5,809.8 139.0,809.4 139.5,809.0 140.0,808.6 140.5,808.1 141.0,807.6 141.5,807.1 142.0,806.6 142.5,806.1 143.0,805.5 143.5,804.9 144.0,804.3 144.5,803.6 145.0,803.0 145.5,802.2 146.0,801.5 146.5,800.7 147.0,799.9 147.5,799.1 148.0,798.2 148.5,797.3 149.0,796.3 149.5,795.4 150.0,794.3 150.5,793.3 151.0,792.2 151.5,791.1 152.0,789.9 152.5,788.7 153.0,787.5 153.5,786.2 154.0,784.8 154.5,783.5 155.0,782.1 155.5,780.6 156.0,779.1 156.5,777.6 157.0,776.0 157.5,774.4 158.0,772.8 158.5,771.1 159.0,769.4 159.5,767.6 160.0,765.8 160.5,764.0 161.0,762.1 161.5,760.2 162.0,758.3 162.5,756.3 163.0,754.3 163.5,752.2 164.0,750.2 164.5,748.1 165.0,746.0 165.5,743.8 166.0,741.6 166.5,739.4 167.0,737.2 167.5,735.0 168.0,732.7 168.5,730.5 169.0,728.2 169.5,725.9 170.0,723.7 170.5,721.4 171.0,719.1 171.5,716.8 172.0,714.5 172.5,712.2 173.0,709.9 173.5,707.7 174.0,705.4 174.5,703.2 175.0,701.0 175.5,698.8 176.0,696.7 176.5,694.6 177.0,692.5 177.5,690.4 178.0,688.4 178.5,686.4 179.0,684.5 179.5,682.6 180.0,680.8 180.5,679.0 181.0,677.3 181.5,675.6 182.0,674.0 182.5,672.5 183.0,671.0 183.5,669.6 184.0,668.3 184.5,667.0 185.0,665.8 185.5,664.7 186.0,663.7 186.5,662.7 187.0,661.9 187.5,661.1 188.0,660.4 188.5,659.8 189.0,659.2 189.5,658.8 190.0,658.4 190.5,658.2 191.0,658.0 191.5,657.9 192.0,657.9 192.5,658.0 193.0,658.2 193.5,658.5 194.0,658.9 194.5,659.4 195.0,659.9 195.5,660.5 196.0,661.3 196.5,662.1 197.0,663.0 197.5,663.9 198.0,665.0 198.5,666.1 199.0,667.3 199.5,668.6 200.0,670.0 200.5,671.4 201.0,672.9 201.5,674.5 202.0,676.1 202.5,677.8 203.0,679.6 203.5,681.4 204.0,683.2 204.5,685.2 205.0,687.1 205.5,689.1 206.0,691.2 206.5,693.3 207.0,695.4 207.5,697.5 208.0,699.7 208.5,701.9 209.0,704.2 209.5,706.4 210.0,708.7 210.5,711.0 211.0,713.3 211.5,715.6 212.0,718.0 212.5,720.3 213.0,722.6 213.5,724.9 214.0,727.3 214.5,729.6 215.0,731.9 215.5,734.2 216.0,736.5 216.5,738.8 217.0,741.0 217.5,743.3 218.0,745.5 218.5,747.7 219.0,749.8 219.5,752.0 220.0,754.1 220.5,756.2 221.0,758.2 221.5,760.2 222.0,762.2 222.5,764.2 223.0,766.1 223.5,768.0 224.0,769.8 224.5,771.6 225.0,773.4 225.5,775.1 226.0,776.8 226.5,778.5 227.0,780.1 227.5,781.7 228.0,783.2 228.5,784.7 229.0,786.1 229.5,787.5 230.0,788.9 230.5,790.2 231.0,791.5 231.5,792.8 232.0,794.0 232.5,795.2 233.0,796.3 233.5,797.4 234.0,798.5 234.5,799.5 235.0,800.5 235.5,801.4 236.0,802.3 236.5,803.2 237.0,804.1 237.5,804.9 238.0,805.7 238.5,806.4 239.0,807.1 239.5,807.8 240.0,808.5 240.5,809.1 241.0,809.8 241.5,810.3 242.0,810.9 242.5,811.4 243.0,812.0 243.5,812.4 244.0,812.9 244.5,813.3 245.0,813.8 245.5,814.2 246.0,814.6 246.5,814.9 247.0,815.3 247.5,815.6 248.0,815.9 248.5,816.2 249.0,816.5 249.5,816.8 250.0,817.0 250.5,817.3 251.0,817.5 251.5,817.7 252.0,817.9 252.5,818.1 253.0,818.3 253.5,818.5 254.0,818.7 254.5,818.8 255.0,819.0 255.5,819.1 256.0,819.3 256.5,819.4 257.0,819.5 257.5,819.7 258.0,819.8 258.5,819.9 259.0,820.0 259.5,820.1 260.0,820.2 260.5,820.3 261.0,820.4 261.5,820.4 262.0,820.5 262.5,820.6 263.0,820.7 263.5,820.7 264.0,820.8 264.5,820.9 265.0,820.9 265.5,821.0 266.0,821.0 266.5,821.1 267.0,821.1 267.5,821.2 268.0,821.2 268.5,821.3 269.0,821.3 269.5,821.4 270.0,821.4 270.5,821.5 271.0,821.5 271.5,821.5 272.0,821.6 272.5,821.6 273.0,821.7 273.5,821.7 274.0,821.7 274.5,821.8 275.0,821.8 275.5,821.8 276.0,821.9 276.5,821.9 277.0,821.9 277.5,821.9 278.0,822.0 278.5,822.0 279.0,822.0 279.5,822.0 280.0,822.1 280.5,822.1 281.0,822.1 281.5,822.1 282.0,822.2 282.5,822.2 283.0,822.2 283.5,822.2 284.0,822.2 284.5,822.3 285.0,822.3 285.5,822.3 286.0,822.3 286.5,822.3 287.0,822.3 287.5,822.3 288.0,822.4 288.5,822.4 289.0,822.4 289.5,822.4 290.0,822.4" />
<polyline fill="none" stroke="#ffa050" stroke-width="1.1" stroke-linejoin="round" stroke-linecap="round" points="152.0,816.4 152.5,816.4 153.0,816.4 153.5,816.4 154.0,816.4 154.5,816.4 155.0,816.4 155.5,816.4 156.0,816.4 156.5,816.4 157.0,816.4 157.5,816.4 158.0,816.4 158.5,816.3 159.0,816.3 159.5,816.3 160.0,816.3 160.5,816.3 161.0,816.3 161.5,816.3 162.0,816.3 162.5,816.3 163.0,816.3 163.5,816.2 164.0,816.2 164.5,816.2 165.0,816.2 165.5,816.2 166.0,816.1 166.5,816.1 167.0,816.1 167.5,816.1 168.0,816.0 168.5,816.0 169.0,816.0 169.5,815.9 170.0,815.9 170.5,815.9 171.0,815.8 171.5,815.8 172.0,815.7 172.5,815.7 173.0,815.6 173.5,815.6 174.0,815.5 174.5,815.4 175.0,815.4 175.5,815.3 176.0,815.2 176.5,815.2 177.0,815.1 177.5,815.0 178.0,814.9 178.5,814.8 179.0,814.7 179.5,814.6 180.0,814.5 180.5,814.4 181.0,814.3 181.5,814.1 182.0,814.0 182.5,813.9 183.0,813.7 183.5,813.6 184.0,813.4 184.5,813.3 185.0,813.1 185.5,812.9 186.0,812.7 186.5,812.5 187.0,812.3 187.5,812.1 188.0,811.9 188.5,811.7 189.0,811.4 189.5,811.2 190.0,810.9 190.5,810.6 191.0,810.4 191.5,810.1 192.0,809.7 192.5,809.4 193.0,809.1 193.5,808.7 194.0,808.4 194.5,808.0 195.0,807.6 195.5,807.1 196.0,806.7 196.5,806.3 197.0,805.8 197.5,805.3 198.0,804.8 198.5,804.2 199.0,803.7 199.5,803.1 200.0,802.5 200.5,801.9 201.0,801.2 201.5,800.6 202.0,799.9 202.5,799.1 203.0,798.4 203.5,797.6 204.0,796.8 204.5,796.0 205.0,795.1 205.5,794.2 206.0,793.2 206.5,792.3 207.0,791.3 207.5,790.2 208.0,789.2 208.5,788.0 209.0,786.9 209.5,785.7 210.0,784.5 210.5,783.2 211.0,781.9 211.5,780.6 212.0,779.2 212.5,777.8 213.0,776.4 213.5,774.9 214.0,773.3 214.5,771.7 215.0,770.1 215.5,768.5 216.0,766.8 216.5,765.0 217.0,763.2 217.5,761.4 218.0,759.5 218.5,757.6 219.0,755.7 219.5,753.7 220.0,751.7 220.5,749.6 221.0,747.5 221.5,745.4 222.0,743.3 222.5,741.1 223.0,738.9 223.5,736.6 224.0,734.3 224.5,732.0 225.0,729.7 225.5,727.4 226.0,725.0 226.5,722.6 227.0,720.2 227.5,717.8 228.0,715.4 228.5,712.9 229.0,710.5 229.5,708.0 230.0,705.6 230.5,703.2 231.0,700.7 231.5,698.3 232.0,695.9 232.5,693.5 233.0,691.1 233.5,688.8 234.0,686.4 234.5,684.1 235.0,681.9 235.5,679.6 236.0,677.4 236.5,675.3 237.0,673.2 237.5,671.1 238.0,669.1 238.5,667.1 239.0,665.2 239.5,663.4 240.0,661.6 240.5,659.9 241.0,658.3 241.5,656.7 242.0,655.2 242.5,653.8 243.0,652.5 243.5,651.2 244.0,650.1 244.5,649.0 245.0,648.0 245.5,647.1 246.0,646.3 246.5,645.6 247.0,645.0 247.5,644.4 248.0,644.0 248.5,643.7 249.0,643.5 249.5,643.3 250.0,643.3 250.5,643.4 251.0,643.5 251.5,643.7 252.0,644.0 252.5,644.3 253.0,644.7 253.5,645.2 254.0,645.8 254.5,646.4 255.0,647.1 255.5,647.9 256.0,648.7 256.5,649.6 257.0,650.5 257.5,651.6 258.0,652.7 258.5,653.8 259.0,655.0 259.5,656.3 260.0,657.6 260.5,659.0 261.0,660.4 261.5,661.9 262.0,663.4 262.5,665.0 263.0,666.7 263.5,668.3 264.0,670.1 264.5,671.8 265.0,673.6 265.5,675.5 266.0,677.3 266.5,679.3 267.0,681.2 267.5,683.2 268.0,685.2 268.5,687.2 269.0,689.3 269.5,691.3 270.0,693.4 270.5,695.5 271.0,697.7 271.5,699.8 272.0,702.0 272.5,704.1 273.0,706.3 273.5,708.5 274.0,710.7 274.5,712.9 275.0,715.1 275.5,717.2 276.0,719.4 276.5,721.6 277.0,723.8 277.5,726.0 278.0,728.1 278.5,730.3 279.0,732.4 279.5,734.5 280.0,736.6 280.5,738.7 281.0,740.8 281.5,742.8 282.0,744.9 282.5,746.9 283.0,748.9 283.5,750.8 284.0,752.8 284.5,754.7 285.0,756.6 285.5,758.5 286.0,760.3 286.5,762.1 287.0,763.9 287.5,765.6 288.0,767.4" />
<polyline fill="none" stroke="#3c3c3c" stroke-width="1.25" stroke-linejoin="round" stroke-linecap="round" points="37.0,814.3 37.5,814.3 38.0,814.3 38.5,814.3 39.0,814.2 39.5,814.2 40.0,814.1 40.5,814.1 41.0,814.0 41.5,813.9 42.0,813.8 42.5,813.7 43.0,813.6 43.5,813.6 44.0,813.4 44.5,813.3 45.0,813.2 45.5,813.1 46.0,813.0 46.5,812.9 47.0,812.7 47.5,812.6 48.0,812.5 48.5,812.4 49.0,812.2 49.5,812.1 50.0,811.9 50.5,811.8 51.0,811.6 51.5,811.5 52.0,811.3 52.5,811.1 53.0,810.9 53.5,810.7 54.0,810.5 54.5,810.3 55.0,810.1 55.5,809.9 56.0,809.6 56.5,809.4 57.0,809.1 57.5,808.9 58.0,808.6 58.5,808.3 59.0,808.0 59.5,807.7 60.0,807.4 60.5,807.1 61.0,806.8 61.5,806.5 62.0,806.2 62.5,805.8 63.0,805.4 63.5,805.1 64.0,804.7 64.5,804.3 65.0,803.9 65.5,803.4 66.0,803.0 66.5,802.5 67.0,802.0 67.5,801.6 68.0,801.1 68.5,800.5 69.0,800.0 69.5,799.5 70.0,798.9 70.5,798.4 71.0,797.8 71.5,797.2 72.0,796.7 72.5,796.1 73.0,795.5 73.5,794.9 74.0,794.3 74.5,793.7 75.0,793.0 75.5,792.4 76.0,791.7 76.5,791.1 77.0,790.4 77.5,789.7 78.0,789.0 78.5,788.2 79.0,787.4 79.5,786.6 80.0,785.8 80.5,784.9 81.0,784.1 81.5,783.1 82.0,782.2 82.5,781.2 83.0,780.1 83.5,779.1 84.0,778.0 84.5,776.9 85.0,775.7 85.5,774.6 86.0,773.4 86.5,772.3 87.0,771.1 87.5,769.9 88.0,768.7 88.5,767.6 89.0,766.4 89.5,765.2 90.0,764.0 90.5,762.8 91.0,761.6 91.5,760.4 92.0,759.2 92.5,758.0 93.0,756.8 93.5,755.6 94.0,754.4 94.5,753.2 95.0,752.0 95.5,750.8 96.0,749.6 96.5,748.4 97.0,747.2 97.5,746.0 98.0,744.8 98.5,743.6 99.0,742.4 99.5,741.2 100.0,740.1 100.5,739.0 101.0,737.9 101.5,736.8 102.0,735.7 102.5,734.7 103.0,733.7 103.5,732.8 104.0,731.8 104.5,730.9 105.0,730.1 105.5,729.2 106.0,728.4 106.5,727.6 107.0,726.8 107.5,726.1 108.0,725.4 108.5,724.8 109.0,724.2 109.5,723.6 110.0,723.1 110.5,722.6 111.0,722.1 111.5,721.7 112.0,721.3 112.5,720.9 113.0,720.5 113.5,720.2 114.0,719.9 114.5,719.6 115.0,719.4 115.5,719.2 116.0,719.0 116.5,718.9 117.0,718.8 117.5,718.7 118.0,718.8 118.5,718.8 119.0,718.9 119.5,719.1 120.0,719.3 120.5,719.6 121.0,719.9 121.5,720.3 122.0,720.7 122.5,721.1 123.0,721.5 123.5,722.0 124.0,722.5 124.5,723.0 125.0,723.5 125.5,724.0 126.0,724.5 126.5,725.1 127.0,725.6 127.5,726.2 128.0,726.7 128.5,727.3 129.0,727.9 129.5,728.5 130.0,729.2 130.5,729.8 131.0,730.5 131.5,731.2 132.0,731.8 132.5,732.5 133.0,733.2 133.5,733.9 134.0,734.5 134.5,735.2 135.0,735.8 135.5,736.5 136.0,737.1 136.5,737.7 137.0,738.3 137.5,738.8 138.0,739.4 138.5,740.0 139.0,740.5 139.5,741.1 140.0,741.6 140.5,742.2 141.0,742.7 141.5,743.2 142.0,743.8 142.5,744.3 143.0,744.8 143.5,745.3 144.0,745.8 144.5,746.3 145.0,746.7 145.5,747.2 146.0,747.6 146.5,747.9 147.0,748.3 147.5,748.6 148.0,748.8 148.5,749.0 149.0,749.2 149.5,749.3 150.0,749.4 150.5,749.4 151.0,749.4 151.5,749.3 152.0,749.2 152.5,749.0 153.0,748.7 153.5,748.4 154.0,748.1 154.5,747.6 155.0,747.2 155.5,746.7 156.0,746.1 156.5,745.5 157.0,744.9 157.5,744.2 158.0,743.5 158.5,742.8 159.0,742.0 159.5,741.2 160.0,740.3 160.5,739.4 161.0,738.5 161.5,737.5 162.0,736.4 162.5,735.2 163.0,734.0 163.5,732.6 164.0,731.2 164.5,729.7 165.0,728.0 165.5,726.3 166.0,724.5 166.5,722.7 167.0,720.8 167.5,718.8 168.0,716.8 168.5,714.8 169.0,712.7 169.5,710.6 170.0,708.5 170.5,706.3 171.0,704.1 171.5,701.9 172.0,699.6 172.5,697.3 173.0,695.1 173.5,692.8 174.0,690.5 174.5,688.3 175.0,686.1 175.5,684.0 176.0,681.8 176.5,679.8 177.0,677.7 177.5,675.7 178.0,673.8 178.5,671.8 179.0,670.0 179.5,668.1 180.0,666.4 180.5,664.7 181.0,663.1 181.5,661.5 182.0,660.1 182.5,658.7 183.0,657.4 183.5,656.1 184.0,654.9 184.5,653.8 185.0,652.8 185.5,651.8 186.0,650.9 186.5,650.0 187.0,649.2 187.5,648.4 188.0,647.8 188.5,647.1 189.0,646.6 189.5,646.1 190.0,645.6 190.5,645.2 191.0,644.9 191.5,644.6 192.0,644.4 192.5,644.2 193.0,644.0 193.5,643.9 194.0,643.8 194.5,643.8 195.0,643.9 195.5,644.0 196.0,644.1 196.5,644.3 197.0,644.5 197.5,644.8 198.0,645.1 198.5,645.4 199.0,645.8 199.5,646.2 200.0,646.6 200.5,647.1 201.0,647.6 201.5,648.2 202.0,648.8 202.5,649.4 203.0,650.1 203.5,650.8 204.0,651.6 204.5,652.4 205.0,653.3 205.5,654.2 206.0,655.2 206.5,656.2 207.0,657.2 207.5,658.2 208.0,659.3 208.5,660.3 209.0,661.2 209.5,662.2 210.0,663.1 210.5,664.0 211.0,664.9 211.5,665.7 212.0,666.6 212.5,667.4 213.0,668.1 213.5,668.9 214.0,669.6 214.5,670.3 215.0,671.0 215.5,671.7 216.0,672.3 216.5,672.8 217.0,673.3 217.5,673.7 218.0,674.1 218.5,674.4 219.0,674.6 219.5,674.7 220.0,674.7 220.5,674.6 221.0,674.5 221.5,674.2 222.0,673.9 222.5,673.5 223.0,673.0 223.5,672.5 224.0,671.9 224.5,671.3 225.0,670.6 225.5,669.9 226.0,669.2 226.5,668.5 227.0,667.7 227.5,666.9 228.0,666.1 228.5,665.3 229.0,664.5 229.5,663.7 230.0,662.8 230.5,661.9 231.0,661.0 231.5,660.1 232.0,659.2 232.5,658.3 233.0,657.3 233.5,656.4 234.0,655.5 234.5,654.6 235.0,653.8 235.5,652.9 236.0,652.1 236.5,651.3 237.0,650.5 237.5,649.8 238.0,649.1 238.5,648.3 239.0,647.6 239.5,646.9 240.0,646.3 240.5,645.6 241.0,644.9 241.5,644.3 242.0,643.7 242.5,643.1 243.0,642.5 243.5,642.0 244.0,641.5 244.5,641.0 245.0,640.6 245.5,640.2 246.0,639.9 246.5,639.6 247.0,639.4 247.5,639.3 248.0,639.2 248.5,639.2 249.0,639.2 249.5,639.3 250.0,639.5 250.5,639.7 251.0,640.1 251.5,640.4 252.0,640.8 252.5,641.3 253.0,641.8 253.5,642.4 254.0,643.0 254.5,643.6 255.0,644.3 255.5,645.0 256.0,645.8 256.5,646.5 257.0,647.4 257.5,648.2 258.0,649.1 258.5,650.1 259.0,651.1 259.5,652.2 260.0,653.4 260.5,654.7 261.0,656.0 261.5,657.4 262.0,658.8 262.5,660.3 263.0,661.9 263.5,663.5 264.0,665.2 264.5,666.9 265.0,668.6 265.5,670.4 266.0,672.2 266.5,674.0 267.0,675.9 267.5,677.8 268.0,679.7 268.5,681.7 269.0,683.8 269.5,685.9 270.0,688.0 270.5,690.2 271.0,692.4 271.5,694.6 272.0,696.9 272.5,699.2 273.0,701.5 273.5,703.9 274.0,706.2 274.5,708.6 275.0,710.9 275.5,713.3 276.0,715.6 276.5,718.0 277.0,720.3 277.5,722.7 278.0,725.1 278.5,727.4 279.0,729.8 279.5,732.2 280.0,734.5 280.5,736.9 281.0,739.3 281.5,741.6 282.0,743.9 282.5,746.2 283.0,748.4 283.5,750.6 284.0,752.7 284.5,754.8 285.0,756.9 285.5,758.8 286.0,760.7 286.5,762.6 287.0,764.4 287.5,766.2 288.0,767.9 288.5,769.5 289.0,771.2 289.5,772.8 290.0,774.3 290.5,775.9 291.0,777.4 291.5,778.8 292.0,780.3 292.5,781.7 293.0,783.0 293.5,784.4 294.0,785.7 294.5,787.0 295.0,788.3 295.5,789.5 296.0,790.7 296.5,792.0 297.0,793.1 297.5,794.3 298.0,795.5 298.5,796.6 299.0,797.7 299.5,798.8 300.0,799.9 300.5,800.9 301.0,801.8 301.5,802.8 302.0,803.7 302.5,804.5 303.0,805.3 303.5,806.0 304.0,806.7 304.5,807.4 305.0,808.0 305.5,808.6 306.0,809.1 306.5,809.6 307.0,810.1 307.5,810.6 308.0,811.0 308.5,811.4 309.0,811.8 309.5,812.2 310.0,812.6 310.5,813.0 311.0,813.3 311.5,813.7 312.0,814.0 312.5,814.3 313.0,814.6 313.5,814.9 314.0,815.2 314.5,815.5 315.0,815.7 315.5,816.0 316.0,816.2 316.5,816.5 317.0,816.7 317.5,816.9 318.0,817.1 318.5,817.3 319.0,817.5 319.5,817.7 320.0,817.8 320.5,818.0 321.0,818.2 321.5,818.3 322.0,818.5 322.5,818.6 323.0,818.8 323.5,818.9 324.0,819.0 324.5,819.2 325.0,819.3 325.5,819.4 326.0,819.6 326.5,819.7 327.0,819.8 327.5,819.9 328.0,820.0 328.5,820.1 329.0,820.2 329.5,820.4 330.0,820.5 330.5,820.6 331.0,820.7 331.5,820.8 332.0,820.8 332.5,820.9 333.0,821.0 333.5,821.1 334.0,821.2 334.5,821.3 335.0,821.4 335.5,821.4 336.0,821.5 336.5,821.6 337.0,821.7 337.5,821.7 338.0,821.8 338.5,821.8 339.0,821.9" />
<rect x="37.0" y="592.0" width="302.6" height="234.29999999999995" fill="none" stroke="#333" stroke-width="1.2"/>
<line x1="36.90" y1="826.3" x2="36.90" y2="830.5999999999999" stroke="#222" stroke-width="1.2"/>
<text x="36.90" y="844.3" font-size="13" text-anchor="middle">291</text>
<line x1="72.45" y1="826.3" x2="72.45" y2="830.5999999999999" stroke="#222" stroke-width="1.2"/>
<text x="72.45" y="844.3" font-size="13" text-anchor="middle">290</text>
<line x1="108.00" y1="826.3" x2="108.00" y2="830.5999999999999" stroke="#222" stroke-width="1.2"/>
<text x="108.00" y="844.3" font-size="13" text-anchor="middle">289</text>
<line x1="143.55" y1="826.3" x2="143.55" y2="830.5999999999999" stroke="#222" stroke-width="1.2"/>
<text x="143.55" y="844.3" font-size="13" text-anchor="middle">288</text>
<line x1="179.10" y1="826.3" x2="179.10" y2="830.5999999999999" stroke="#222" stroke-width="1.2"/>
<text x="179.10" y="844.3" font-size="13" text-anchor="middle">287</text>
<line x1="214.65" y1="826.3" x2="214.65" y2="830.5999999999999" stroke="#222" stroke-width="1.2"/>
<text x="214.65" y="844.3" font-size="13" text-anchor="middle">286</text>
<line x1="250.20" y1="826.3" x2="250.20" y2="830.5999999999999" stroke="#222" stroke-width="1.2"/>
<text x="250.20" y="844.3" font-size="13" text-anchor="middle">285</text>
<line x1="285.75" y1="826.3" x2="285.75" y2="830.5999999999999" stroke="#222" stroke-width="1.2"/>
<text x="285.75" y="844.3" font-size="13" text-anchor="middle">284</text>
<line x1="321.30" y1="826.3" x2="321.30" y2="830.5999999999999" stroke="#222" stroke-width="1.2"/>
<text x="321.30" y="844.3" font-size="13" text-anchor="middle">283</text>
<text transform="translate(28.0,775.4) rotate(-90)" font-size="19.8" fill="#000">Intensity (a.u.)</text>
<text x="95.1" y="867.3" font-size="19.8" fill="#000" >Binding energy (eV)</text>
<text x="298.5" y="611.8" font-size="22.6" fill="#22a84a" >C1s</text>
<text x="93.4" y="779.6" font-size="15.8" fill="#ff7272" >O-C=O</text>
<text x="168.3" y="755.2" font-size="15.8" fill="#11dd11" >C-O-C</text>
<text x="229.6" y="715.0" font-size="15.8" fill="#ff8030" >C-OH</text>
<text x="346.8" y="602.1" font-size="23.5" fill="#000" >(e)</text>
<polyline fill="none" stroke="#c4c4c4" stroke-width="1.2" stroke-linejoin="round" stroke-linecap="round" points="378.8,810.8 379.3,810.8 379.8,810.8 380.3,810.8 380.8,810.8 381.3,810.8 381.8,810.8 382.3,810.8 382.8,810.8 383.3,810.8 383.8,810.8 384.3,810.8 384.8,810.8 385.3,810.8 385.8,810.8 386.3,810.8 386.8,810.8 387.3,810.8 387.8,810.8 388.3,810.8 388.8,810.8 389.3,810.8 389.8,810.8 390.3,810.8 390.8,810.8 391.3,810.8 391.8,810.8 392.3,810.8 392.8,810.8 393.3,810.8 393.8,810.8 394.3,810.8 394.8,810.8 395.3,810.8 395.8,810.8 396.3,810.8 396.8,810.8 397.3,810.8 397.8,810.8 398.3,810.8 398.8,810.8 399.3,810.8 399.8,810.8 400.3,810.8 400.8,810.8 401.3,810.8 401.8,810.8 402.3,810.8 402.8,810.8 403.3,810.8 403.8,810.8 404.3,810.8 404.8,810.8 405.3,810.8 405.8,810.8 406.3,810.8 406.8,810.8 407.3,810.8 407.8,810.8 408.3,810.8 408.8,810.8 409.3,810.8 409.8,810.8 410.3,810.8 410.8,810.8 411.3,810.8 411.8,810.8 412.3,810.8 412.8,810.8 413.3,810.8 413.8,810.8 414.3,810.9 414.8,810.9 415.3,810.9 415.8,810.9 416.3,810.9 416.8,810.9 417.3,810.9 417.8,810.9 418.3,810.9 418.8,810.9 419.3,810.9 419.8,810.9 420.3,810.9 420.8,810.9 421.3,810.9 421.8,810.9 422.3,810.9 422.8,810.9 423.3,810.9 423.8,810.9 424.3,810.9 424.8,810.9 425.3,810.9 425.8,810.9 426.3,810.9 426.8,810.9 427.3,810.9 427.8,810.9 428.3,810.9 428.8,810.9 429.3,810.9 429.8,810.9 430.3,810.9 430.8,810.9 431.3,810.9 431.8,810.9 432.3,810.9 432.8,810.9 433.3,810.9 433.8,810.9 434.3,810.9 434.8,810.9 435.3,810.9 435.8,810.9 436.3,810.9 436.8,810.9 437.3,810.9 437.8,810.9 438.3,810.9 438.8,810.9 439.3,810.9 439.8,810.9 440.3,810.9 440.8,811.0 441.3,811.0 441.8,811.0 442.3,811.0 442.8,811.0 443.3,811.0 443.8,811.0 444.3,811.0 444.8,811.0 445.3,811.0 445.8,811.0 446.3,811.0 446.8,811.0 447.3,811.0 447.8,811.0 448.3,811.0 448.8,811.0 449.3,811.0 449.8,811.0 450.3,811.0 450.8,811.0 451.3,811.0 451.8,811.0 452.3,811.0 452.8,811.0 453.3,811.0 453.8,811.0 454.3,811.0 454.8,811.0 455.3,811.0 455.8,811.0 456.3,811.0 456.8,811.0 457.3,811.0 457.8,811.0 458.3,811.0 458.8,811.0 459.3,811.1 459.8,811.1 460.3,811.1 460.8,811.1 461.3,811.1 461.8,811.1 462.3,811.1 462.8,811.1 463.3,811.1 463.8,811.1 464.3,811.1 464.8,811.1 465.3,811.1 465.8,811.1 466.3,811.1 466.8,811.1 467.3,811.1 467.8,811.1 468.3,811.1 468.8,811.1 469.3,811.1 469.8,811.1 470.3,811.1 470.8,811.1 471.3,811.1 471.8,811.2 472.3,811.2 472.8,811.2 473.3,811.2 473.8,811.2 474.3,811.2 474.8,811.2 475.3,811.2 475.8,811.2 476.3,811.2 476.8,811.2 477.3,811.3 477.8,811.3 478.3,811.3 478.8,811.3 479.3,811.3 479.8,811.3 480.3,811.3 480.8,811.3 481.3,811.3 481.8,811.4 482.3,811.4 482.8,811.4 483.3,811.4 483.8,811.4 484.3,811.4 484.8,811.5 485.3,811.5 485.8,811.5 486.3,811.5 486.8,811.5 487.3,811.5 487.8,811.5 488.3,811.6 488.8,811.6 489.3,811.6 489.8,811.6 490.3,811.6 490.8,811.7 491.3,811.7 491.8,811.7 492.3,811.7 492.8,811.7 493.3,811.7 493.8,811.8 494.3,811.8 494.8,811.8 495.3,811.8 495.8,811.8 496.3,811.9 496.8,811.9 497.3,811.9 497.8,811.9 498.3,811.9 498.8,812.0 499.3,812.0 499.8,812.0 500.3,812.0 500.8,812.0 501.3,812.1 501.8,812.1 502.3,812.1 502.8,812.1 503.3,812.1 503.8,812.2 504.3,812.2 504.8,812.2 505.3,812.2 505.8,812.2 506.3,812.3 506.8,812.3 507.3,812.3 507.8,812.3 508.3,812.4 508.8,812.4 509.3,812.4 509.8,812.4 510.3,812.4 510.8,812.5 511.3,812.5 511.8,812.5 512.3,812.5 512.8,812.5 513.3,812.6 513.8,812.6 514.3,812.6 514.8,812.6 515.3,812.6 515.8,812.7 516.3,812.7 516.8,812.7 517.3,812.7 517.8,812.7 518.3,812.8 518.8,812.8 519.3,812.8 519.8,812.8 520.3,812.8 520.8,812.9 521.3,812.9 521.8,812.9 522.3,812.9 522.8,812.9 523.3,813.0 523.8,813.0 524.3,813.0 524.8,813.0 525.3,813.0 525.8,813.1 526.3,813.1 526.8,813.1 527.3,813.1 527.8,813.1 528.3,813.1 528.8,813.2 529.3,813.2 529.8,813.2 530.3,813.2 530.8,813.2 531.3,813.2 531.8,813.3 532.3,813.3 532.8,813.3 533.3,813.3 533.8,813.3 534.3,813.3 534.8,813.4 535.3,813.4 535.8,813.4 536.3,813.4 536.8,813.4 537.3,813.4 537.8,813.5 538.3,813.5 538.8,813.5 539.3,813.5 539.8,813.5 540.3,813.6 540.8,813.6 541.3,813.6 541.8,813.6 542.3,813.6 542.8,813.6 543.3,813.7 543.8,813.7 544.3,813.7 544.8,813.7 545.3,813.7 545.8,813.8 546.3,813.8 546.8,813.8 547.3,813.8 547.8,813.8 548.3,813.8 548.8,813.9 549.3,813.9 549.8,813.9 550.3,813.9 550.8,813.9 551.3,814.0 551.8,814.0 552.3,814.0 552.8,814.0 553.3,814.0 553.8,814.1 554.3,814.1 554.8,814.1 555.3,814.1 555.8,814.1 556.3,814.1 556.8,814.2 557.3,814.2 557.8,814.2 558.3,814.2 558.8,814.2 559.3,814.3 559.8,814.3 560.3,814.3 560.8,814.3 561.3,814.3 561.8,814.3 562.3,814.4 562.8,814.4 563.3,814.4 563.8,814.4 564.3,814.4 564.8,814.5 565.3,814.5 565.8,814.5 566.3,814.5 566.8,814.5 567.3,814.5 567.8,814.6 568.3,814.6 568.8,814.6 569.3,814.6 569.8,814.6 570.3,814.6 570.8,814.7 571.3,814.7 571.8,814.7 572.3,814.7 572.8,814.7 573.3,814.7 573.8,814.8 574.3,814.8 574.8,814.8 575.3,814.8 575.8,814.8 576.3,814.8 576.8,814.9 577.3,814.9 577.8,814.9 578.3,814.9 578.8,814.9 579.3,814.9 579.8,815.0 580.3,815.0 580.8,815.0 581.3,815.0 581.8,815.0 582.3,815.0 582.8,815.0 583.3,815.0 583.8,815.1 584.3,815.1 584.8,815.1 585.3,815.1 585.8,815.1 586.3,815.1 586.8,815.1 587.3,815.2 587.8,815.2 588.3,815.2 588.8,815.2 589.3,815.2 589.8,815.2 590.3,815.2 590.8,815.2 591.3,815.2 591.8,815.3 592.3,815.3 592.8,815.3 593.3,815.3 593.8,815.3 594.3,815.3 594.8,815.3 595.3,815.3 595.8,815.3 596.3,815.3 596.8,815.4 597.3,815.4 597.8,815.4 598.3,815.4 598.8,815.4 599.3,815.4 599.8,815.4 600.3,815.4 600.8,815.4 601.3,815.4 601.8,815.4 602.3,815.4 602.8,815.4 603.3,815.4 603.8,815.5 604.3,815.5 604.8,815.5 605.3,815.5 605.8,815.5 606.3,815.5 606.8,815.5 607.3,815.5 607.8,815.5 608.3,815.5 608.8,815.5 609.3,815.5 609.8,815.5 610.3,815.5 610.8,815.5 611.3,815.6 611.8,815.6 612.3,815.6 612.8,815.6 613.3,815.6 613.8,815.6 614.3,815.6 614.8,815.6 615.3,815.6 615.8,815.6 616.3,815.6 616.8,815.6 617.3,815.6 617.8,815.6 618.3,815.6 618.8,815.6 619.3,815.7 619.8,815.7 620.3,815.7 620.8,815.7 621.3,815.7 621.8,815.7 622.3,815.7 622.8,815.7 623.3,815.7 623.8,815.7 624.3,815.7 624.8,815.7 625.3,815.7 625.8,815.7 626.3,815.7 626.8,815.7 627.3,815.7 627.8,815.8 628.3,815.8 628.8,815.8 629.3,815.8 629.8,815.8 630.3,815.8 630.8,815.8 631.3,815.8 631.8,815.8 632.3,815.8 632.8,815.8 633.3,815.8 633.8,815.8 634.3,815.8 634.8,815.8 635.3,815.8 635.8,815.8 636.3,815.8 636.8,815.9 637.3,815.9 637.8,815.9 638.3,815.9 638.8,815.9 639.3,815.9 639.8,815.9 640.3,815.9 640.8,815.9 641.3,815.9 641.8,815.9 642.3,815.9 642.8,815.9 643.3,815.9 643.8,815.9 644.3,815.9 644.8,815.9 645.3,815.9 645.8,815.9 646.3,815.9 646.8,815.9 647.3,815.9 647.8,816.0 648.3,816.0 648.8,816.0 649.3,816.0 649.8,816.0 650.3,816.0 650.8,816.0 651.3,816.0 651.8,816.0 652.3,816.0 652.8,816.0 653.3,816.0 653.8,816.0 654.3,816.0 654.8,816.0 655.3,816.0 655.8,816.0 656.3,816.0 656.8,816.0 657.3,816.0 657.8,816.0 658.3,816.0 658.8,816.0 659.3,816.0 659.8,816.0 660.3,816.0 660.8,816.0 661.3,816.0 661.8,816.0 662.3,816.0 662.8,816.1 663.3,816.1 663.8,816.1 664.3,816.1 664.8,816.1 665.3,816.1 665.8,816.1 666.3,816.1 666.8,816.1 667.3,816.1 667.8,816.1 668.3,816.1 668.8,816.1 669.3,816.1 669.8,816.1 670.3,816.1 670.8,816.1 671.3,816.1 671.8,816.1 672.3,816.1 672.8,816.1 673.3,816.1 673.8,816.1 674.3,816.1 674.8,816.1 675.3,816.1 675.8,816.1 676.3,816.1 676.8,816.1 677.3,816.1 677.8,816.1 678.3,816.1 678.8,816.1 679.3,816.1 679.8,816.1 680.3,816.1 680.8,816.1 681.3,816.1" />
<polyline fill="none" stroke="#c070c0" stroke-width="1.1" stroke-linejoin="round" stroke-linecap="round" points="410.3,810.4 410.8,810.4 411.3,810.4 411.8,810.3 412.3,810.3 412.8,810.3 413.3,810.2 413.8,810.2 414.3,810.2 414.8,810.1 415.3,810.1 415.8,810.1 416.3,810.0 416.8,810.0 417.3,809.9 417.8,809.9 418.3,809.8 418.8,809.8 419.3,809.7 419.8,809.7 420.3,809.6 420.8,809.6 421.3,809.5 421.8,809.4 422.3,809.4 422.8,809.3 423.3,809.2 423.8,809.1 424.3,809.1 424.8,809.0 425.3,808.9 425.8,808.8 426.3,808.7 426.8,808.6 427.3,808.5 427.8,808.4 428.3,808.3 428.8,808.1 429.3,808.0 429.8,807.9 430.3,807.7 430.8,807.6 431.3,807.5 431.8,807.3 432.3,807.1 432.8,807.0 433.3,806.8 433.8,806.6 434.3,806.4 434.8,806.3 435.3,806.1 435.8,805.9 436.3,805.6 436.8,805.4 437.3,805.2 437.8,805.0 438.3,804.7 438.8,804.5 439.3,804.2 439.8,803.9 440.3,803.6 440.8,803.3 441.3,803.0 441.8,802.7 442.3,802.4 442.8,802.1 443.3,801.7 443.8,801.4 444.3,801.0 444.8,800.6 445.3,800.3 445.8,799.9 446.3,799.5 446.8,799.0 447.3,798.6 447.8,798.1 448.3,797.7 448.8,797.2 449.3,796.7 449.8,796.2 450.3,795.7 450.8,795.2 451.3,794.6 451.8,794.0 452.3,793.5 452.8,792.9 453.3,792.3 453.8,791.6 454.3,791.0 454.8,790.3 455.3,789.7 455.8,789.0 456.3,788.3 456.8,787.5 457.3,786.8 457.8,786.1 458.3,785.3 458.8,784.5 459.3,783.7 459.8,782.8 460.3,782.0 460.8,781.1 461.3,780.2 461.8,779.3 462.3,778.4 462.8,777.5 463.3,776.5 463.8,775.5 464.3,774.5 464.8,773.5 465.3,772.5 465.8,771.4 466.3,770.4 466.8,769.3 467.3,768.2 467.8,767.1 468.3,765.9 468.8,764.7 469.3,763.6 469.8,762.4 470.3,761.1 470.8,759.9 471.3,758.7 471.8,757.4 472.3,756.1 472.8,754.8 473.3,753.5 473.8,752.1 474.3,750.8 474.8,749.4 475.3,748.0 475.8,746.6 476.3,745.2 476.8,743.8 477.3,742.4 477.8,740.9 478.3,739.4 478.8,737.9 479.3,736.5 479.8,734.9 480.3,733.4 480.8,731.9 481.3,730.4 481.8,728.8 482.3,727.3 482.8,725.7 483.3,724.1 483.8,722.5 484.3,720.9 484.8,719.4 485.3,717.8 485.8,716.2 486.3,714.5 486.8,712.9 487.3,711.3 487.8,709.7 488.3,708.1 488.8,706.5 489.3,704.9 489.8,703.3 490.3,701.6 490.8,700.0 491.3,698.4 491.8,696.8 492.3,695.2 492.8,693.7 493.3,692.1 493.8,690.5 494.3,689.0 494.8,687.4 495.3,685.9 495.8,684.3 496.3,682.8 496.8,681.3 497.3,679.8 497.8,678.4 498.3,676.9 498.8,675.5 499.3,674.1 499.8,672.7 500.3,671.3 500.8,669.9 501.3,668.6 501.8,667.3 502.3,666.0 502.8,664.7 503.3,663.5 503.8,662.3 504.3,661.1 504.8,659.9 505.3,658.8 505.8,657.7 506.3,656.7 506.8,655.6 507.3,654.6 507.8,653.6 508.3,652.7 508.8,651.8 509.3,650.9 509.8,650.1 510.3,649.3 510.8,648.5 511.3,647.8 511.8,647.1 512.3,646.4 512.8,645.8 513.3,645.3 513.8,644.7 514.3,644.2 514.8,643.8 515.3,643.3 515.8,643.0 516.3,642.6 516.8,642.3 517.3,642.1 517.8,641.9 518.3,641.7 518.8,641.6 519.3,641.5 519.8,641.5 520.3,641.4 520.8,641.5 521.3,641.6 521.8,641.7 522.3,641.9 522.8,642.1 523.3,642.3 523.8,642.6 524.3,642.9 524.8,643.3 525.3,643.7 525.8,644.2 526.3,644.7 526.8,645.2 527.3,645.8 527.8,646.4 528.3,647.1 528.8,647.8 529.3,648.5 529.8,649.3 530.3,650.1 530.8,650.9 531.3,651.8 531.8,652.7 532.3,653.6 532.8,654.6 533.3,655.6 533.8,656.7 534.3,657.7 534.8,658.8 535.3,660.0 535.8,661.1 536.3,662.3 536.8,663.6 537.3,664.8 537.8,666.1 538.3,667.4 538.8,668.7 539.3,670.1 539.8,671.4 540.3,672.8 540.8,674.2 541.3,675.7 541.8,677.1 542.3,678.6 542.8,680.1 543.3,681.6 543.8,683.1 544.3,684.7 544.8,686.2 545.3,687.8 545.8,689.4 546.3,690.9 546.8,692.5 547.3,694.1 547.8,695.8 548.3,697.4 548.8,699.0 549.3,700.6 549.8,702.3 550.3,703.9 550.8,705.6 551.3,707.2 551.8,708.9 552.3,710.5 552.8,712.2 553.3,713.8 553.8,715.5 554.3,717.1 554.8,718.8 555.3,720.4 555.8,722.0 556.3,723.7 556.8,725.3 557.3,726.9 557.8,728.5 558.3,730.1 558.8,731.7 559.3,733.3 559.8,734.8 560.3,736.4 560.8,737.9 561.3,739.5 561.8,741.0 562.3,742.5 562.8,744.0 563.3,745.5 563.8,747.0 564.3,748.4 564.8,749.9 565.3,751.3 565.8,752.7 566.3,754.1 566.8,755.5 567.3,756.8 567.8,758.2 568.3,759.5 568.8,760.8 569.3,762.1 569.8,763.4 570.3,764.7 570.8,765.9 571.3,767.1 571.8,768.3 572.3,769.5 572.8,770.7 573.3,771.8 573.8,773.0 574.3,774.1 574.8,775.2 575.3,776.2 575.8,777.3 576.3,778.3 576.8,779.3 577.3,780.3 577.8,781.3 578.3,782.3 578.8,783.2 579.3,784.1 579.8,785.0 580.3,785.9 580.8,786.8 581.3,787.6 581.8,788.4 582.3,789.3 582.8,790.0 583.3,790.8 583.8,791.6 584.3,792.3 584.8,793.0 585.3,793.7 585.8,794.4 586.3,795.1 586.8,795.8 587.3,796.4 587.8,797.0 588.3,797.6 588.8,798.2 589.3,798.8 589.8,799.4 590.3,799.9 590.8,800.4 591.3,801.0 591.8,801.5 592.3,802.0 592.8,802.4 593.3,802.9 593.8,803.3 594.3,803.8 594.8,804.2 595.3,804.6 595.8,805.0 596.3,805.4 596.8,805.8 597.3,806.1 597.8,806.5 598.3,806.8 598.8,807.2 599.3,807.5 599.8,807.8 600.3,808.1 600.8,808.4 601.3,808.7 601.8,808.9 602.3,809.2 602.8,809.5 603.3,809.7 603.8,809.9 604.3,810.2 604.8,810.4 605.3,810.6 605.8,810.8 606.3,811.0 606.8,811.2 607.3,811.4 607.8,811.6 608.3,811.7 608.8,811.9 609.3,812.1 609.8,812.2 610.3,812.4 610.8,812.5 611.3,812.7 611.8,812.8 612.3,812.9 612.8,813.0 613.3,813.2 613.8,813.3 614.3,813.4 614.8,813.5 615.3,813.6 615.8,813.7 616.3,813.8 616.8,813.9 617.3,814.0 617.8,814.1 618.3,814.1 618.8,814.2 619.3,814.3 619.8,814.4 620.3,814.4 620.8,814.5 621.3,814.6 621.8,814.6 622.3,814.7 622.8,814.7 623.3,814.8 623.8,814.8 624.3,814.9 624.8,814.9 625.3,815.0 625.8,815.0 626.3,815.1 626.8,815.1 627.3,815.1 627.8,815.2 628.3,815.2 628.8,815.2 629.3,815.3 629.8,815.3 630.3,815.3 630.8,815.4 631.3,815.4 631.8,815.4 632.3,815.5 632.8,815.5 633.3,815.5 633.8,815.5 634.3,815.5 634.8,815.6 635.3,815.6 635.8,815.6 636.3,815.6 636.8,815.6 637.3,815.7 637.8,815.7 638.3,815.7 638.8,815.7 639.3,815.7 639.8,815.7 640.3,815.7 640.8,815.8 641.3,815.8 641.8,815.8 642.3,815.8 642.8,815.8 643.3,815.8 643.8,815.8 644.3,815.8 644.8,815.8 645.3,815.9 645.8,815.9 646.3,815.9 646.8,815.9 647.3,815.9 647.8,815.9 648.3,815.9 648.8,815.9 649.3,815.9 649.8,815.9 650.3,815.9 650.8,815.9 651.3,815.9 651.8,815.9 652.3,816.0 652.8,816.0 653.3,816.0 653.8,816.0 654.3,816.0 654.8,816.0 655.3,816.0 655.8,816.0 656.3,816.0 656.8,816.0 657.3,816.0 657.8,816.0 658.3,816.0 658.8,816.0 659.3,816.0 659.8,816.0 660.3,816.0 660.8,816.0 661.3,816.0 661.8,816.0 662.3,816.0 662.8,816.0 663.3,816.0 663.8,816.1 664.3,816.1 664.8,816.1" />
<polyline fill="none" stroke="#6a6ad0" stroke-width="1.1" stroke-linejoin="round" stroke-linecap="round" points="485.3,811.5 485.8,811.5 486.3,811.5 486.8,811.5 487.3,811.5 487.8,811.5 488.3,811.5 488.8,811.6 489.3,811.6 489.8,811.6 490.3,811.6 490.8,811.6 491.3,811.6 491.8,811.7 492.3,811.7 492.8,811.7 493.3,811.7 493.8,811.7 494.3,811.7 494.8,811.7 495.3,811.8 495.8,811.8 496.3,811.8 496.8,811.8 497.3,811.8 497.8,811.8 498.3,811.8 498.8,811.8 499.3,811.8 499.8,811.8 500.3,811.8 500.8,811.9 501.3,811.9 501.8,811.9 502.3,811.9 502.8,811.9 503.3,811.9 503.8,811.8 504.3,811.8 504.8,811.8 505.3,811.8 505.8,811.8 506.3,811.8 506.8,811.8 507.3,811.7 507.8,811.7 508.3,811.7 508.8,811.7 509.3,811.6 509.8,811.6 510.3,811.5 510.8,811.5 511.3,811.4 511.8,811.4 512.3,811.3 512.8,811.2 513.3,811.2 513.8,811.1 514.3,811.0 514.8,810.9 515.3,810.8 515.8,810.7 516.3,810.5 516.8,810.4 517.3,810.3 517.8,810.1 518.3,810.0 518.8,809.8 519.3,809.6 519.8,809.5 520.3,809.3 520.8,809.1 521.3,808.8 521.8,808.6 522.3,808.4 522.8,808.1 523.3,807.8 523.8,807.6 524.3,807.3 524.8,807.0 525.3,806.6 525.8,806.3 526.3,806.0 526.8,805.6 527.3,805.2 527.8,804.8 528.3,804.4 528.8,804.0 529.3,803.5 529.8,803.1 530.3,802.6 530.8,802.1 531.3,801.6 531.8,801.0 532.3,800.5 532.8,799.9 533.3,799.4 533.8,798.8 534.3,798.2 534.8,797.5 535.3,796.9 535.8,796.3 536.3,795.6 536.8,794.9 537.3,794.2 537.8,793.5 538.3,792.8 538.8,792.1 539.3,791.3 539.8,790.6 540.3,789.8 540.8,789.1 541.3,788.3 541.8,787.5 542.3,786.7 542.8,785.9 543.3,785.1 543.8,784.3 544.3,783.5 544.8,782.7 545.3,781.9 545.8,781.1 546.3,780.3 546.8,779.5 547.3,778.7 547.8,778.0 548.3,777.2 548.8,776.4 549.3,775.7 549.8,774.9 550.3,774.2 550.8,773.5 551.3,772.8 551.8,772.1 552.3,771.4 552.8,770.8 553.3,770.2 553.8,769.6 554.3,769.0 554.8,768.5 555.3,767.9 555.8,767.4 556.3,767.0 556.8,766.5 557.3,766.1 557.8,765.7 558.3,765.4 558.8,765.1 559.3,764.8 559.8,764.6 560.3,764.3 560.8,764.2 561.3,764.0 561.8,763.9 562.3,763.8 562.8,763.8 563.3,763.8 563.8,763.8 564.3,763.9 564.8,764.0 565.3,764.2 565.8,764.4 566.3,764.6 566.8,764.9 567.3,765.2 567.8,765.5 568.3,765.9 568.8,766.3 569.3,766.8 569.8,767.3 570.3,767.8 570.8,768.3 571.3,768.9 571.8,769.5 572.3,770.2 572.8,770.8 573.3,771.5 573.8,772.2 574.3,772.9 574.8,773.7 575.3,774.5 575.8,775.2 576.3,776.0 576.8,776.9 577.3,777.7 577.8,778.5 578.3,779.4 578.8,780.2 579.3,781.1 579.8,782.0 580.3,782.8 580.8,783.7 581.3,784.6 581.8,785.5 582.3,786.3 582.8,787.2 583.3,788.1 583.8,788.9 584.3,789.8 584.8,790.6 585.3,791.5 585.8,792.3 586.3,793.1 586.8,793.9 587.3,794.7 587.8,795.5 588.3,796.2 588.8,797.0 589.3,797.7 589.8,798.4 590.3,799.1 590.8,799.8 591.3,800.5 591.8,801.1 592.3,801.8 592.8,802.4 593.3,803.0 593.8,803.6 594.3,804.1 594.8,804.7 595.3,805.2 595.8,805.7 596.3,806.2 596.8,806.7 597.3,807.1 597.8,807.6 598.3,808.0 598.8,808.4 599.3,808.8 599.8,809.2 600.3,809.5 600.8,809.9 601.3,810.2 601.8,810.5 602.3,810.8 602.8,811.1 603.3,811.4 603.8,811.6 604.3,811.9 604.8,812.1 605.3,812.3 605.8,812.5 606.3,812.7 606.8,812.9 607.3,813.1 607.8,813.3 608.3,813.4 608.8,813.6 609.3,813.7 609.8,813.8 610.3,814.0 610.8,814.1 611.3,814.2 611.8,814.3 612.3,814.4 612.8,814.5 613.3,814.6 613.8,814.7 614.3,814.7 614.8,814.8 615.3,814.9 615.8,814.9 616.3,815.0 616.8,815.1 617.3,815.1 617.8,815.2 618.3,815.2 618.8,815.2 619.3,815.3 619.8,815.3 620.3,815.4 620.8,815.4 621.3,815.4 621.8,815.5 622.3,815.5 622.8,815.5 623.3,815.5 623.8,815.5 624.3,815.6 624.8,815.6 625.3,815.6 625.8,815.6 626.3,815.6 626.8,815.7 627.3,815.7 627.8,815.7 628.3,815.7 628.8,815.7 629.3,815.7 629.8,815.7 630.3,815.7 630.8,815.7 631.3,815.8 631.8,815.8 632.3,815.8 632.8,815.8 633.3,815.8 633.8,815.8 634.3,815.8 634.8,815.8 635.3,815.8 635.8,815.8 636.3,815.8 636.8,815.8 637.3,815.8 637.8,815.9 638.3,815.9 638.8,815.9 639.3,815.9 639.8,815.9" />
<polyline fill="none" stroke="#ff80ff" stroke-width="1.1" stroke-linejoin="round" stroke-linecap="round" points="525.3,813.0 525.8,813.0 526.3,813.1 526.8,813.1 527.3,813.1 527.8,813.1 528.3,813.1 528.8,813.1 529.3,813.1 529.8,813.2 530.3,813.2 530.8,813.2 531.3,813.2 531.8,813.2 532.3,813.2 532.8,813.2 533.3,813.3 533.8,813.3 534.3,813.3 534.8,813.3 535.3,813.3 535.8,813.3 536.3,813.3 536.8,813.3 537.3,813.4 537.8,813.4 538.3,813.4 538.8,813.4 539.3,813.4 539.8,813.4 540.3,813.4 540.8,813.4 541.3,813.4 541.8,813.4 542.3,813.5 542.8,813.5 543.3,813.5 543.8,813.5 544.3,813.5 544.8,813.5 545.3,813.5 545.8,813.5 546.3,813.5 546.8,813.5 547.3,813.5 547.8,813.5 548.3,813.5 548.8,813.5 549.3,813.5 549.8,813.5 550.3,813.5 550.8,813.5 551.3,813.5 551.8,813.5 552.3,813.5 552.8,813.5 553.3,813.5 553.8,813.5 554.3,813.5 554.8,813.5 555.3,813.4 555.8,813.4 556.3,813.4 556.8,813.4 557.3,813.4 557.8,813.4 558.3,813.3 558.8,813.3 559.3,813.3 559.8,813.3 560.3,813.2 560.8,813.2 561.3,813.2 561.8,813.2 562.3,813.1 562.8,813.1 563.3,813.1 563.8,813.0 564.3,813.0 564.8,812.9 565.3,812.9 565.8,812.8 566.3,812.8 566.8,812.8 567.3,812.7 567.8,812.6 568.3,812.6 568.8,812.5 569.3,812.5 569.8,812.4 570.3,812.4 570.8,812.3 571.3,812.2 571.8,812.2 572.3,812.1 572.8,812.0 573.3,811.9 573.8,811.9 574.3,811.8 574.8,811.7 575.3,811.6 575.8,811.5 576.3,811.4 576.8,811.4 577.3,811.3 577.8,811.2 578.3,811.1 578.8,811.0 579.3,810.9 579.8,810.8 580.3,810.7 580.8,810.6 581.3,810.5 581.8,810.4 582.3,810.3 582.8,810.2 583.3,810.1 583.8,810.0 584.3,809.9 584.8,809.7 585.3,809.6 585.8,809.5 586.3,809.4 586.8,809.3 587.3,809.2 587.8,809.1 588.3,808.9 588.8,808.8 589.3,808.7 589.8,808.6 590.3,808.5 590.8,808.4 591.3,808.3 591.8,808.1 592.3,808.0 592.8,807.9 593.3,807.8 593.8,807.7 594.3,807.6 594.8,807.5 595.3,807.4 595.8,807.3 596.3,807.2 596.8,807.1 597.3,807.0 597.8,806.9 598.3,806.8 598.8,806.7 599.3,806.6 599.8,806.5 600.3,806.4 600.8,806.3 601.3,806.2 601.8,806.1 602.3,806.1 602.8,806.0 603.3,805.9 603.8,805.8 604.3,805.8 604.8,805.7 605.3,805.7 605.8,805.6 606.3,805.6 606.8,805.5 607.3,805.5 607.8,805.4 608.3,805.4 608.8,805.4 609.3,805.3 609.8,805.3 610.3,805.3 610.8,805.3 611.3,805.3 611.8,805.3 612.3,805.3 612.8,805.3 613.3,805.3 613.8,805.3 614.3,805.3 614.8,805.3 615.3,805.4 615.8,805.4 616.3,805.4 616.8,805.5 617.3,805.5 617.8,805.6 618.3,805.7 618.8,805.7 619.3,805.8 619.8,805.9 620.3,806.0 620.8,806.0 621.3,806.1 621.8,806.2 622.3,806.3 622.8,806.4 623.3,806.5 623.8,806.7 624.3,806.8 624.8,806.9 625.3,807.0 625.8,807.1 626.3,807.3 626.8,807.4 627.3,807.5 627.8,807.7 628.3,807.8 628.8,808.0 629.3,808.1 629.8,808.2 630.3,808.4 630.8,808.5 631.3,808.7 631.8,808.8 632.3,809.0 632.8,809.1 633.3,809.3 633.8,809.4 634.3,809.6 634.8,809.8 635.3,809.9 635.8,810.1 636.3,810.2 636.8,810.4 637.3,810.5 637.8,810.7 638.3,810.8 638.8,810.9 639.3,811.1 639.8,811.2 640.3,811.4 640.8,811.5 641.3,811.7 641.8,811.8 642.3,811.9 642.8,812.1 643.3,812.2 643.8,812.3 644.3,812.4 644.8,812.6 645.3,812.7 645.8,812.8 646.3,812.9 646.8,813.0 647.3,813.2 647.8,813.3 648.3,813.4 648.8,813.5 649.3,813.6 649.8,813.7 650.3,813.8 650.8,813.9 651.3,814.0 651.8,814.0 652.3,814.1 652.8,814.2 653.3,814.3 653.8,814.4 654.3,814.4 654.8,814.5 655.3,814.6 655.8,814.7 656.3,814.7 656.8,814.8 657.3,814.9 657.8,814.9 658.3,815.0 658.8,815.0 659.3,815.1 659.8,815.1 660.3,815.2 660.8,815.2 661.3,815.3 661.8,815.3 662.3,815.4 662.8,815.4 663.3,815.4 663.8,815.5 664.3,815.5 664.8,815.5 665.3,815.6 665.8,815.6 666.3,815.6 666.8,815.7 667.3,815.7 667.8,815.7 668.3,815.7 668.8,815.8 669.3,815.8 669.8,815.8 670.3,815.8 670.8,815.8 671.3,815.8 671.8,815.9" />
<polyline fill="none" stroke="#111111" stroke-width="1.5" stroke-linejoin="round" stroke-linecap="round" points="378.8,810.9 379.3,810.9 379.8,810.9 380.3,810.9 380.8,810.9 381.3,810.9 381.8,810.9 382.3,810.9 382.8,810.9 383.3,810.9 383.8,811.0 384.3,811.0 384.8,811.0 385.3,811.0 385.8,811.0 386.3,811.0 386.8,811.0 387.3,811.0 387.8,811.0 388.3,811.0 388.8,811.0 389.3,811.0 389.8,811.0 390.3,811.0 390.8,811.0 391.3,811.0 391.8,811.0 392.3,811.0 392.8,811.0 393.3,811.0 393.8,811.0 394.3,811.0 394.8,811.0 395.3,811.0 395.8,811.0 396.3,811.0 396.8,811.0 397.3,811.0 397.8,811.0 398.3,811.0 398.8,811.0 399.3,811.0 399.8,811.0 400.3,811.0 400.8,811.0 401.3,811.0 401.8,810.9 402.3,810.9 402.8,810.9 403.3,810.9 403.8,810.9 404.3,810.8 404.8,810.8 405.3,810.8 405.8,810.7 406.3,810.7 406.8,810.7 407.3,810.6 407.8,810.6 408.3,810.5 408.8,810.5 409.3,810.4 409.8,810.4 410.3,810.3 410.8,810.3 411.3,810.2 411.8,810.1 412.3,810.1 412.8,810.0 413.3,810.0 413.8,809.9 414.3,809.8 414.8,809.7 415.3,809.7 415.8,809.6 416.3,809.5 416.8,809.4 417.3,809.3 417.8,809.2 418.3,809.1 418.8,809.0 419.3,808.9 419.8,808.8 420.3,808.6 420.8,808.5 421.3,808.4 421.8,808.2 422.3,808.1 422.8,807.9 423.3,807.8 423.8,807.6 424.3,807.5 424.8,807.3 425.3,807.2 425.8,807.0 426.3,806.8 426.8,806.6 427.3,806.5 427.8,806.3 428.3,806.1 428.8,805.9 429.3,805.7 429.8,805.5 430.3,805.3 430.8,805.1 431.3,804.9 431.8,804.7 432.3,804.5 432.8,804.3 433.3,804.0 433.8,803.8 434.3,803.5 434.8,803.3 435.3,803.0 435.8,802.8 436.3,802.5 436.8,802.2 437.3,801.9 437.8,801.7 438.3,801.4 438.8,801.1 439.3,800.8 439.8,800.4 440.3,800.1 440.8,799.8 441.3,799.5 441.8,799.1 442.3,798.8 442.8,798.4 443.3,798.1 443.8,797.7 444.3,797.3 444.8,796.9 445.3,796.5 445.8,796.1 446.3,795.7 446.8,795.3 447.3,794.8 447.8,794.4 448.3,793.9 448.8,793.4 449.3,792.9 449.8,792.4 450.3,791.9 450.8,791.4 451.3,790.8 451.8,790.3 452.3,789.7 452.8,789.2 453.3,788.6 453.8,788.0 454.3,787.5 454.8,786.9 455.3,786.3 455.8,785.7 456.3,785.0 456.8,784.4 457.3,783.8 457.8,783.1 458.3,782.5 458.8,781.8 459.3,781.1 459.8,780.4 460.3,779.6 460.8,778.9 461.3,778.1 461.8,777.3 462.3,776.5 462.8,775.7 463.3,774.8 463.8,774.0 464.3,773.1 464.8,772.1 465.3,771.2 465.8,770.2 466.3,769.2 466.8,768.2 467.3,767.2 467.8,766.2 468.3,765.1 468.8,764.0 469.3,763.0 469.8,761.9 470.3,760.8 470.8,759.7 471.3,758.5 471.8,757.4 472.3,756.2 472.8,755.1 473.3,753.9 473.8,752.7 474.3,751.5 474.8,750.3 475.3,749.0 475.8,747.8 476.3,746.5 476.8,745.2 477.3,743.9 477.8,742.6 478.3,741.3 478.8,740.0 479.3,738.6 479.8,737.3 480.3,735.9 480.8,734.5 481.3,733.1 481.8,731.7 482.3,730.3 482.8,728.8 483.3,727.4 483.8,726.0 484.3,724.5 484.8,723.0 485.3,721.6 485.8,720.1 486.3,718.6 486.8,717.1 487.3,715.6 487.8,714.1 488.3,712.6 488.8,711.1 489.3,709.6 489.8,708.1 490.3,706.6 490.8,705.1 491.3,703.6 491.8,702.1 492.3,700.6 492.8,699.0 493.3,697.5 493.8,696.0 494.3,694.5 494.8,693.0 495.3,691.5 495.8,689.9 496.3,688.4 496.8,686.9 497.3,685.3 497.8,683.8 498.3,682.2 498.8,680.6 499.3,679.0 499.8,677.4 500.3,675.8 500.8,674.2 501.3,672.6 501.8,671.0 502.3,669.5 502.8,667.9 503.3,666.4 503.8,664.9 504.3,663.4 504.8,662.0 505.3,660.6 505.8,659.3 506.3,658.0 506.8,656.7 507.3,655.4 507.8,654.2 508.3,653.0 508.8,651.8 509.3,650.6 509.8,649.5 510.3,648.4 510.8,647.4 511.3,646.3 511.8,645.4 512.3,644.5 512.8,643.6 513.3,642.8 513.8,642.1 514.3,641.4 514.8,640.7 515.3,640.1 515.8,639.5 516.3,639.0 516.8,638.5 517.3,638.0 517.8,637.5 518.3,637.1 518.8,636.7 519.3,636.3 519.8,635.9 520.3,635.6 520.8,635.3 521.3,635.0 521.8,634.7 522.3,634.5 522.8,634.3 523.3,634.2 523.8,634.1 524.3,634.0 524.8,634.0 525.3,634.0 525.8,634.0 526.3,634.1 526.8,634.2 527.3,634.3 527.8,634.4 528.3,634.6 528.8,634.8 529.3,635.0 529.8,635.3 530.3,635.5 530.8,635.8 531.3,636.1 531.8,636.4 532.3,636.7 532.8,637.0 533.3,637.3 533.8,637.7 534.3,638.1 534.8,638.4 535.3,638.8 535.8,639.3 536.3,639.7 536.8,640.2 537.3,640.7 537.8,641.2 538.3,641.8 538.8,642.4 539.3,643.1 539.8,643.8 540.3,644.5 540.8,645.2 541.3,646.0 541.8,646.8 542.3,647.6 542.8,648.4 543.3,649.3 543.8,650.1 544.3,651.0 544.8,651.9 545.3,652.7 545.8,653.6 546.3,654.5 546.8,655.4 547.3,656.3 547.8,657.2 548.3,658.1 548.8,659.1 549.3,660.0 549.8,661.0 550.3,662.0 550.8,662.9 551.3,663.9 551.8,664.9 552.3,666.0 552.8,667.0 553.3,668.0 553.8,669.1 554.3,670.1 554.8,671.2 555.3,672.3 555.8,673.3 556.3,674.4 556.8,675.5 557.3,676.5 557.8,677.6 558.3,678.7 558.8,679.8 559.3,680.9 559.8,682.0 560.3,683.1 560.8,684.2 561.3,685.3 561.8,686.5 562.3,687.6 562.8,688.8 563.3,689.9 563.8,691.1 564.3,692.3 564.8,693.6 565.3,694.8 565.8,696.1 566.3,697.4 566.8,698.7 567.3,700.1 567.8,701.5 568.3,702.9 568.8,704.4 569.3,705.9 569.8,707.4 570.3,709.0 570.8,710.6 571.3,712.3 571.8,713.9 572.3,715.6 572.8,717.3 573.3,719.0 573.8,720.7 574.3,722.4 574.8,724.1 575.3,725.7 575.8,727.4 576.3,729.1 576.8,730.7 577.3,732.3 577.8,733.9 578.3,735.5 578.8,737.1 579.3,738.6 579.8,740.2 580.3,741.7 580.8,743.3 581.3,744.8 581.8,746.3 582.3,747.9 582.8,749.4 583.3,750.9 583.8,752.3 584.3,753.8 584.8,755.3 585.3,756.7 585.8,758.1 586.3,759.5 586.8,760.9 587.3,762.2 587.8,763.5 588.3,764.8 588.8,766.1 589.3,767.3 589.8,768.5 590.3,769.6 590.8,770.8 591.3,771.9 591.8,772.9 592.3,774.0 592.8,775.0 593.3,776.1 593.8,777.1 594.3,778.0 594.8,779.0 595.3,780.0 595.8,780.9 596.3,781.8 596.8,782.7 597.3,783.6 597.8,784.4 598.3,785.2 598.8,786.0 599.3,786.8 599.8,787.5 600.3,788.2 600.8,788.9 601.3,789.5 601.8,790.1 602.3,790.7 602.8,791.3 603.3,791.8 603.8,792.4 604.3,792.9 604.8,793.4 605.3,793.8 605.8,794.3 606.3,794.7 606.8,795.2 607.3,795.6 607.8,796.0 608.3,796.4 608.8,796.8 609.3,797.2 609.8,797.5 610.3,797.9 610.8,798.3 611.3,798.6 611.8,799.0 612.3,799.3 612.8,799.6 613.3,799.9 613.8,800.2 614.3,800.5 614.8,800.8 615.3,801.1 615.8,801.4 616.3,801.7 616.8,802.0 617.3,802.2 617.8,802.5 618.3,802.8 618.8,803.0 619.3,803.3 619.8,803.5 620.3,803.8 620.8,804.0 621.3,804.2 621.8,804.5 622.3,804.7 622.8,804.9 623.3,805.1 623.8,805.4 624.3,805.6 624.8,805.8 625.3,806.0 625.8,806.2 626.3,806.4 626.8,806.6 627.3,806.8 627.8,807.0 628.3,807.2 628.8,807.4 629.3,807.6 629.8,807.7 630.3,807.9 630.8,808.1 631.3,808.3 631.8,808.4 632.3,808.6 632.8,808.8 633.3,808.9 633.8,809.1 634.3,809.2 634.8,809.4 635.3,809.5 635.8,809.7 636.3,809.8 636.8,810.0 637.3,810.1 637.8,810.3 638.3,810.4 638.8,810.5 639.3,810.7 639.8,810.8 640.3,810.9 640.8,811.0 641.3,811.2 641.8,811.3 642.3,811.4 642.8,811.6 643.3,811.7 643.8,811.8 644.3,811.9 644.8,812.1 645.3,812.2 645.8,812.3 646.3,812.4 646.8,812.5 647.3,812.7 647.8,812.8 648.3,812.9 648.8,813.0 649.3,813.1 649.8,813.2 650.3,813.3 650.8,813.4 651.3,813.5 651.8,813.6 652.3,813.7 652.8,813.8 653.3,813.9 653.8,814.0 654.3,814.1 654.8,814.2 655.3,814.3 655.8,814.3 656.3,814.4 656.8,814.5 657.3,814.6 657.8,814.6 658.3,814.7 658.8,814.8 659.3,814.8 659.8,814.9 660.3,814.9 660.8,815.0 661.3,815.0 661.8,815.1 662.3,815.1 662.8,815.2 663.3,815.2 663.8,815.2 664.3,815.3 664.8,815.3 665.3,815.4 665.8,815.4 666.3,815.4 666.8,815.5 667.3,815.5 667.8,815.5 668.3,815.6 668.8,815.6 669.3,815.6 669.8,815.7 670.3,815.7 670.8,815.7 671.3,815.8 671.8,815.8 672.3,815.8 672.8,815.8 673.3,815.9 673.8,815.9 674.3,815.9 674.8,815.9 675.3,816.0 675.8,816.0 676.3,816.0 676.8,816.0 677.3,816.0 677.8,816.0 678.3,816.1 678.8,816.1 679.3,816.1 679.8,816.1 680.3,816.1 680.8,816.1 681.3,816.1" />
<rect x="378.8" y="590.5" width="302.99999999999994" height="235.0" fill="none" stroke="#222" stroke-width="1.2"/>
<line x1="397.40" y1="825.5" x2="397.40" y2="829.8" stroke="#222" stroke-width="1.2"/>
<text x="397.40" y="843.2" font-size="13" text-anchor="middle">536</text>
<line x1="435.46" y1="825.5" x2="435.46" y2="829.8" stroke="#222" stroke-width="1.2"/>
<text x="435.46" y="843.2" font-size="13" text-anchor="middle">535</text>
<line x1="473.52" y1="825.5" x2="473.52" y2="829.8" stroke="#222" stroke-width="1.2"/>
<text x="473.52" y="843.2" font-size="13" text-anchor="middle">534</text>
<line x1="511.58" y1="825.5" x2="511.58" y2="829.8" stroke="#222" stroke-width="1.2"/>
<text x="511.58" y="843.2" font-size="13" text-anchor="middle">533</text>
<line x1="549.64" y1="825.5" x2="549.64" y2="829.8" stroke="#222" stroke-width="1.2"/>
<text x="549.64" y="843.2" font-size="13" text-anchor="middle">532</text>
<line x1="587.70" y1="825.5" x2="587.70" y2="829.8" stroke="#222" stroke-width="1.2"/>
<text x="587.70" y="843.2" font-size="13" text-anchor="middle">531</text>
<line x1="625.76" y1="825.5" x2="625.76" y2="829.8" stroke="#222" stroke-width="1.2"/>
<text x="625.76" y="843.2" font-size="13" text-anchor="middle">530</text>
<line x1="663.82" y1="825.5" x2="663.82" y2="829.8" stroke="#222" stroke-width="1.2"/>
<text x="663.82" y="843.2" font-size="13" text-anchor="middle">529</text>
<text transform="translate(371.4,767.7) rotate(-90)" font-size="19.8" fill="#000">Intensity (a.u.)</text>
<text x="459.2" y="865.6" font-size="19.8" fill="#000" >Binding energy (eV)</text>
<text x="641.2" y="609.0" font-size="22.4" fill="#1a9fe3" >O1s</text>
<text x="503.4" y="744.7" font-size="15.6" fill="#a444ac" >O-H</text>
<text x="544.8" y="790.1" font-size="15.6" fill="#9090e0" >C=O</text>
<text x="596.1" y="817.8" font-size="15.6" fill="#ff88ff" >M-O</text>
</svg>
</body></html>
